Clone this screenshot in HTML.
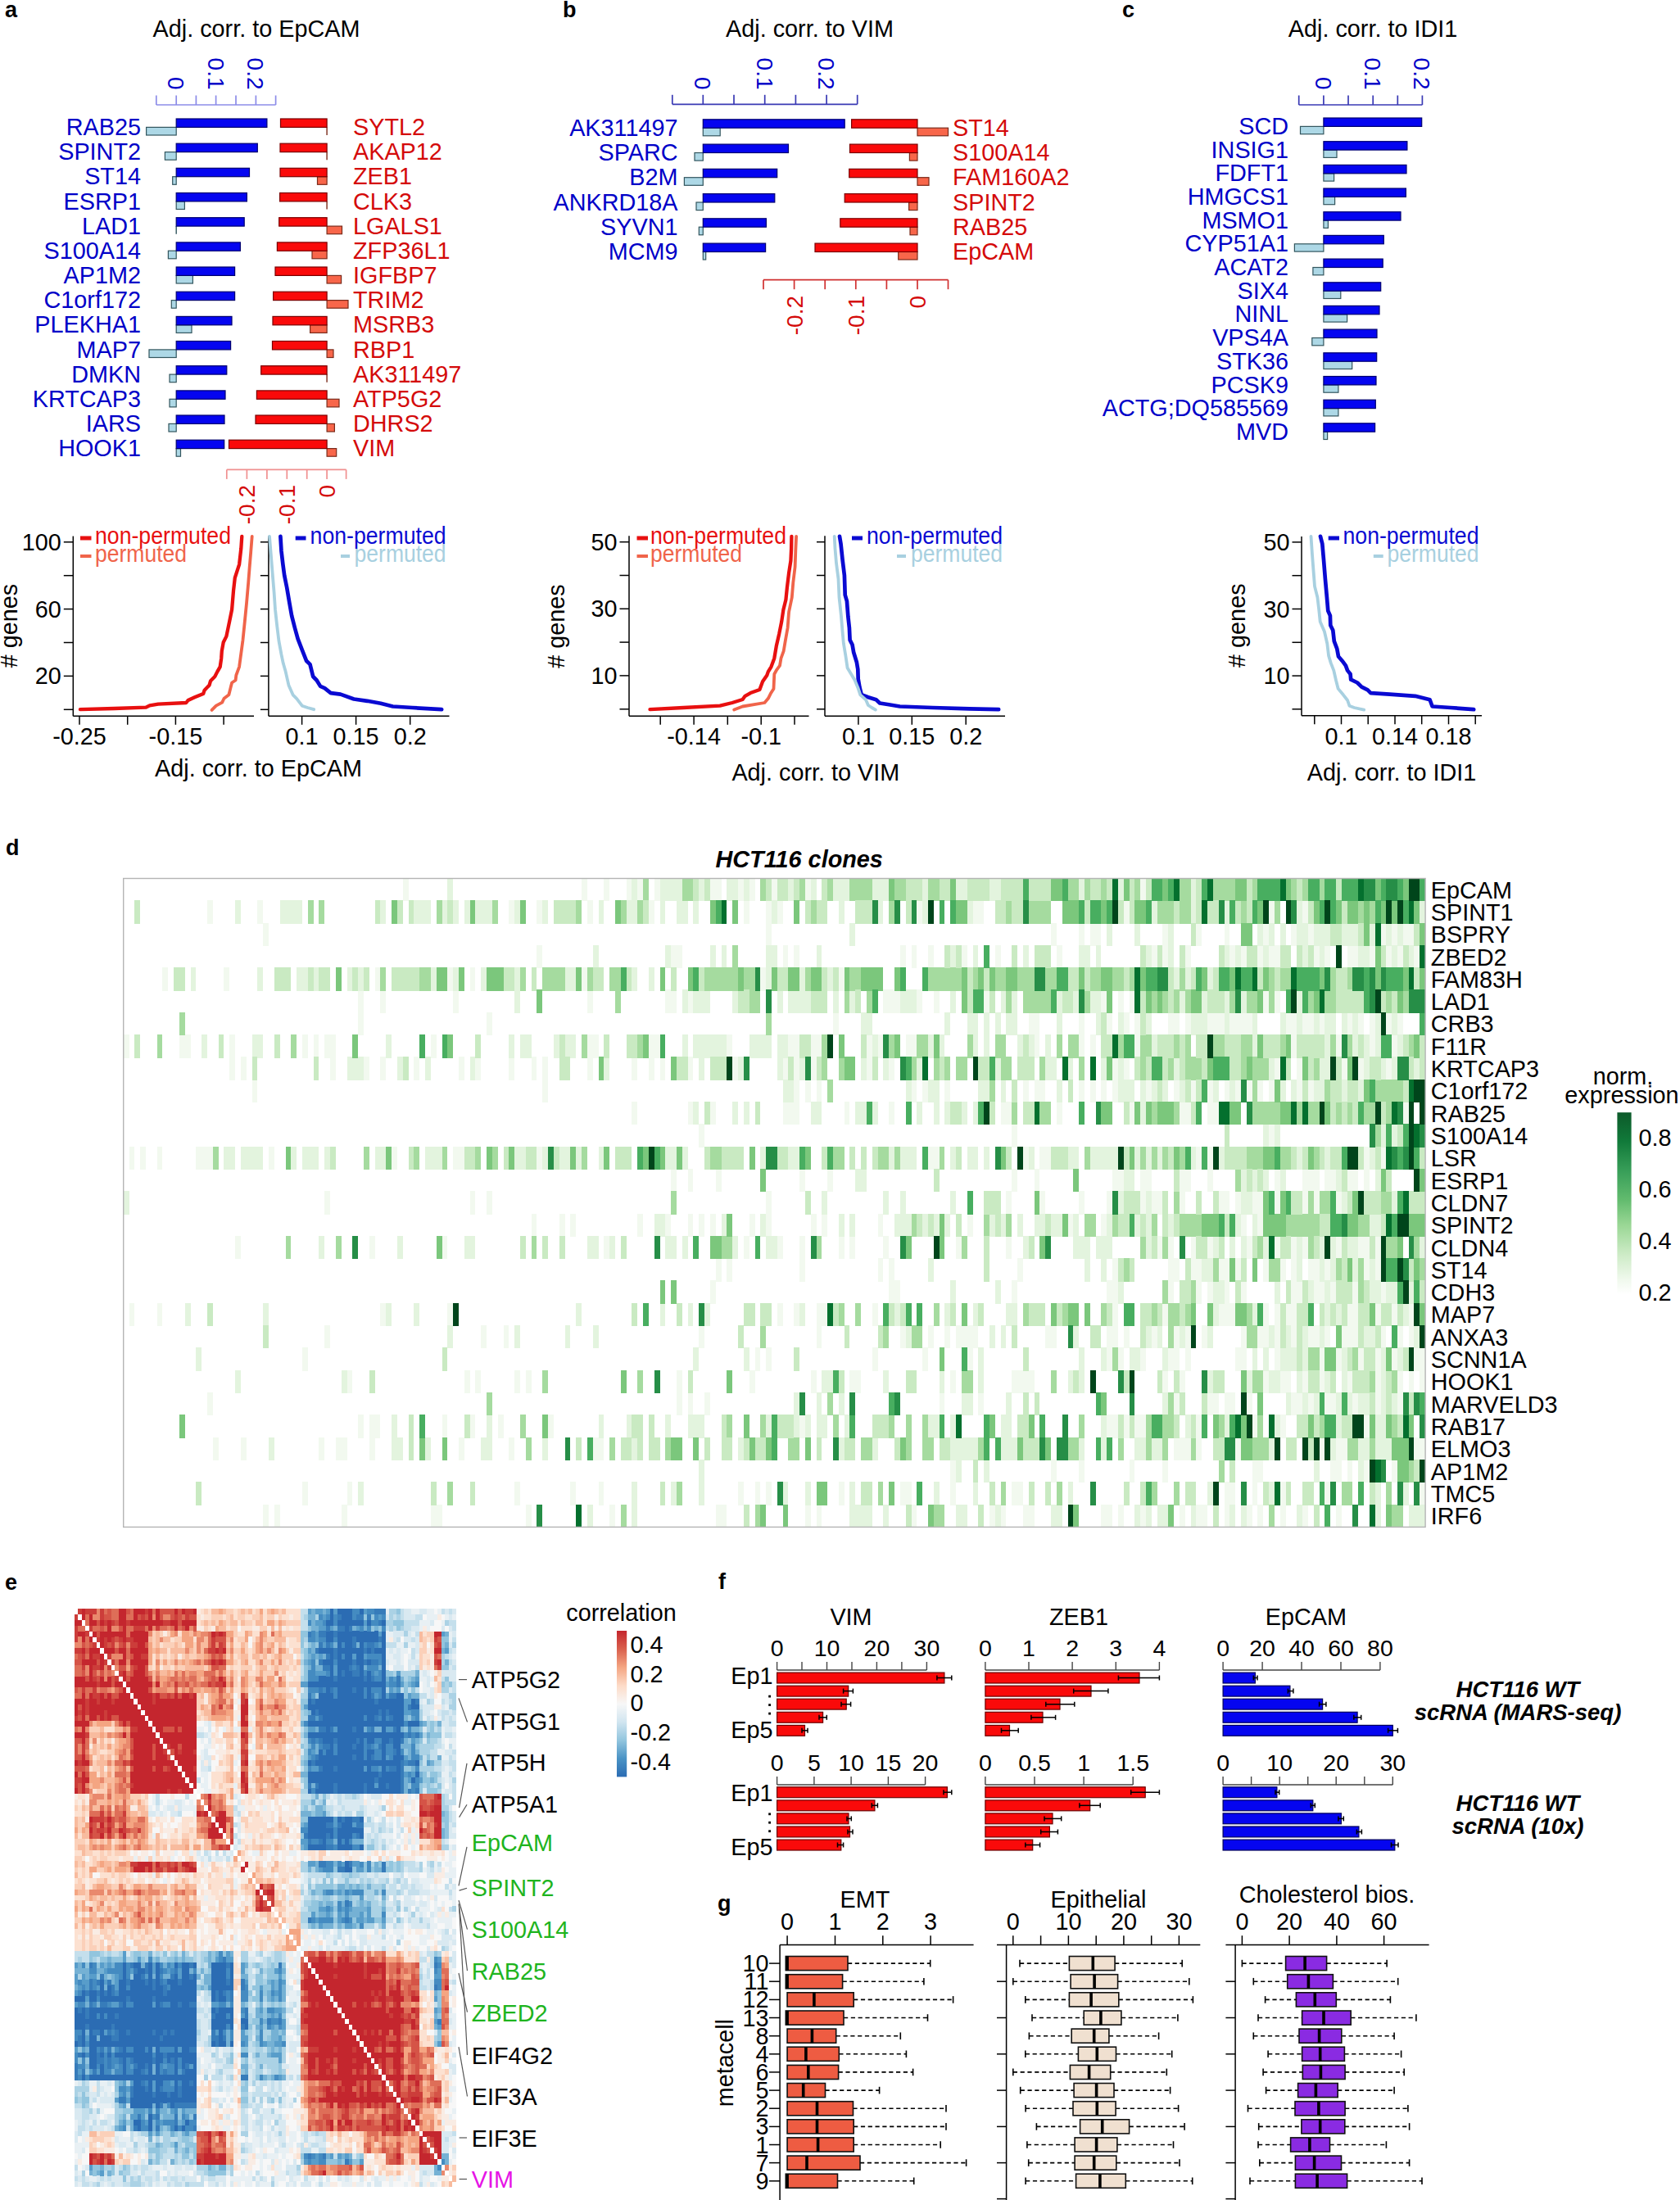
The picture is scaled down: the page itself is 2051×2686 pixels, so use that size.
<!DOCTYPE html>
<html><head><meta charset="utf-8"><title>Figure</title>
<style>html,body{margin:0;padding:0;background:#fff}svg{display:block}text{font-family:"Liberation Sans",Arial,sans-serif}</style>
</head><body>
<svg width="2051" height="2686" viewBox="0 0 2051 2686">
<rect width="2051" height="2686" fill="#fff"/>
<text x="6.0" y="21.0" font-size="27" font-weight="bold">a</text>
<text x="313.0" y="44.6" font-size="28.8" text-anchor="middle">Adj. corr. to EpCAM</text>
<line x1="190.8" y1="128.0" x2="336.6" y2="128.0" stroke="#8c8ce8" stroke-width="1.7"/>
<line x1="190.8" y1="128.0" x2="190.8" y2="116.5" stroke="#8c8ce8" stroke-width="1.7"/>
<line x1="215.2" y1="128.0" x2="215.2" y2="116.5" stroke="#8c8ce8" stroke-width="1.7"/>
<line x1="239.4" y1="128.0" x2="239.4" y2="116.5" stroke="#8c8ce8" stroke-width="1.7"/>
<line x1="263.6" y1="128.0" x2="263.6" y2="116.5" stroke="#8c8ce8" stroke-width="1.7"/>
<line x1="288.0" y1="128.0" x2="288.0" y2="116.5" stroke="#8c8ce8" stroke-width="1.7"/>
<line x1="312.4" y1="128.0" x2="312.4" y2="116.5" stroke="#8c8ce8" stroke-width="1.7"/>
<line x1="336.6" y1="128.0" x2="336.6" y2="116.5" stroke="#8c8ce8" stroke-width="1.7"/>
<text transform="translate(205.2,109.5) rotate(90)" font-size="28" text-anchor="end" fill="#0000c8">0</text>
<text transform="translate(253.6,109.5) rotate(90)" font-size="28" text-anchor="end" fill="#0000c8">0.1</text>
<text transform="translate(302.4,109.5) rotate(90)" font-size="28" text-anchor="end" fill="#0000c8">0.2</text>
<rect x="178.6" y="155.4" width="36.6" height="9.6" fill="#add8e6" stroke="#33565e" stroke-width="1.2"/>
<rect x="215.2" y="145.0" width="110.7" height="10.4" fill="#0505f0" stroke="#00006e" stroke-width="1.2"/>
<rect x="201.4" y="185.6" width="13.8" height="9.6" fill="#add8e6" stroke="#33565e" stroke-width="1.2"/>
<rect x="215.2" y="175.2" width="99.1" height="10.4" fill="#0505f0" stroke="#00006e" stroke-width="1.2"/>
<rect x="210.7" y="215.7" width="4.5" height="9.6" fill="#add8e6" stroke="#33565e" stroke-width="1.2"/>
<rect x="215.2" y="205.3" width="89.3" height="10.4" fill="#0505f0" stroke="#00006e" stroke-width="1.2"/>
<rect x="215.2" y="245.9" width="10.2" height="9.6" fill="#add8e6" stroke="#33565e" stroke-width="1.2"/>
<rect x="215.2" y="235.5" width="86.2" height="10.4" fill="#0505f0" stroke="#00006e" stroke-width="1.2"/>
<line x1="215.2" y1="276.1" x2="215.2" y2="285.7" stroke="#33565e" stroke-width="1.4"/>
<rect x="215.2" y="265.7" width="83.0" height="10.4" fill="#0505f0" stroke="#00006e" stroke-width="1.2"/>
<rect x="205.4" y="306.2" width="9.8" height="9.6" fill="#add8e6" stroke="#33565e" stroke-width="1.2"/>
<rect x="215.2" y="295.9" width="78.2" height="10.4" fill="#0505f0" stroke="#00006e" stroke-width="1.2"/>
<rect x="215.2" y="336.4" width="20.2" height="9.6" fill="#add8e6" stroke="#33565e" stroke-width="1.2"/>
<rect x="215.2" y="326.0" width="71.4" height="10.4" fill="#0505f0" stroke="#00006e" stroke-width="1.2"/>
<rect x="209.3" y="366.6" width="5.9" height="9.6" fill="#add8e6" stroke="#33565e" stroke-width="1.2"/>
<rect x="215.2" y="356.2" width="71.4" height="10.4" fill="#0505f0" stroke="#00006e" stroke-width="1.2"/>
<rect x="215.2" y="396.8" width="18.8" height="9.6" fill="#add8e6" stroke="#33565e" stroke-width="1.2"/>
<rect x="215.2" y="386.4" width="67.8" height="10.4" fill="#0505f0" stroke="#00006e" stroke-width="1.2"/>
<rect x="182.0" y="426.9" width="33.2" height="9.6" fill="#add8e6" stroke="#33565e" stroke-width="1.2"/>
<rect x="215.2" y="416.5" width="66.4" height="10.4" fill="#0505f0" stroke="#00006e" stroke-width="1.2"/>
<rect x="207.0" y="457.1" width="8.2" height="9.6" fill="#add8e6" stroke="#33565e" stroke-width="1.2"/>
<rect x="215.2" y="446.7" width="61.6" height="10.4" fill="#0505f0" stroke="#00006e" stroke-width="1.2"/>
<rect x="207.0" y="487.3" width="8.2" height="9.6" fill="#add8e6" stroke="#33565e" stroke-width="1.2"/>
<rect x="215.2" y="476.9" width="59.8" height="10.4" fill="#0505f0" stroke="#00006e" stroke-width="1.2"/>
<rect x="206.0" y="517.4" width="9.2" height="9.6" fill="#add8e6" stroke="#33565e" stroke-width="1.2"/>
<rect x="215.2" y="507.0" width="58.8" height="10.4" fill="#0505f0" stroke="#00006e" stroke-width="1.2"/>
<rect x="215.2" y="547.6" width="5.3" height="9.6" fill="#add8e6" stroke="#33565e" stroke-width="1.2"/>
<rect x="215.2" y="537.2" width="58.5" height="10.4" fill="#0505f0" stroke="#00006e" stroke-width="1.2"/>
<text x="172.0" y="165.0" font-size="28.8" text-anchor="end" fill="#0000c8">RAB25</text>
<text x="172.0" y="195.2" font-size="28.8" text-anchor="end" fill="#0000c8">SPINT2</text>
<text x="172.0" y="225.3" font-size="28.8" text-anchor="end" fill="#0000c8">ST14</text>
<text x="172.0" y="255.5" font-size="28.8" text-anchor="end" fill="#0000c8">ESRP1</text>
<text x="172.0" y="285.7" font-size="28.8" text-anchor="end" fill="#0000c8">LAD1</text>
<text x="172.0" y="315.9" font-size="28.8" text-anchor="end" fill="#0000c8">S100A14</text>
<text x="172.0" y="346.0" font-size="28.8" text-anchor="end" fill="#0000c8">AP1M2</text>
<text x="172.0" y="376.2" font-size="28.8" text-anchor="end" fill="#0000c8">C1orf172</text>
<text x="172.0" y="406.4" font-size="28.8" text-anchor="end" fill="#0000c8">PLEKHA1</text>
<text x="172.0" y="436.5" font-size="28.8" text-anchor="end" fill="#0000c8">MAP7</text>
<text x="172.0" y="466.7" font-size="28.8" text-anchor="end" fill="#0000c8">DMKN</text>
<text x="172.0" y="496.9" font-size="28.8" text-anchor="end" fill="#0000c8">KRTCAP3</text>
<text x="172.0" y="527.0" font-size="28.8" text-anchor="end" fill="#0000c8">IARS</text>
<text x="172.0" y="557.2" font-size="28.8" text-anchor="end" fill="#0000c8">HOOK1</text>
<line x1="399.1" y1="155.4" x2="399.1" y2="165.0" stroke="#7a2a1a" stroke-width="1.4"/>
<rect x="342.5" y="145.0" width="56.6" height="10.4" fill="#fa0a0a" stroke="#7a0000" stroke-width="1.2"/>
<line x1="399.1" y1="185.6" x2="399.1" y2="195.2" stroke="#7a2a1a" stroke-width="1.4"/>
<rect x="342.0" y="175.2" width="57.1" height="10.4" fill="#fa0a0a" stroke="#7a0000" stroke-width="1.2"/>
<rect x="387.5" y="215.7" width="11.6" height="9.6" fill="#f8664a" stroke="#7a2a1a" stroke-width="1.2"/>
<rect x="342.0" y="205.3" width="57.1" height="10.4" fill="#fa0a0a" stroke="#7a0000" stroke-width="1.2"/>
<line x1="399.1" y1="245.9" x2="399.1" y2="255.5" stroke="#7a2a1a" stroke-width="1.4"/>
<rect x="341.6" y="235.5" width="57.5" height="10.4" fill="#fa0a0a" stroke="#7a0000" stroke-width="1.2"/>
<rect x="399.1" y="276.1" width="18.4" height="9.6" fill="#f8664a" stroke="#7a2a1a" stroke-width="1.2"/>
<rect x="340.7" y="265.7" width="58.4" height="10.4" fill="#fa0a0a" stroke="#7a0000" stroke-width="1.2"/>
<rect x="381.0" y="306.2" width="18.1" height="9.6" fill="#f8664a" stroke="#7a2a1a" stroke-width="1.2"/>
<rect x="338.4" y="295.9" width="60.7" height="10.4" fill="#fa0a0a" stroke="#7a0000" stroke-width="1.2"/>
<rect x="399.1" y="336.4" width="17.5" height="9.6" fill="#f8664a" stroke="#7a2a1a" stroke-width="1.2"/>
<rect x="336.0" y="326.0" width="63.1" height="10.4" fill="#fa0a0a" stroke="#7a0000" stroke-width="1.2"/>
<rect x="399.1" y="366.6" width="25.9" height="9.6" fill="#f8664a" stroke="#7a2a1a" stroke-width="1.2"/>
<rect x="333.6" y="356.2" width="65.5" height="10.4" fill="#fa0a0a" stroke="#7a0000" stroke-width="1.2"/>
<rect x="378.6" y="396.8" width="20.5" height="9.6" fill="#f8664a" stroke="#7a2a1a" stroke-width="1.2"/>
<rect x="333.0" y="386.4" width="66.1" height="10.4" fill="#fa0a0a" stroke="#7a0000" stroke-width="1.2"/>
<rect x="399.1" y="426.9" width="7.9" height="9.6" fill="#f8664a" stroke="#7a2a1a" stroke-width="1.2"/>
<rect x="332.5" y="416.5" width="66.6" height="10.4" fill="#fa0a0a" stroke="#7a0000" stroke-width="1.2"/>
<line x1="399.1" y1="457.1" x2="399.1" y2="466.7" stroke="#7a2a1a" stroke-width="1.4"/>
<rect x="318.7" y="446.7" width="80.4" height="10.4" fill="#fa0a0a" stroke="#7a0000" stroke-width="1.2"/>
<rect x="399.1" y="487.3" width="14.9" height="9.6" fill="#f8664a" stroke="#7a2a1a" stroke-width="1.2"/>
<rect x="313.4" y="476.9" width="85.7" height="10.4" fill="#fa0a0a" stroke="#7a0000" stroke-width="1.2"/>
<rect x="399.1" y="517.4" width="9.3" height="9.6" fill="#f8664a" stroke="#7a2a1a" stroke-width="1.2"/>
<rect x="312.0" y="507.0" width="87.1" height="10.4" fill="#fa0a0a" stroke="#7a0000" stroke-width="1.2"/>
<rect x="399.1" y="547.6" width="11.6" height="9.6" fill="#f8664a" stroke="#7a2a1a" stroke-width="1.2"/>
<rect x="279.5" y="537.2" width="119.6" height="10.4" fill="#fa0a0a" stroke="#7a0000" stroke-width="1.2"/>
<text x="431.0" y="165.0" font-size="28.8" fill="#d40a0a">SYTL2</text>
<text x="431.0" y="195.2" font-size="28.8" fill="#d40a0a">AKAP12</text>
<text x="431.0" y="225.3" font-size="28.8" fill="#d40a0a">ZEB1</text>
<text x="431.0" y="255.5" font-size="28.8" fill="#d40a0a">CLK3</text>
<text x="431.0" y="285.7" font-size="28.8" fill="#d40a0a">LGALS1</text>
<text x="431.0" y="315.9" font-size="28.8" fill="#d40a0a">ZFP36L1</text>
<text x="431.0" y="346.0" font-size="28.8" fill="#d40a0a">IGFBP7</text>
<text x="431.0" y="376.2" font-size="28.8" fill="#d40a0a">TRIM2</text>
<text x="431.0" y="406.4" font-size="28.8" fill="#d40a0a">MSRB3</text>
<text x="431.0" y="436.5" font-size="28.8" fill="#d40a0a">RBP1</text>
<text x="431.0" y="466.7" font-size="28.8" fill="#d40a0a">AK311497</text>
<text x="431.0" y="496.9" font-size="28.8" fill="#d40a0a">ATP5G2</text>
<text x="431.0" y="527.0" font-size="28.8" fill="#d40a0a">DHRS2</text>
<text x="431.0" y="557.2" font-size="28.8" fill="#d40a0a">VIM</text>
<line x1="276.8" y1="573.4" x2="422.6" y2="573.4" stroke="#f09090" stroke-width="1.7"/>
<line x1="276.8" y1="573.4" x2="276.8" y2="584.9" stroke="#f09090" stroke-width="1.7"/>
<line x1="301.4" y1="573.4" x2="301.4" y2="584.9" stroke="#f09090" stroke-width="1.7"/>
<line x1="325.9" y1="573.4" x2="325.9" y2="584.9" stroke="#f09090" stroke-width="1.7"/>
<line x1="350.3" y1="573.4" x2="350.3" y2="584.9" stroke="#f09090" stroke-width="1.7"/>
<line x1="374.7" y1="573.4" x2="374.7" y2="584.9" stroke="#f09090" stroke-width="1.7"/>
<line x1="399.1" y1="573.4" x2="399.1" y2="584.9" stroke="#f09090" stroke-width="1.7"/>
<line x1="422.6" y1="573.4" x2="422.6" y2="584.9" stroke="#f09090" stroke-width="1.7"/>
<text transform="translate(311.4,592.0) rotate(-90)" font-size="28" text-anchor="end" fill="#d40a0a">-0.2</text>
<text transform="translate(360.3,592.0) rotate(-90)" font-size="28" text-anchor="end" fill="#d40a0a">-0.1</text>
<text transform="translate(409.1,592.0) rotate(-90)" font-size="28" text-anchor="end" fill="#d40a0a">0</text>
<text x="687.0" y="21.0" font-size="27" font-weight="bold">b</text>
<text x="988.5" y="44.6" font-size="28.8" text-anchor="middle">Adj. corr. to VIM</text>
<line x1="820.8" y1="127.3" x2="1046.7" y2="127.3" stroke="#3a3ab4" stroke-width="1.7"/>
<line x1="820.8" y1="127.3" x2="820.8" y2="115.8" stroke="#3a3ab4" stroke-width="1.7"/>
<line x1="858.3" y1="127.3" x2="858.3" y2="115.8" stroke="#3a3ab4" stroke-width="1.7"/>
<line x1="896.0" y1="127.3" x2="896.0" y2="115.8" stroke="#3a3ab4" stroke-width="1.7"/>
<line x1="933.7" y1="127.3" x2="933.7" y2="115.8" stroke="#3a3ab4" stroke-width="1.7"/>
<line x1="971.4" y1="127.3" x2="971.4" y2="115.8" stroke="#3a3ab4" stroke-width="1.7"/>
<line x1="1009.1" y1="127.3" x2="1009.1" y2="115.8" stroke="#3a3ab4" stroke-width="1.7"/>
<line x1="1046.7" y1="127.3" x2="1046.7" y2="115.8" stroke="#3a3ab4" stroke-width="1.7"/>
<text transform="translate(848.3,109.5) rotate(90)" font-size="28" text-anchor="end" fill="#0000c8">0</text>
<text transform="translate(923.7,109.5) rotate(90)" font-size="28" text-anchor="end" fill="#0000c8">0.1</text>
<text transform="translate(999.1,109.5) rotate(90)" font-size="28" text-anchor="end" fill="#0000c8">0.2</text>
<rect x="858.3" y="156.2" width="20.9" height="9.6" fill="#add8e6" stroke="#33565e" stroke-width="1.2"/>
<rect x="858.3" y="145.8" width="172.9" height="10.4" fill="#0505f0" stroke="#00006e" stroke-width="1.2"/>
<rect x="848.0" y="186.5" width="10.3" height="9.6" fill="#add8e6" stroke="#33565e" stroke-width="1.2"/>
<rect x="858.3" y="176.1" width="104.2" height="10.4" fill="#0505f0" stroke="#00006e" stroke-width="1.2"/>
<rect x="835.4" y="216.7" width="22.9" height="9.6" fill="#add8e6" stroke="#33565e" stroke-width="1.2"/>
<rect x="858.3" y="206.3" width="90.4" height="10.4" fill="#0505f0" stroke="#00006e" stroke-width="1.2"/>
<rect x="850.0" y="247.0" width="8.3" height="9.6" fill="#add8e6" stroke="#33565e" stroke-width="1.2"/>
<rect x="858.3" y="236.6" width="87.5" height="10.4" fill="#0505f0" stroke="#00006e" stroke-width="1.2"/>
<rect x="853.3" y="277.2" width="5.0" height="9.6" fill="#add8e6" stroke="#33565e" stroke-width="1.2"/>
<rect x="858.3" y="266.8" width="77.1" height="10.4" fill="#0505f0" stroke="#00006e" stroke-width="1.2"/>
<rect x="858.3" y="307.4" width="3.4" height="9.6" fill="#add8e6" stroke="#33565e" stroke-width="1.2"/>
<rect x="858.3" y="297.1" width="76.3" height="10.4" fill="#0505f0" stroke="#00006e" stroke-width="1.2"/>
<text x="827.5" y="165.8" font-size="28.8" text-anchor="end" fill="#0000c8">AK311497</text>
<text x="827.5" y="196.1" font-size="28.8" text-anchor="end" fill="#0000c8">SPARC</text>
<text x="827.5" y="226.3" font-size="28.8" text-anchor="end" fill="#0000c8">B2M</text>
<text x="827.5" y="256.6" font-size="28.8" text-anchor="end" fill="#0000c8">ANKRD18A</text>
<text x="827.5" y="286.8" font-size="28.8" text-anchor="end" fill="#0000c8">SYVN1</text>
<text x="827.5" y="317.1" font-size="28.8" text-anchor="end" fill="#0000c8">MCM9</text>
<rect x="1120.0" y="156.2" width="37.5" height="9.6" fill="#f8664a" stroke="#7a2a1a" stroke-width="1.2"/>
<rect x="1039.6" y="145.8" width="80.4" height="10.4" fill="#fa0a0a" stroke="#7a0000" stroke-width="1.2"/>
<rect x="1110.4" y="186.5" width="9.6" height="9.6" fill="#f8664a" stroke="#7a2a1a" stroke-width="1.2"/>
<rect x="1037.5" y="176.1" width="82.5" height="10.4" fill="#fa0a0a" stroke="#7a0000" stroke-width="1.2"/>
<rect x="1120.0" y="216.7" width="14.0" height="9.6" fill="#f8664a" stroke="#7a2a1a" stroke-width="1.2"/>
<rect x="1036.7" y="206.3" width="83.3" height="10.4" fill="#fa0a0a" stroke="#7a0000" stroke-width="1.2"/>
<rect x="1109.6" y="247.0" width="10.4" height="9.6" fill="#f8664a" stroke="#7a2a1a" stroke-width="1.2"/>
<rect x="1031.2" y="236.6" width="88.8" height="10.4" fill="#fa0a0a" stroke="#7a0000" stroke-width="1.2"/>
<rect x="1111.0" y="277.2" width="9.0" height="9.6" fill="#f8664a" stroke="#7a2a1a" stroke-width="1.2"/>
<rect x="1025.8" y="266.8" width="94.2" height="10.4" fill="#fa0a0a" stroke="#7a0000" stroke-width="1.2"/>
<rect x="1096.7" y="307.4" width="23.3" height="9.6" fill="#f8664a" stroke="#7a2a1a" stroke-width="1.2"/>
<rect x="995.0" y="297.1" width="125.0" height="10.4" fill="#fa0a0a" stroke="#7a0000" stroke-width="1.2"/>
<text x="1163.0" y="165.8" font-size="28.8" fill="#d40a0a">ST14</text>
<text x="1163.0" y="196.1" font-size="28.8" fill="#d40a0a">S100A14</text>
<text x="1163.0" y="226.3" font-size="28.8" fill="#d40a0a">FAM160A2</text>
<text x="1163.0" y="256.6" font-size="28.8" fill="#d40a0a">SPINT2</text>
<text x="1163.0" y="286.8" font-size="28.8" fill="#d40a0a">RAB25</text>
<text x="1163.0" y="317.1" font-size="28.8" fill="#d40a0a">EpCAM</text>
<line x1="932.0" y1="341.7" x2="1157.5" y2="341.7" stroke="#d03030" stroke-width="1.7"/>
<line x1="932.0" y1="341.7" x2="932.0" y2="353.2" stroke="#d03030" stroke-width="1.7"/>
<line x1="969.6" y1="341.7" x2="969.6" y2="353.2" stroke="#d03030" stroke-width="1.7"/>
<line x1="1007.2" y1="341.7" x2="1007.2" y2="353.2" stroke="#d03030" stroke-width="1.7"/>
<line x1="1044.8" y1="341.7" x2="1044.8" y2="353.2" stroke="#d03030" stroke-width="1.7"/>
<line x1="1082.4" y1="341.7" x2="1082.4" y2="353.2" stroke="#d03030" stroke-width="1.7"/>
<line x1="1120.0" y1="341.7" x2="1120.0" y2="353.2" stroke="#d03030" stroke-width="1.7"/>
<line x1="1157.5" y1="341.7" x2="1157.5" y2="353.2" stroke="#d03030" stroke-width="1.7"/>
<text transform="translate(979.6,361.0) rotate(-90)" font-size="28" text-anchor="end" fill="#d40a0a">-0.2</text>
<text transform="translate(1054.8,361.0) rotate(-90)" font-size="28" text-anchor="end" fill="#d40a0a">-0.1</text>
<text transform="translate(1130.0,361.0) rotate(-90)" font-size="28" text-anchor="end" fill="#d40a0a">0</text>
<text x="1370.0" y="21.0" font-size="27" font-weight="bold">c</text>
<text x="1676.0" y="44.6" font-size="28.8" text-anchor="middle">Adj. corr. to IDI1</text>
<line x1="1585.7" y1="128.0" x2="1736.4" y2="128.0" stroke="#3a3ab4" stroke-width="1.7"/>
<line x1="1585.7" y1="128.0" x2="1585.7" y2="116.5" stroke="#3a3ab4" stroke-width="1.7"/>
<line x1="1615.9" y1="128.0" x2="1615.9" y2="116.5" stroke="#3a3ab4" stroke-width="1.7"/>
<line x1="1646.0" y1="128.0" x2="1646.0" y2="116.5" stroke="#3a3ab4" stroke-width="1.7"/>
<line x1="1676.2" y1="128.0" x2="1676.2" y2="116.5" stroke="#3a3ab4" stroke-width="1.7"/>
<line x1="1706.3" y1="128.0" x2="1706.3" y2="116.5" stroke="#3a3ab4" stroke-width="1.7"/>
<line x1="1736.4" y1="128.0" x2="1736.4" y2="116.5" stroke="#3a3ab4" stroke-width="1.7"/>
<text transform="translate(1605.9,109.5) rotate(90)" font-size="28" text-anchor="end" fill="#0000c8">0</text>
<text transform="translate(1666.2,109.5) rotate(90)" font-size="28" text-anchor="end" fill="#0000c8">0.1</text>
<text transform="translate(1726.4,109.5) rotate(90)" font-size="28" text-anchor="end" fill="#0000c8">0.2</text>
<rect x="1587.5" y="154.4" width="28.4" height="9.3" fill="#add8e6" stroke="#33565e" stroke-width="1.2"/>
<rect x="1615.9" y="144.0" width="119.8" height="10.4" fill="#0505f0" stroke="#00006e" stroke-width="1.2"/>
<rect x="1615.9" y="183.1" width="16.1" height="9.3" fill="#add8e6" stroke="#33565e" stroke-width="1.2"/>
<rect x="1615.9" y="172.7" width="102.0" height="10.4" fill="#0505f0" stroke="#00006e" stroke-width="1.2"/>
<rect x="1615.9" y="211.8" width="12.7" height="9.3" fill="#add8e6" stroke="#33565e" stroke-width="1.2"/>
<rect x="1615.9" y="201.4" width="101.1" height="10.4" fill="#0505f0" stroke="#00006e" stroke-width="1.2"/>
<rect x="1615.9" y="240.4" width="13.7" height="9.3" fill="#add8e6" stroke="#33565e" stroke-width="1.2"/>
<rect x="1615.9" y="230.0" width="100.5" height="10.4" fill="#0505f0" stroke="#00006e" stroke-width="1.2"/>
<rect x="1615.9" y="269.1" width="5.5" height="9.3" fill="#add8e6" stroke="#33565e" stroke-width="1.2"/>
<rect x="1615.9" y="258.7" width="94.1" height="10.4" fill="#0505f0" stroke="#00006e" stroke-width="1.2"/>
<rect x="1580.4" y="297.8" width="35.5" height="9.3" fill="#add8e6" stroke="#33565e" stroke-width="1.2"/>
<rect x="1615.9" y="287.4" width="73.4" height="10.4" fill="#0505f0" stroke="#00006e" stroke-width="1.2"/>
<rect x="1602.9" y="326.5" width="13.0" height="9.3" fill="#add8e6" stroke="#33565e" stroke-width="1.2"/>
<rect x="1615.9" y="316.1" width="72.3" height="10.4" fill="#0505f0" stroke="#00006e" stroke-width="1.2"/>
<rect x="1615.9" y="355.2" width="20.9" height="9.3" fill="#add8e6" stroke="#33565e" stroke-width="1.2"/>
<rect x="1615.9" y="344.8" width="69.8" height="10.4" fill="#0505f0" stroke="#00006e" stroke-width="1.2"/>
<rect x="1615.9" y="383.8" width="28.7" height="9.3" fill="#add8e6" stroke="#33565e" stroke-width="1.2"/>
<rect x="1615.9" y="373.4" width="68.1" height="10.4" fill="#0505f0" stroke="#00006e" stroke-width="1.2"/>
<rect x="1601.8" y="412.5" width="14.1" height="9.3" fill="#add8e6" stroke="#33565e" stroke-width="1.2"/>
<rect x="1615.9" y="402.1" width="65.1" height="10.4" fill="#0505f0" stroke="#00006e" stroke-width="1.2"/>
<rect x="1615.9" y="441.2" width="34.8" height="9.3" fill="#add8e6" stroke="#33565e" stroke-width="1.2"/>
<rect x="1615.9" y="430.8" width="64.8" height="10.4" fill="#0505f0" stroke="#00006e" stroke-width="1.2"/>
<rect x="1615.9" y="469.9" width="18.0" height="9.3" fill="#add8e6" stroke="#33565e" stroke-width="1.2"/>
<rect x="1615.9" y="459.5" width="64.1" height="10.4" fill="#0505f0" stroke="#00006e" stroke-width="1.2"/>
<rect x="1615.9" y="498.6" width="18.0" height="9.3" fill="#add8e6" stroke="#33565e" stroke-width="1.2"/>
<rect x="1615.9" y="488.2" width="63.4" height="10.4" fill="#0505f0" stroke="#00006e" stroke-width="1.2"/>
<rect x="1615.9" y="527.2" width="4.7" height="9.3" fill="#add8e6" stroke="#33565e" stroke-width="1.2"/>
<rect x="1615.9" y="516.8" width="62.7" height="10.4" fill="#0505f0" stroke="#00006e" stroke-width="1.2"/>
<text x="1573.0" y="164.0" font-size="28.8" text-anchor="end" fill="#0000c8">SCD</text>
<text x="1573.0" y="192.7" font-size="28.8" text-anchor="end" fill="#0000c8">INSIG1</text>
<text x="1573.0" y="221.4" font-size="28.8" text-anchor="end" fill="#0000c8">FDFT1</text>
<text x="1573.0" y="250.0" font-size="28.8" text-anchor="end" fill="#0000c8">HMGCS1</text>
<text x="1573.0" y="278.7" font-size="28.8" text-anchor="end" fill="#0000c8">MSMO1</text>
<text x="1573.0" y="307.4" font-size="28.8" text-anchor="end" fill="#0000c8">CYP51A1</text>
<text x="1573.0" y="336.1" font-size="28.8" text-anchor="end" fill="#0000c8">ACAT2</text>
<text x="1573.0" y="364.8" font-size="28.8" text-anchor="end" fill="#0000c8">SIX4</text>
<text x="1573.0" y="393.4" font-size="28.8" text-anchor="end" fill="#0000c8">NINL</text>
<text x="1573.0" y="422.1" font-size="28.8" text-anchor="end" fill="#0000c8">VPS4A</text>
<text x="1573.0" y="450.8" font-size="28.8" text-anchor="end" fill="#0000c8">STK36</text>
<text x="1573.0" y="479.5" font-size="28.8" text-anchor="end" fill="#0000c8">PCSK9</text>
<text x="1573.0" y="508.2" font-size="28.8" text-anchor="end" fill="#0000c8">ACTG;DQ585569</text>
<text x="1573.0" y="536.8" font-size="28.8" text-anchor="end" fill="#0000c8">MVD</text>
<line x1="89.3" y1="654.6" x2="89.3" y2="874.3" stroke="#000" stroke-width="1.5"/>
<line x1="89.3" y1="874.3" x2="310.0" y2="874.3" stroke="#000" stroke-width="1.5"/>
<line x1="77.8" y1="661.8" x2="89.3" y2="661.8" stroke="#000" stroke-width="1.5"/>
<line x1="77.8" y1="702.7" x2="89.3" y2="702.7" stroke="#000" stroke-width="1.5"/>
<line x1="77.8" y1="743.6" x2="89.3" y2="743.6" stroke="#000" stroke-width="1.5"/>
<line x1="77.8" y1="784.5" x2="89.3" y2="784.5" stroke="#000" stroke-width="1.5"/>
<line x1="77.8" y1="825.4" x2="89.3" y2="825.4" stroke="#000" stroke-width="1.5"/>
<line x1="77.8" y1="866.3" x2="89.3" y2="866.3" stroke="#000" stroke-width="1.5"/>
<line x1="97.0" y1="874.3" x2="97.0" y2="884.8" stroke="#000" stroke-width="1.5"/>
<line x1="155.7" y1="874.3" x2="155.7" y2="884.8" stroke="#000" stroke-width="1.5"/>
<line x1="214.4" y1="874.3" x2="214.4" y2="884.8" stroke="#000" stroke-width="1.5"/>
<line x1="273.1" y1="874.3" x2="273.1" y2="884.8" stroke="#000" stroke-width="1.5"/>
<text x="97.0" y="908.5" font-size="28.8" text-anchor="middle">-0.25</text>
<text x="214.4" y="908.5" font-size="28.8" text-anchor="middle">-0.15</text>
<text x="74.8" y="671.8" font-size="28.8" text-anchor="end">100</text>
<text x="74.8" y="753.6" font-size="28.8" text-anchor="end">60</text>
<text x="74.8" y="835.4" font-size="28.8" text-anchor="end">20</text>
<line x1="327.9" y1="654.6" x2="327.9" y2="874.3" stroke="#000" stroke-width="1.5"/>
<line x1="327.9" y1="874.3" x2="548.5" y2="874.3" stroke="#000" stroke-width="1.5"/>
<line x1="317.9" y1="661.8" x2="327.9" y2="661.8" stroke="#000" stroke-width="1.5"/>
<line x1="317.9" y1="702.7" x2="327.9" y2="702.7" stroke="#000" stroke-width="1.5"/>
<line x1="317.9" y1="743.6" x2="327.9" y2="743.6" stroke="#000" stroke-width="1.5"/>
<line x1="317.9" y1="784.5" x2="327.9" y2="784.5" stroke="#000" stroke-width="1.5"/>
<line x1="317.9" y1="825.4" x2="327.9" y2="825.4" stroke="#000" stroke-width="1.5"/>
<line x1="317.9" y1="866.3" x2="327.9" y2="866.3" stroke="#000" stroke-width="1.5"/>
<line x1="368.6" y1="874.3" x2="368.6" y2="884.8" stroke="#000" stroke-width="1.5"/>
<line x1="434.6" y1="874.3" x2="434.6" y2="884.8" stroke="#000" stroke-width="1.5"/>
<line x1="500.7" y1="874.3" x2="500.7" y2="884.8" stroke="#000" stroke-width="1.5"/>
<text x="368.6" y="908.5" font-size="28.8" text-anchor="middle">0.1</text>
<text x="434.6" y="908.5" font-size="28.8" text-anchor="middle">0.15</text>
<text x="500.7" y="908.5" font-size="28.8" text-anchor="middle">0.2</text>
<text transform="translate(20.5,764.0) rotate(-90)" font-size="28.8" text-anchor="middle"># genes</text>
<text x="315.5" y="947.5" font-size="28.8" text-anchor="middle">Adj. corr. to EpCAM</text>
<polyline points="258.6,866.9 263.8,861.7 271.2,857.6 273.5,852.8 279.4,848.3 281.6,839.4 283.1,833.5 287.6,830.5 288.3,824.5 292.1,814.1 294.3,797.7 296.5,781.4 298.8,759.0 301.0,736.7 303.2,711.4 304.7,692.1 306.2,674.2 307.7,654.9" fill="none" stroke="#f0644a" stroke-width="3.8" stroke-linejoin="round" stroke-linecap="round"/>
<polyline points="97.9,866.2 139.5,865.0 178.2,863.7 182.7,861.4 193.1,859.6 227.3,858.0 229.6,855.0 237.7,851.3 248.2,847.1 249.6,842.7 255.6,836.4 257.1,831.2 262.3,826.0 265.3,820.1 268.7,814.1 270.2,803.7 270.8,794.8 272.7,784.3 276.4,776.9 280.1,759.0 283.1,744.2 285.1,720.4 286.8,705.5 292.1,689.1 294.3,669.8 295.3,654.9" fill="none" stroke="#e81010" stroke-width="4.3" stroke-linejoin="round" stroke-linecap="round"/>
<polyline points="329.0,654.9 330.8,677.2 332.6,699.5 334.6,723.3 336.0,744.2 338.3,765.0 340.5,782.9 343.5,799.2 345.7,809.6 348.7,820.1 352.4,836.4 357.6,848.3 362.1,852.8 368.8,861.7 375.5,864.0 383.2,866.2" fill="none" stroke="#a8d0e0" stroke-width="3.8" stroke-linejoin="round" stroke-linecap="round"/>
<polyline points="342.4,654.9 343.5,672.7 345.4,689.1 347.2,702.5 350.2,717.4 353.2,735.2 356.1,751.6 359.9,766.5 363.6,779.9 368.8,793.3 374.0,806.7 378.5,811.1 382.2,826.0 386.6,830.5 391.1,837.9 396.3,840.1 403.8,846.1 415.7,847.6 432.0,853.5 448.4,855.8 464.8,858.8 479.6,862.5 503.5,864.0 539.2,866.2" fill="none" stroke="#0a0ad2" stroke-width="4.7" stroke-linejoin="round" stroke-linecap="round"/>
<line x1="98.0" y1="657.0" x2="111.5" y2="657.0" stroke="#e81010" stroke-width="5"/>
<text x="116.0" y="663.6" font-size="28.8" fill="#e81010" textLength="166" lengthAdjust="spacingAndGlyphs">non-permuted</text>
<line x1="98.0" y1="679.0" x2="111.5" y2="679.0" stroke="#f0644a" stroke-width="4"/>
<text x="116.0" y="685.7" font-size="28.8" fill="#f0644a" textLength="112" lengthAdjust="spacingAndGlyphs">permuted</text>
<line x1="360.7" y1="657.0" x2="373.5" y2="657.0" stroke="#0a0ad2" stroke-width="5"/>
<text x="544.6" y="663.6" font-size="28.8" text-anchor="end" fill="#0a0ad2" textLength="166" lengthAdjust="spacingAndGlyphs">non-permuted</text>
<line x1="416.0" y1="679.0" x2="427.0" y2="679.0" stroke="#a8d0e0" stroke-width="4"/>
<text x="544.6" y="685.7" font-size="28.8" text-anchor="end" fill="#a8d0e0" textLength="112" lengthAdjust="spacingAndGlyphs">permuted</text>
<line x1="768.0" y1="654.2" x2="768.0" y2="874.3" stroke="#000" stroke-width="1.5"/>
<line x1="768.0" y1="874.3" x2="987.5" y2="874.3" stroke="#000" stroke-width="1.5"/>
<line x1="756.5" y1="661.7" x2="768.0" y2="661.7" stroke="#000" stroke-width="1.5"/>
<line x1="756.5" y1="702.5" x2="768.0" y2="702.5" stroke="#000" stroke-width="1.5"/>
<line x1="756.5" y1="743.3" x2="768.0" y2="743.3" stroke="#000" stroke-width="1.5"/>
<line x1="756.5" y1="784.1" x2="768.0" y2="784.1" stroke="#000" stroke-width="1.5"/>
<line x1="756.5" y1="824.9" x2="768.0" y2="824.9" stroke="#000" stroke-width="1.5"/>
<line x1="756.5" y1="865.8" x2="768.0" y2="865.8" stroke="#000" stroke-width="1.5"/>
<line x1="806.2" y1="874.3" x2="806.2" y2="884.8" stroke="#000" stroke-width="1.5"/>
<line x1="847.1" y1="874.3" x2="847.1" y2="884.8" stroke="#000" stroke-width="1.5"/>
<line x1="888.3" y1="874.3" x2="888.3" y2="884.8" stroke="#000" stroke-width="1.5"/>
<line x1="929.2" y1="874.3" x2="929.2" y2="884.8" stroke="#000" stroke-width="1.5"/>
<line x1="970.0" y1="874.3" x2="970.0" y2="884.8" stroke="#000" stroke-width="1.5"/>
<text x="847.1" y="908.5" font-size="28.8" text-anchor="middle">-0.14</text>
<text x="929.2" y="908.5" font-size="28.8" text-anchor="middle">-0.1</text>
<text x="753.5" y="671.7" font-size="28.8" text-anchor="end">50</text>
<text x="753.5" y="753.3" font-size="28.8" text-anchor="end">30</text>
<text x="753.5" y="834.9" font-size="28.8" text-anchor="end">10</text>
<line x1="1007.0" y1="654.2" x2="1007.0" y2="874.3" stroke="#000" stroke-width="1.5"/>
<line x1="1007.0" y1="874.3" x2="1227.0" y2="874.3" stroke="#000" stroke-width="1.5"/>
<line x1="997.0" y1="661.7" x2="1007.0" y2="661.7" stroke="#000" stroke-width="1.5"/>
<line x1="997.0" y1="702.5" x2="1007.0" y2="702.5" stroke="#000" stroke-width="1.5"/>
<line x1="997.0" y1="743.3" x2="1007.0" y2="743.3" stroke="#000" stroke-width="1.5"/>
<line x1="997.0" y1="784.1" x2="1007.0" y2="784.1" stroke="#000" stroke-width="1.5"/>
<line x1="997.0" y1="824.9" x2="1007.0" y2="824.9" stroke="#000" stroke-width="1.5"/>
<line x1="997.0" y1="865.8" x2="1007.0" y2="865.8" stroke="#000" stroke-width="1.5"/>
<line x1="1047.9" y1="874.3" x2="1047.9" y2="884.8" stroke="#000" stroke-width="1.5"/>
<line x1="1113.3" y1="874.3" x2="1113.3" y2="884.8" stroke="#000" stroke-width="1.5"/>
<line x1="1179.2" y1="874.3" x2="1179.2" y2="884.8" stroke="#000" stroke-width="1.5"/>
<text x="1047.9" y="908.5" font-size="28.8" text-anchor="middle">0.1</text>
<text x="1113.3" y="908.5" font-size="28.8" text-anchor="middle">0.15</text>
<text x="1179.2" y="908.5" font-size="28.8" text-anchor="middle">0.2</text>
<text transform="translate(688.5,764.6) rotate(-90)" font-size="28.8" text-anchor="middle"># genes</text>
<text x="995.8" y="953.2" font-size="28.8" text-anchor="middle">Adj. corr. to VIM</text>
<polyline points="896.2,866.5 906.6,862.5 920.7,860.2 933.4,858.0 937.8,852.8 940.8,846.8 944.5,840.9 945.3,823.0 948.2,817.8 952.0,812.6 953.5,803.7 956.7,794.8 958.7,782.9 961.6,766.5 963.1,747.1 966.8,729.3 968.3,711.4 970.6,692.1 971.3,672.7 972.1,654.9" fill="none" stroke="#f0644a" stroke-width="3.8" stroke-linejoin="round" stroke-linecap="round"/>
<polyline points="793.5,866.2 834.4,864.0 879.0,861.7 893.9,858.0 906.6,854.0 909.6,849.8 916.2,846.1 927.4,842.1 931.1,832.0 936.3,824.5 937.8,820.1 941.5,814.1 945.3,803.7 947.8,788.8 951.2,773.9 954.2,759.0 956.4,744.2 959.4,732.3 960.9,717.4 963.1,699.5 965.4,684.6 966.1,669.8 966.4,654.9" fill="none" stroke="#e81010" stroke-width="4.3" stroke-linejoin="round" stroke-linecap="round"/>
<polyline points="1025.0,654.9 1026.5,663.8 1028.7,684.6 1030.9,702.5 1031.7,726.3 1033.9,733.8 1035.4,753.1 1036.9,766.5 1037.6,781.4 1040.6,787.3 1042.1,796.2 1045.8,808.2 1047.3,817.1 1047.7,829.0 1049.5,839.4 1051.8,848.3 1059.9,851.3 1069.6,854.3 1074.1,858.5 1085.2,860.2 1098.6,862.5 1138.8,864.0 1183.5,865.4 1219.2,866.2" fill="none" stroke="#0a0ad2" stroke-width="4.7" stroke-linejoin="round" stroke-linecap="round"/>
<polyline points="1018.7,654.9 1019.5,669.8 1021.0,687.6 1023.5,707.0 1024.5,729.3 1026.9,751.6 1028.4,769.5 1029.9,785.8 1032.4,800.7 1034.6,815.6 1039.1,823.0 1043.6,830.5 1047.3,839.4 1050.3,848.3 1057.0,854.3 1059.9,861.0 1064.4,864.0 1068.9,866.6" fill="none" stroke="#a8d0e0" stroke-width="3.8" stroke-linejoin="round" stroke-linecap="round"/>
<line x1="777.5" y1="657.0" x2="791.0" y2="657.0" stroke="#e81010" stroke-width="5"/>
<text x="794.0" y="663.6" font-size="28.8" fill="#e81010" textLength="166" lengthAdjust="spacingAndGlyphs">non-permuted</text>
<line x1="777.5" y1="679.0" x2="791.0" y2="679.0" stroke="#f0644a" stroke-width="4"/>
<text x="794.0" y="685.7" font-size="28.8" fill="#f0644a" textLength="112" lengthAdjust="spacingAndGlyphs">permuted</text>
<line x1="1040.0" y1="657.0" x2="1053.0" y2="657.0" stroke="#0a0ad2" stroke-width="5"/>
<text x="1224.0" y="663.6" font-size="28.8" text-anchor="end" fill="#0a0ad2" textLength="166" lengthAdjust="spacingAndGlyphs">non-permuted</text>
<line x1="1095.0" y1="679.0" x2="1106.0" y2="679.0" stroke="#a8d0e0" stroke-width="4"/>
<text x="1224.0" y="685.7" font-size="28.8" text-anchor="end" fill="#a8d0e0" textLength="112" lengthAdjust="spacingAndGlyphs">permuted</text>
<line x1="1589.0" y1="655.0" x2="1589.0" y2="873.8" stroke="#000" stroke-width="1.5"/>
<line x1="1589.0" y1="873.8" x2="1809.0" y2="873.8" stroke="#000" stroke-width="1.5"/>
<line x1="1577.5" y1="661.9" x2="1589.0" y2="661.9" stroke="#000" stroke-width="1.5"/>
<line x1="1577.5" y1="702.7" x2="1589.0" y2="702.7" stroke="#000" stroke-width="1.5"/>
<line x1="1577.5" y1="743.5" x2="1589.0" y2="743.5" stroke="#000" stroke-width="1.5"/>
<line x1="1577.5" y1="784.3" x2="1589.0" y2="784.3" stroke="#000" stroke-width="1.5"/>
<line x1="1577.5" y1="825.1" x2="1589.0" y2="825.1" stroke="#000" stroke-width="1.5"/>
<line x1="1577.5" y1="865.8" x2="1589.0" y2="865.8" stroke="#000" stroke-width="1.5"/>
<line x1="1604.8" y1="873.8" x2="1604.8" y2="884.3" stroke="#000" stroke-width="1.5"/>
<line x1="1637.5" y1="873.8" x2="1637.5" y2="884.3" stroke="#000" stroke-width="1.5"/>
<line x1="1670.2" y1="873.8" x2="1670.2" y2="884.3" stroke="#000" stroke-width="1.5"/>
<line x1="1703.0" y1="873.8" x2="1703.0" y2="884.3" stroke="#000" stroke-width="1.5"/>
<line x1="1735.7" y1="873.8" x2="1735.7" y2="884.3" stroke="#000" stroke-width="1.5"/>
<line x1="1768.5" y1="873.8" x2="1768.5" y2="884.3" stroke="#000" stroke-width="1.5"/>
<line x1="1801.2" y1="873.8" x2="1801.2" y2="884.3" stroke="#000" stroke-width="1.5"/>
<text x="1637.5" y="908.5" font-size="28.8" text-anchor="middle">0.1</text>
<text x="1703.0" y="908.5" font-size="28.8" text-anchor="middle">0.14</text>
<text x="1768.5" y="908.5" font-size="28.8" text-anchor="middle">0.18</text>
<text x="1574.5" y="671.9" font-size="28.8" text-anchor="end">50</text>
<text x="1574.5" y="753.5" font-size="28.8" text-anchor="end">30</text>
<text x="1574.5" y="835.1" font-size="28.8" text-anchor="end">10</text>
<text transform="translate(1520.0,763.7) rotate(-90)" font-size="28.8" text-anchor="middle"># genes</text>
<text x="1699.0" y="952.7" font-size="28.8" text-anchor="middle">Adj. corr. to IDI1</text>
<polyline points="1600.5,654.9 1602.0,677.2 1603.5,696.5 1605.0,715.9 1608.4,729.3 1610.2,744.2 1611.7,759.0 1616.9,771.0 1620.3,785.8 1622.1,800.7 1624.8,809.6 1628.3,818.6 1631.0,830.5 1633.7,840.9 1639.9,848.3 1645.1,855.0 1647.4,861.7 1653.3,864.0 1665.2,866.6" fill="none" stroke="#a8d0e0" stroke-width="3.8" stroke-linejoin="round" stroke-linecap="round"/>
<polyline points="1612.0,654.9 1614.3,663.8 1616.1,684.6 1617.9,707.0 1619.9,729.3 1621.3,745.7 1623.9,751.6 1624.3,763.5 1627.3,769.5 1628.8,782.9 1632.2,791.8 1634.0,801.5 1638.5,806.7 1642.9,812.6 1645.1,818.6 1648.6,823.0 1649.2,829.7 1657.1,833.5 1662.3,838.7 1669.7,842.4 1673.4,846.1 1696.5,847.6 1727.7,849.8 1745.6,854.3 1748.6,862.5 1770.9,864.0 1799.2,866.2" fill="none" stroke="#0a0ad2" stroke-width="4.7" stroke-linejoin="round" stroke-linecap="round"/>
<line x1="1621.7" y1="657.0" x2="1635.0" y2="657.0" stroke="#0a0ad2" stroke-width="5"/>
<text x="1805.5" y="664.0" font-size="28.8" text-anchor="end" fill="#0a0ad2" textLength="166" lengthAdjust="spacingAndGlyphs">non-permuted</text>
<line x1="1676.8" y1="679.0" x2="1688.7" y2="679.0" stroke="#a8d0e0" stroke-width="4"/>
<text x="1805.5" y="686.0" font-size="28.8" text-anchor="end" fill="#a8d0e0" textLength="112" lengthAdjust="spacingAndGlyphs">permuted</text>
<text x="7.0" y="1043.6" font-size="27" font-weight="bold">d</text>
<text x="975.7" y="1059.0" font-size="28.8" text-anchor="middle" font-weight="bold" font-style="italic">HCT116 clones</text>
<g transform="translate(150.70,1072.50) scale(6.8215,27.3069)" fill="none" stroke-width="1.04" shape-rendering="crispEdges">
<path stroke="#f2f9ef" d="M50 0.5h1M82 0.5h1M86 0.5h1M90 0.5h1M92 0.5h1M95 0.5h1M105 0.5h2M110 0.5h1M112 0.5h1M116 0.5h1M122 0.5h1M182 0.5h1M15 1.5h1M24 1.5h1M69 1.5h1M74 1.5h1M83 1.5h1M94 1.5h1M111 1.5h1M115 1.5h1M117 1.5h1M142 1.5h1M152 1.5h2M179 1.5h1M205 1.5h1M211 1.5h1M25 2.5h1M115 2.5h1M166 2.5h1M171 2.5h1M173 2.5h2M186 2.5h1M192 2.5h1M197 2.5h1M204 2.5h1M209 2.5h1M212 2.5h1M225 2.5h1M227 2.5h1M229 2.5h2M74 3.5h1M98 3.5h2M118 3.5h1M120 3.5h1M139 3.5h1M141 3.5h1M144 3.5h1M150 3.5h1M156 3.5h1M167 3.5h1M184 3.5h1M186 3.5h1M190 3.5h1M198 3.5h1M200 3.5h1M203 3.5h1M205 3.5h2M213 3.5h1M215 3.5h1M219 3.5h2M223 3.5h1M226 3.5h1M228 3.5h1M231 3.5h1M7 4.5h1M18 4.5h1M45 4.5h1M58 4.5h1M62 4.5h1M82 4.5h1M114 4.5h1M128 4.5h1M42 5.5h1M46 5.5h1M59 5.5h1M83 5.5h1M97 5.5h2M101 5.5h1M136 5.5h3M142 5.5h1M145 5.5h1M154 5.5h1M175 5.5h1M178 5.5h1M180 5.5h1M204 5.5h1M206 5.5h1M42 6.5h1M65 6.5h1M127 6.5h1M162 6.5h2M171 6.5h1M176 6.5h1M179 6.5h1M181 6.5h1M187 6.5h2M190 6.5h1M194 6.5h3M198 6.5h4M208 6.5h2M211 6.5h2M214 6.5h1M219 6.5h1M221 6.5h1M223 6.5h1M226 6.5h1M228 6.5h1M0 7.5h1M10 7.5h2M19 7.5h1M32 7.5h1M34 7.5h1M36 7.5h2M55 7.5h1M83 7.5h2M94 7.5h2M108 7.5h1M119 7.5h2M123 7.5h2M133 7.5h1M135 7.5h1M140 7.5h2M163 7.5h1M171 7.5h1M173 7.5h1M181 7.5h1M209 7.5h1M217 7.5h1M223 7.5h1M227 7.5h1M19 8.5h1M21 8.5h1M37 8.5h1M43 8.5h1M46 8.5h1M52 8.5h1M60 8.5h1M63 8.5h1M69 8.5h1M73 8.5h1M75 8.5h1M83 8.5h1M91 8.5h1M94 8.5h1M96 8.5h1M101 8.5h1M109 8.5h1M118 8.5h1M120 8.5h1M123 8.5h1M133 8.5h1M137 8.5h1M177 8.5h1M179 8.5h1M206 8.5h1M210 8.5h1M218 8.5h1M221 8.5h1M226 8.5h1M23 9.5h1M75 9.5h1M120 9.5h1M122 9.5h1M124 9.5h1M141 9.5h1M143 9.5h1M147 9.5h1M161 9.5h1M163 9.5h2M171 9.5h1M173 9.5h1M175 9.5h1M177 9.5h1M183 9.5h1M188 9.5h1M191 9.5h1M194 9.5h1M197 9.5h1M199 9.5h1M201 9.5h1M203 9.5h1M205 9.5h1M210 9.5h1M212 9.5h1M91 10.5h1M101 10.5h1M105 10.5h1M118 10.5h3M129 10.5h1M137 10.5h1M157 10.5h2M167 10.5h1M180 10.5h1M189 10.5h2M194 10.5h2M229 10.5h1M103 11.5h1M159 11.5h1M205 11.5h1M1 12.5h1M3 12.5h1M6 12.5h1M13 12.5h3M26 12.5h1M48 12.5h1M59 12.5h2M74 12.5h1M144 12.5h2M161 12.5h1M164 12.5h2M192 12.5h1M194 12.5h1M222 12.5h1M225 12.5h1M98 13.5h1M101 13.5h1M106 13.5h1M121 13.5h1M126 13.5h1M159 13.5h1M163 13.5h1M177 13.5h2M182 13.5h2M189 13.5h2M194 13.5h1M206 13.5h1M211 13.5h3M215 13.5h2M219 13.5h2M222 13.5h1M36 14.5h1M62 14.5h1M65 14.5h1M115 14.5h1M158 14.5h1M164 14.5h1M171 14.5h1M176 14.5h1M182 14.5h1M184 14.5h2M189 14.5h1M196 14.5h2M199 14.5h1M202 14.5h2M206 14.5h1M211 14.5h1M213 14.5h1M217 14.5h1M73 15.5h1M78 15.5h1M80 15.5h1M92 15.5h1M97 15.5h1M101 15.5h1M103 15.5h1M105 15.5h1M112 15.5h1M115 15.5h1M123 15.5h1M125 15.5h1M135 15.5h1M151 15.5h1M169 15.5h1M175 15.5h1M200 15.5h1M203 15.5h1M20 16.5h1M44 16.5h1M57 16.5h1M86 16.5h1M111 16.5h1M117 16.5h1M121 16.5h1M128 16.5h1M130 16.5h1M136 16.5h1M149 16.5h1M158 16.5h1M185 16.5h1M187 16.5h1M191 16.5h1M194 16.5h1M201 16.5h1M206 16.5h1M209 16.5h1M211 16.5h1M217 16.5h1M221 16.5h2M224 16.5h1M106 17.5h1M108 17.5h1M121 17.5h1M135 17.5h1M137 17.5h1M160 17.5h1M177 17.5h1M187 17.5h2M191 17.5h2M196 17.5h2M199 17.5h1M204 17.5h1M207 17.5h1M209 17.5h1M212 17.5h2M215 17.5h1M222 17.5h1M224 17.5h1M105 18.5h1M137 18.5h2M159 18.5h1M176 18.5h2M187 18.5h1M192 18.5h1M194 18.5h1M197 18.5h1M200 18.5h1M209 18.5h2M213 18.5h2M216 18.5h1M220 18.5h1M225 18.5h1M1 19.5h1M6 19.5h1M46 19.5h1M58 19.5h1M117 19.5h1M120 19.5h1M124 19.5h2M134 19.5h1M177 19.5h1M186 19.5h1M196 19.5h3M204 19.5h1M206 19.5h1M208 19.5h2M219 19.5h2M224 19.5h1M227 19.5h1M230 19.5h1M36 20.5h1M64 20.5h1M68 20.5h1M103 20.5h1M124 20.5h1M139 20.5h1M144 20.5h1M147 20.5h1M149 20.5h4M165 20.5h2M176 20.5h2M179 20.5h1M184 20.5h1M188 20.5h1M190 20.5h1M193 20.5h1M200 20.5h1M203 20.5h2M206 20.5h1M209 20.5h1M212 20.5h2M215 20.5h1M218 20.5h3M225 20.5h1M228 20.5h1M230 20.5h1M32 21.5h1M113 21.5h1M115 21.5h1M134 21.5h1M143 21.5h1M151 21.5h1M176 21.5h1M178 21.5h1M182 21.5h1M187 21.5h2M190 21.5h1M199 21.5h2M206 21.5h1M214 21.5h1M217 21.5h1M221 21.5h1M224 21.5h1M227 21.5h1M231 21.5h2M40 22.5h1M61 22.5h1M63 22.5h1M70 22.5h1M72 22.5h1M99 22.5h1M112 22.5h1M123 22.5h1M130 22.5h2M148 22.5h1M159 22.5h4M186 22.5h1M189 22.5h1M204 22.5h1M207 22.5h2M211 22.5h1M214 22.5h1M219 22.5h1M224 22.5h1M228 22.5h1M230 22.5h1M232 22.5h1M15 23.5h1M99 23.5h1M101 23.5h1M104 23.5h1M146 23.5h1M153 23.5h1M188 23.5h1M194 23.5h2M197 23.5h2M201 23.5h1M209 23.5h2M212 23.5h1M215 23.5h2M220 23.5h1M224 23.5h1M228 23.5h1M42 24.5h1M44 24.5h2M57 24.5h1M62 24.5h1M67 24.5h1M76 24.5h1M121 24.5h1M176 24.5h2M179 24.5h1M181 24.5h2M192 24.5h1M202 24.5h1M207 24.5h1M222 24.5h1M16 25.5h1M21 25.5h1M35 25.5h1M38 25.5h2M44 25.5h1M60 25.5h1M69 25.5h1M84 25.5h2M188 25.5h3M192 25.5h1M199 25.5h1M214 25.5h1M217 25.5h2M231 25.5h2M148 26.5h1M166 26.5h1M171 26.5h1M180 26.5h1M186 26.5h1M202 26.5h2M216 26.5h2M219 26.5h1M222 26.5h1M227 26.5h1M32 27.5h1M40 27.5h1M70 27.5h1M80 27.5h1M85 27.5h1M110 27.5h1M113 27.5h1M115 27.5h1M128 27.5h1M139 27.5h2M148 27.5h1M159 27.5h2M197 27.5h2M202 27.5h1M207 27.5h1M215 27.5h1M232 27.5h1M25 28.5h1M27 28.5h1M39 28.5h1M55 28.5h2M72 28.5h1M87 28.5h1M106 28.5h2M122 28.5h1M124 28.5h1M141 28.5h1M155 28.5h1M157 28.5h1M161 28.5h2M175 28.5h2M178 28.5h1M182 28.5h1M189 28.5h1M192 28.5h2M197 28.5h1M201 28.5h1M203 28.5h1M207 28.5h1M211 28.5h1M217 28.5h1"/>
<path stroke="#e3f4de" d="M58 0.5h1M91 0.5h1M96 0.5h4M103 0.5h1M108 0.5h2M111 0.5h1M119 0.5h1M123 0.5h1M127 0.5h3M134 0.5h3M143 0.5h1M149 0.5h2M155 0.5h2M171 0.5h1M178 0.5h1M191 0.5h1M20 1.5h1M28 1.5h4M46 1.5h1M52 1.5h3M57 1.5h1M59 1.5h1M61 1.5h1M63 1.5h3M70 1.5h1M75 1.5h1M85 1.5h1M90 1.5h2M96 1.5h1M99 1.5h2M102 1.5h1M116 1.5h1M128 1.5h1M135 1.5h1M143 1.5h1M151 1.5h1M184 1.5h1M191 1.5h1M197 1.5h1M210 1.5h1M232 1.5h1M130 2.5h1M176 2.5h1M181 2.5h1M187 2.5h1M203 2.5h1M205 2.5h1M207 2.5h1M210 2.5h2M213 2.5h3M218 2.5h3M223 2.5h1M226 2.5h1M228 2.5h1M84 3.5h1M97 3.5h1M105 3.5h1M107 3.5h1M115 3.5h2M124 3.5h1M148 3.5h1M152 3.5h1M161 3.5h1M171 3.5h2M174 3.5h1M183 3.5h1M187 3.5h1M197 3.5h1M199 3.5h1M204 3.5h1M211 3.5h1M214 3.5h1M221 3.5h2M227 3.5h1M230 3.5h1M12 4.5h1M24 4.5h1M31 4.5h2M34 4.5h1M40 4.5h1M42 4.5h1M55 4.5h1M59 4.5h1M64 4.5h1M70 4.5h1M79 4.5h2M91 4.5h1M94 4.5h1M115 4.5h1M121 4.5h1M126 4.5h1M188 4.5h1M190 4.5h1M194 4.5h1M70 5.5h1M100 5.5h1M102 5.5h3M109 5.5h1M117 5.5h1M119 5.5h4M127 5.5h1M130 5.5h1M139 5.5h3M148 5.5h1M157 5.5h1M159 5.5h1M167 5.5h1M170 5.5h1M173 5.5h2M189 5.5h1M193 5.5h1M197 5.5h1M200 5.5h1M210 5.5h1M132 6.5h2M147 6.5h1M151 6.5h2M154 6.5h1M156 6.5h1M158 6.5h2M167 6.5h1M174 6.5h1M178 6.5h1M183 6.5h1M191 6.5h3M197 6.5h1M202 6.5h1M207 6.5h1M210 6.5h1M213 6.5h1M215 6.5h2M218 6.5h1M220 6.5h1M224 6.5h1M227 6.5h1M14 7.5h1M23 7.5h2M47 7.5h1M69 7.5h1M71 7.5h2M77 7.5h1M79 7.5h2M100 7.5h1M102 7.5h6M112 7.5h4M117 7.5h2M134 7.5h1M144 7.5h1M146 7.5h1M152 7.5h1M154 7.5h1M160 7.5h1M162 7.5h1M165 7.5h1M184 7.5h1M202 7.5h1M215 7.5h1M220 7.5h1M222 7.5h1M224 7.5h1M228 7.5h1M40 8.5h3M49 8.5h1M54 8.5h1M62 8.5h1M86 8.5h1M103 8.5h1M110 8.5h1M117 8.5h1M121 8.5h1M132 8.5h1M136 8.5h1M142 8.5h1M156 8.5h1M165 8.5h2M169 8.5h1M175 8.5h1M178 8.5h1M188 8.5h1M205 8.5h1M214 8.5h2M222 8.5h1M225 8.5h1M227 8.5h1M231 8.5h1M118 9.5h2M140 9.5h1M144 9.5h2M153 9.5h2M157 9.5h1M167 9.5h1M178 9.5h3M182 9.5h1M184 9.5h1M186 9.5h1M189 9.5h1M195 9.5h1M198 9.5h1M207 9.5h1M209 9.5h1M213 9.5h2M218 9.5h1M221 9.5h1M102 10.5h1M109 10.5h1M111 10.5h1M123 10.5h2M131 10.5h2M134 10.5h1M142 10.5h1M145 10.5h1M147 10.5h1M150 10.5h1M152 10.5h1M182 10.5h1M204 11.5h1M206 11.5h1M225 11.5h1M227 11.5h1M18 12.5h2M21 12.5h4M30 12.5h1M32 12.5h3M36 12.5h1M45 12.5h2M54 12.5h3M70 12.5h2M75 12.5h1M78 12.5h2M81 12.5h1M85 12.5h1M97 12.5h2M100 12.5h1M114 12.5h1M119 12.5h2M137 12.5h1M139 12.5h3M148 12.5h1M151 12.5h2M154 12.5h1M162 12.5h1M169 12.5h2M173 12.5h5M181 12.5h1M183 12.5h1M185 12.5h1M191 12.5h1M196 12.5h1M210 12.5h1M215 12.5h1M223 12.5h1M131 13.5h2M179 13.5h2M200 13.5h1M202 13.5h1M204 13.5h1M207 13.5h1M217 13.5h1M224 13.5h1M0 14.5h1M125 14.5h1M136 14.5h1M139 14.5h1M148 14.5h1M178 14.5h1M183 14.5h1M200 14.5h2M218 14.5h1M227 14.5h1M95 15.5h2M107 15.5h1M114 15.5h1M128 15.5h1M130 15.5h1M138 15.5h3M143 15.5h1M145 15.5h1M147 15.5h1M155 15.5h1M157 15.5h1M160 15.5h1M163 15.5h2M166 15.5h2M170 15.5h1M176 15.5h1M181 15.5h1M183 15.5h1M187 15.5h1M199 15.5h1M202 15.5h1M223 15.5h2M35 16.5h1M49 16.5h1M61 16.5h2M83 16.5h2M87 16.5h1M97 16.5h2M100 16.5h1M109 16.5h1M115 16.5h2M161 16.5h1M170 16.5h3M174 16.5h3M183 16.5h1M195 16.5h1M198 16.5h1M200 16.5h1M204 16.5h1M210 16.5h1M214 16.5h1M216 16.5h1M219 16.5h2M232 16.5h1M144 17.5h1M172 17.5h1M175 17.5h1M193 17.5h2M210 17.5h1M214 17.5h1M216 17.5h1M220 17.5h1M223 17.5h1M148 18.5h1M156 18.5h1M178 18.5h1M195 18.5h2M206 18.5h1M212 18.5h1M215 18.5h1M223 18.5h2M226 18.5h2M230 18.5h1M11 19.5h1M25 19.5h1M47 19.5h1M52 19.5h1M81 19.5h1M96 19.5h1M101 19.5h1M104 19.5h1M121 19.5h1M138 19.5h1M147 19.5h1M152 19.5h1M158 19.5h2M195 19.5h1M202 19.5h1M215 19.5h1M217 19.5h1M229 19.5h1M58 20.5h1M70 20.5h1M79 20.5h1M84 20.5h1M140 20.5h1M155 20.5h1M157 20.5h1M170 20.5h1M183 20.5h1M185 20.5h1M189 20.5h1M194 20.5h1M205 20.5h1M208 20.5h1M211 20.5h1M214 20.5h1M222 20.5h2M231 20.5h1M13 21.5h1M102 21.5h1M111 21.5h1M153 21.5h1M171 21.5h1M175 21.5h1M180 21.5h2M186 21.5h1M202 21.5h1M204 21.5h1M207 21.5h3M211 21.5h1M218 21.5h1M225 21.5h1M228 21.5h1M20 22.5h1M39 22.5h1M125 22.5h2M136 22.5h1M146 22.5h1M153 22.5h1M169 22.5h1M171 22.5h1M194 22.5h1M201 22.5h1M205 22.5h2M210 22.5h1M215 22.5h1M218 22.5h1M225 22.5h1M120 23.5h1M124 23.5h1M128 23.5h1M150 23.5h2M158 23.5h1M186 23.5h1M208 23.5h1M211 23.5h1M213 23.5h1M217 23.5h1M219 23.5h1M221 23.5h2M225 23.5h1M227 23.5h1M48 24.5h1M65 24.5h1M85 24.5h1M90 24.5h1M97 24.5h1M101 24.5h3M115 24.5h1M120 24.5h1M122 24.5h1M124 24.5h2M129 24.5h1M144 24.5h2M148 24.5h1M157 24.5h2M175 24.5h1M190 24.5h1M197 24.5h1M206 24.5h1M217 24.5h1M224 24.5h2M26 25.5h1M48 25.5h2M54 25.5h1M64 25.5h2M75 25.5h1M91 25.5h1M110 25.5h1M128 25.5h1M134 25.5h1M148 25.5h5M157 25.5h3M171 25.5h1M175 25.5h1M181 25.5h2M184 25.5h2M205 25.5h1M216 25.5h1M221 25.5h2M224 25.5h3M103 26.5h1M149 26.5h1M154 26.5h1M213 26.5h1M221 26.5h1M42 27.5h1M91 27.5h1M98 27.5h1M103 27.5h1M118 27.5h1M122 27.5h1M130 27.5h1M145 27.5h1M152 27.5h1M169 27.5h1M194 27.5h1M205 27.5h1M224 27.5h1M229 27.5h1M83 28.5h1M91 28.5h1M130 28.5h4M136 28.5h1M149 28.5h2M156 28.5h1M166 28.5h2M181 28.5h1M183 28.5h1M185 28.5h2M191 28.5h1M198 28.5h1M200 28.5h1M210 28.5h1M224 28.5h1M230 28.5h3"/>
<path stroke="#a5db9f" d="M93 0.5h1M100 0.5h2M114 0.5h1M121 0.5h1M126 0.5h1M130 0.5h4M138 0.5h2M144 0.5h2M169 0.5h2M172 0.5h1M175 0.5h1M181 0.5h1M189 0.5h2M195 0.5h4M202 0.5h1M209 0.5h1M211 0.5h1M214 0.5h1M33 1.5h1M35 1.5h1M56 1.5h1M66 1.5h1M81 1.5h1M89 1.5h1M92 1.5h1M123 1.5h1M137 1.5h1M158 1.5h1M162 1.5h4M185 1.5h3M189 1.5h2M200 1.5h1M206 1.5h1M221 1.5h1M223 1.5h1M109 3.5h1M46 4.5h1M53 4.5h2M71 4.5h1M75 4.5h4M83 4.5h1M87 4.5h2M104 4.5h6M111 4.5h2M122 4.5h1M130 4.5h2M144 4.5h6M152 4.5h1M156 4.5h2M160 4.5h3M165 4.5h2M173 4.5h2M177 4.5h2M180 4.5h1M189 4.5h1M205 4.5h1M207 4.5h2M216 4.5h1M219 4.5h1M88 5.5h1M112 5.5h2M129 5.5h1M133 5.5h1M158 5.5h1M161 5.5h5M172 5.5h1M184 5.5h1M186 5.5h1M188 5.5h1M190 5.5h1M198 5.5h1M201 5.5h2M205 5.5h1M212 5.5h1M215 5.5h2M226 5.5h1M229 5.5h1M10 6.5h1M115 6.5h1M6 7.5h1M30 7.5h1M82 7.5h1M92 7.5h1M125 7.5h1M137 7.5h1M142 7.5h2M151 7.5h1M156 7.5h2M167 7.5h1M169 7.5h2M178 7.5h1M182 7.5h2M188 7.5h1M190 7.5h1M195 7.5h2M200 7.5h2M207 7.5h1M216 7.5h1M219 7.5h1M230 7.5h1M125 8.5h1M128 8.5h1M141 8.5h1M145 8.5h1M147 8.5h1M149 8.5h2M157 8.5h2M164 8.5h1M171 8.5h1M182 8.5h1M187 8.5h1M190 8.5h3M200 8.5h1M202 8.5h3M213 8.5h1M126 9.5h1M155 9.5h1M202 9.5h1M215 9.5h1M224 9.5h5M159 10.5h1M164 10.5h2M184 10.5h1M188 10.5h1M202 10.5h5M210 10.5h1M212 10.5h2M217 10.5h1M219 10.5h1M222 10.5h2M226 10.5h1M224 11.5h1M16 12.5h1M43 12.5h1M52 12.5h1M57 12.5h1M63 12.5h1M66 12.5h1M82 12.5h1M105 12.5h2M127 12.5h2M135 12.5h2M138 12.5h1M146 12.5h1M172 12.5h1M182 12.5h1M184 12.5h1M186 12.5h1M189 12.5h1M201 12.5h3M207 12.5h2M213 12.5h1M199 13.5h1M98 14.5h1M188 14.5h1M212 14.5h1M214 14.5h2M225 14.5h2M141 15.5h1M154 15.5h1M158 15.5h1M172 15.5h2M177 15.5h1M184 15.5h1M189 15.5h4M208 15.5h6M221 15.5h2M29 16.5h1M38 16.5h1M73 16.5h1M107 16.5h2M124 16.5h1M150 16.5h1M182 16.5h1M186 16.5h1M203 16.5h1M212 16.5h1M226 16.5h2M231 16.5h1M179 17.5h1M195 17.5h1M205 17.5h2M217 17.5h1M221 17.5h1M232 17.5h1M186 18.5h1M191 18.5h1M221 18.5h1M128 19.5h1M131 19.5h1M145 19.5h1M161 19.5h1M168 19.5h1M175 19.5h1M184 19.5h1M187 19.5h2M190 19.5h1M201 19.5h1M114 20.5h1M136 20.5h1M141 20.5h2M187 20.5h1M201 20.5h2M177 21.5h1M212 21.5h2M220 21.5h1M75 22.5h1M92 22.5h1M150 22.5h2M166 22.5h1M202 22.5h2M223 22.5h1M227 22.5h1M65 23.5h1M126 23.5h1M187 23.5h1M71 24.5h1M108 24.5h1M114 24.5h1M127 24.5h1M137 24.5h1M140 24.5h1M143 24.5h1M171 24.5h1M183 24.5h1M186 24.5h2M196 24.5h1M203 24.5h1M214 24.5h1M227 24.5h1M72 25.5h1M87 25.5h1M97 25.5h1M119 25.5h2M132 25.5h2M140 25.5h1M143 25.5h2M153 25.5h1M169 25.5h2M178 25.5h1M183 25.5h1M186 25.5h1M191 25.5h1M202 25.5h3M219 25.5h2M223 25.5h1M196 26.5h1M230 26.5h1M58 27.5h1M99 27.5h1M135 27.5h1M157 27.5h1M167 27.5h1M184 27.5h1M188 27.5h1M218 27.5h2M226 27.5h1M89 28.5h1M113 28.5h1M145 28.5h2M205 28.5h1M227 28.5h2"/>
<path stroke="#c9eac2" d="M102 0.5h1M104 0.5h1M115 0.5h1M117 0.5h2M120 0.5h1M125 0.5h1M140 0.5h3M146 0.5h2M151 0.5h4M157 0.5h4M162 0.5h4M173 0.5h2M176 0.5h1M180 0.5h1M183 0.5h1M192 0.5h1M201 0.5h1M210 0.5h1M217 0.5h1M2 1.5h1M45 1.5h1M49 1.5h1M51 1.5h1M58 1.5h1M77 1.5h4M93 1.5h1M122 1.5h1M124 1.5h2M131 1.5h3M140 1.5h1M156 1.5h2M159 1.5h2M172 1.5h1M178 1.5h1M180 1.5h1M188 1.5h1M192 1.5h1M194 1.5h2M199 1.5h1M201 1.5h1M212 1.5h1M218 1.5h1M191 2.5h1M216 2.5h2M221 2.5h1M231 2.5h1M147 3.5h1M149 3.5h1M159 3.5h1M163 3.5h3M182 3.5h1M185 3.5h1M189 3.5h1M196 3.5h1M201 3.5h2M207 3.5h2M210 3.5h1M212 3.5h1M225 3.5h1M229 3.5h1M9 4.5h2M27 4.5h3M33 4.5h1M35 4.5h2M41 4.5h1M43 4.5h1M48 4.5h5M68 4.5h2M73 4.5h1M84 4.5h2M90 4.5h1M98 4.5h1M103 4.5h1M117 4.5h2M125 4.5h1M127 4.5h1M151 4.5h1M154 4.5h1M169 4.5h2M172 4.5h1M179 4.5h1M187 4.5h1M191 4.5h1M195 4.5h1M203 4.5h1M206 4.5h1M217 4.5h2M231 4.5h1M110 5.5h2M123 5.5h3M131 5.5h1M151 5.5h1M155 5.5h1M168 5.5h2M182 5.5h1M187 5.5h1M194 5.5h3M217 5.5h5M225 5.5h1M227 5.5h1M175 6.5h1M182 6.5h1M2 7.5h1M17 7.5h1M27 7.5h1M63 7.5h1M78 7.5h1M86 7.5h1M90 7.5h2M121 7.5h2M132 7.5h1M161 7.5h1M175 7.5h2M185 7.5h3M189 7.5h1M192 7.5h2M197 7.5h3M204 7.5h3M210 7.5h5M221 7.5h1M229 7.5h1M232 7.5h1M23 8.5h1M34 8.5h1M50 8.5h1M78 8.5h2M99 8.5h2M105 8.5h3M119 8.5h1M124 8.5h1M134 8.5h1M146 8.5h1M153 8.5h2M160 8.5h3M181 8.5h1M183 8.5h1M186 8.5h1M189 8.5h1M193 8.5h1M198 8.5h2M208 8.5h1M212 8.5h1M217 8.5h1M223 8.5h2M230 8.5h1M232 8.5h1M159 9.5h1M169 9.5h1M185 9.5h1M190 9.5h1M192 9.5h1M211 9.5h1M216 9.5h2M219 9.5h2M229 9.5h1M104 10.5h1M113 10.5h1M148 10.5h2M155 10.5h1M161 10.5h2M179 10.5h1M191 10.5h1M216 10.5h1M218 10.5h1M220 10.5h1M225 10.5h1M197 11.5h1M228 11.5h1M37 12.5h1M51 12.5h1M61 12.5h2M68 12.5h1M72 12.5h2M77 12.5h1M88 12.5h3M104 12.5h1M107 12.5h4M117 12.5h2M125 12.5h1M130 12.5h1M132 12.5h1M134 12.5h1M149 12.5h1M158 12.5h1M166 12.5h3M179 12.5h1M187 12.5h1M197 12.5h4M209 12.5h1M211 12.5h1M214 12.5h1M216 12.5h2M221 12.5h1M224 12.5h1M232 12.5h1M145 13.5h1M188 13.5h1M201 13.5h1M203 13.5h1M218 13.5h1M226 13.5h1M122 14.5h1M154 14.5h3M179 14.5h3M186 14.5h1M192 14.5h1M195 14.5h1M209 14.5h2M219 14.5h1M222 14.5h3M230 14.5h3M142 15.5h1M144 15.5h1M149 15.5h1M156 15.5h1M165 15.5h1M178 15.5h2M182 15.5h1M186 15.5h1M188 15.5h1M197 15.5h1M214 15.5h2M225 15.5h1M71 16.5h1M75 16.5h1M78 16.5h1M89 16.5h1M154 16.5h1M162 16.5h1M184 16.5h1M192 16.5h2M196 16.5h1M202 16.5h1M207 16.5h2M213 16.5h1M218 16.5h1M223 16.5h1M154 17.5h1M178 17.5h1M180 17.5h1M190 17.5h1M200 17.5h1M218 17.5h1M230 17.5h1M189 18.5h2M199 18.5h1M208 18.5h1M211 18.5h1M217 18.5h3M222 18.5h1M232 18.5h1M15 19.5h1M91 19.5h1M99 19.5h1M111 19.5h2M114 19.5h2M127 19.5h1M137 19.5h1M139 19.5h1M148 19.5h1M153 19.5h1M162 19.5h3M167 19.5h1M176 19.5h1M182 19.5h2M185 19.5h1M189 19.5h1M207 19.5h1M210 19.5h2M214 19.5h1M216 19.5h1M218 19.5h1M221 19.5h2M225 19.5h2M228 19.5h1M25 20.5h1M110 20.5h1M129 20.5h1M135 20.5h1M159 20.5h1M173 20.5h2M182 20.5h1M207 20.5h1M210 20.5h1M221 20.5h1M224 20.5h1M57 21.5h1M120 21.5h1M161 21.5h1M210 21.5h1M219 21.5h1M222 21.5h2M229 21.5h1M44 22.5h1M101 22.5h1M128 22.5h1M140 22.5h2M170 22.5h1M179 22.5h1M185 22.5h1M188 22.5h1M195 22.5h2M212 22.5h2M216 22.5h1M220 22.5h3M226 22.5h1M161 23.5h1M163 23.5h1M189 23.5h1M193 23.5h1M223 23.5h1M226 23.5h1M230 23.5h1M51 24.5h1M61 24.5h1M91 24.5h2M94 24.5h1M107 24.5h1M117 24.5h3M134 24.5h3M160 24.5h2M178 24.5h1M180 24.5h1M188 24.5h1M191 24.5h1M210 24.5h2M213 24.5h1M218 24.5h2M228 24.5h1M51 25.5h1M81 25.5h1M89 25.5h2M92 25.5h1M94 25.5h2M104 25.5h1M107 25.5h2M111 25.5h1M113 25.5h2M124 25.5h1M129 25.5h2M138 25.5h1M146 25.5h2M161 25.5h3M195 25.5h2M208 25.5h2M212 25.5h1M152 26.5h1M198 26.5h1M231 26.5h1M13 27.5h1M55 27.5h1M62 27.5h1M96 27.5h1M132 27.5h2M155 27.5h1M162 27.5h1M165 27.5h1M179 27.5h1M182 27.5h1M190 27.5h2M204 27.5h1M208 27.5h1M211 27.5h2M223 27.5h1M111 28.5h1M140 28.5h1M153 28.5h1M195 28.5h1M213 28.5h1"/>
<path stroke="#7bc77c" d="M137 0.5h1M148 0.5h1M166 0.5h2M179 0.5h1M186 0.5h1M199 0.5h2M208 0.5h1M224 0.5h1M229 0.5h1M48 1.5h1M62 1.5h1M71 1.5h1M88 1.5h1M105 1.5h1M109 1.5h1M120 1.5h1M149 1.5h2M168 1.5h3M175 1.5h1M181 1.5h2M203 1.5h1M213 1.5h1M217 1.5h1M219 1.5h2M222 1.5h1M225 1.5h1M227 1.5h1M231 1.5h1M200 2.5h2M222 2.5h1M232 2.5h1M224 3.5h1M38 4.5h1M56 4.5h2M60 4.5h1M65 4.5h3M81 4.5h1M96 4.5h1M101 4.5h1M110 4.5h1M116 4.5h1M119 4.5h2M123 4.5h2M129 4.5h1M132 4.5h4M138 4.5h1M150 4.5h1M153 4.5h1M155 4.5h1M158 4.5h2M171 4.5h1M175 4.5h2M182 4.5h1M193 4.5h1M198 4.5h1M204 4.5h1M214 4.5h1M224 4.5h1M229 4.5h1M232 4.5h1M74 5.5h1M150 5.5h1M176 5.5h1M183 5.5h1M185 5.5h1M191 5.5h2M203 5.5h1M213 5.5h1M228 5.5h1M41 7.5h1M58 7.5h1M93 7.5h1M128 7.5h1M138 7.5h1M145 7.5h1M203 7.5h1M208 7.5h1M231 7.5h1M85 8.5h1M98 8.5h1M129 8.5h2M176 8.5h1M194 8.5h1M201 8.5h1M211 8.5h1M219 8.5h1M206 9.5h1M222 9.5h1M175 10.5h2M181 10.5h1M183 10.5h1M185 10.5h3M198 10.5h2M207 10.5h2M215 10.5h1M29 12.5h1M47 12.5h1M65 12.5h1M69 12.5h1M80 12.5h1M86 12.5h1M93 12.5h1M96 12.5h1M99 12.5h1M112 12.5h1M122 12.5h1M157 12.5h1M180 12.5h1M188 12.5h1M204 12.5h2M212 12.5h1M114 13.5h1M170 13.5h1M225 13.5h1M232 13.5h1M163 14.5h1M204 14.5h1M207 14.5h1M220 14.5h1M108 15.5h1M146 15.5h1M168 15.5h1M193 15.5h3M204 15.5h4M219 15.5h2M230 15.5h3M56 16.5h1M105 16.5h2M140 16.5h1M146 16.5h1M164 16.5h1M228 16.5h1M198 17.5h1M202 17.5h1M219 17.5h1M231 17.5h1M96 18.5h1M98 18.5h1M150 19.5h1M166 19.5h1M169 19.5h2M172 19.5h1M191 19.5h1M194 19.5h1M199 19.5h2M223 19.5h1M232 19.5h1M217 20.5h1M146 21.5h1M215 21.5h2M226 21.5h1M89 22.5h1M108 22.5h1M200 22.5h1M175 23.5h1M203 23.5h1M10 24.5h1M75 24.5h1M111 24.5h1M155 24.5h1M162 24.5h1M195 24.5h1M200 24.5h1M212 24.5h1M223 24.5h1M226 24.5h1M230 24.5h1M53 25.5h1M57 25.5h1M98 25.5h2M102 25.5h1M112 25.5h1M115 25.5h1M122 25.5h1M139 25.5h1M160 25.5h1M165 25.5h1M200 25.5h2M227 25.5h3M228 26.5h2M124 27.5h2M137 27.5h1M114 28.5h1M118 28.5h1M144 28.5h1M170 28.5h1M187 28.5h1M226 28.5h1"/>
<path stroke="#48ae60" d="M161 0.5h1M168 0.5h1M184 0.5h2M187 0.5h1M193 0.5h1M203 0.5h4M212 0.5h2M215 0.5h2M218 0.5h3M225 0.5h1M228 0.5h1M232 0.5h1M106 1.5h1M146 1.5h1M148 1.5h1M171 1.5h1M173 1.5h2M176 1.5h1M183 1.5h1M198 1.5h1M202 1.5h1M214 1.5h1M216 1.5h1M224 1.5h1M229 1.5h1M154 3.5h1M89 4.5h1M102 4.5h1M139 4.5h1M143 4.5h1M167 4.5h2M183 4.5h2M192 4.5h1M196 4.5h2M200 4.5h2M210 4.5h4M222 4.5h1M226 4.5h3M134 5.5h1M152 5.5h2M166 5.5h1M208 5.5h1M211 5.5h1M222 5.5h1M232 6.5h1M53 7.5h1M57 7.5h1M96 7.5h1M179 7.5h2M225 7.5h2M140 8.5h1M155 8.5h1M184 8.5h2M195 8.5h3M193 9.5h1M223 9.5h1M133 10.5h1M140 10.5h1M153 10.5h1M171 10.5h1M192 10.5h1M221 10.5h1M226 11.5h1M229 11.5h1M92 12.5h1M95 12.5h1M121 12.5h1M126 12.5h1M143 12.5h1M190 12.5h1M193 12.5h1M206 12.5h1M218 12.5h1M228 12.5h1M231 12.5h1M151 14.5h1M205 14.5h1M208 14.5h1M216 14.5h1M228 14.5h1M180 15.5h1M196 15.5h1M198 15.5h1M216 15.5h2M227 15.5h1M102 16.5h1M113 16.5h1M226 17.5h2M228 18.5h1M231 18.5h1M93 19.5h1M136 19.5h1M140 19.5h1M142 19.5h1M179 19.5h2M203 19.5h1M212 19.5h1M227 20.5h1M150 21.5h1M127 22.5h1M137 23.5h1M174 23.5h1M214 23.5h1M218 23.5h1M232 23.5h1M53 24.5h1M116 24.5h1M130 24.5h1M146 24.5h1M154 24.5h1M164 24.5h1M184 24.5h2M193 24.5h1M198 24.5h1M215 24.5h2M83 25.5h1M116 25.5h1M154 25.5h1M156 25.5h1M174 25.5h1M176 25.5h1M142 27.5h1M183 27.5h1M214 27.5h1M221 27.5h1M215 28.5h1"/>
<path stroke="#04702e" d="M177 0.5h1M188 0.5h1M194 0.5h1M207 0.5h1M221 0.5h1M107 1.5h1M193 1.5h1M230 1.5h1M224 2.5h1M232 3.5h1M181 4.5h1M199 4.5h1M202 4.5h1M209 4.5h1M230 4.5h1M181 5.5h1M214 5.5h1M177 7.5h1M143 8.5h1M168 8.5h1M173 8.5h1M207 8.5h1M230 9.5h1M163 10.5h1M196 10.5h2M209 10.5h1M211 10.5h1M227 10.5h1M231 11.5h1M226 12.5h1M229 14.5h1M226 15.5h1M205 16.5h1M126 19.5h1M149 24.5h1M199 24.5h1M205 24.5h1M229 24.5h1M224 26.5h1M206 27.5h1M81 28.5h1M223 28.5h1"/>
<path stroke="#268e47" d="M222 0.5h2M226 0.5h2M134 1.5h1M138 1.5h1M141 1.5h1M161 1.5h1M196 1.5h1M209 1.5h1M113 4.5h1M163 4.5h2M185 4.5h2M215 4.5h1M220 4.5h2M223 4.5h1M225 4.5h1M115 5.5h1M171 5.5h1M199 5.5h1M223 5.5h1M230 5.5h3M136 7.5h1M218 7.5h1M111 8.5h1M122 8.5h1M139 8.5h1M228 8.5h2M200 9.5h1M174 10.5h1M201 10.5h1M228 10.5h1M223 11.5h1M232 11.5h1M76 12.5h1M115 12.5h2M156 12.5h1M227 12.5h1M229 12.5h1M177 14.5h1M218 15.5h1M41 16.5h1M95 16.5h1M123 16.5h1M139 16.5h1M165 16.5h1M189 16.5h1M230 16.5h1M229 17.5h1M103 19.5h1M169 20.5h1M95 22.5h1M178 22.5h1M193 22.5h1M121 23.5h1M130 23.5h1M138 23.5h1M180 23.5h1M229 23.5h1M231 23.5h1M168 24.5h1M232 24.5h1M79 25.5h1M127 25.5h1M164 25.5h1M167 25.5h2M197 25.5h2M225 26.5h1M117 27.5h1M173 27.5h1M200 27.5h1M216 27.5h1M228 27.5h1M231 27.5h1M74 28.5h1M220 28.5h1"/>
<path stroke="#00451b" d="M230 0.5h2M144 1.5h1M177 1.5h1M204 1.5h1M208 1.5h1M215 1.5h1M226 1.5h1M228 1.5h1M217 3.5h1M209 5.5h1M224 5.5h1M225 6.5h1M126 7.5h1M194 7.5h1M108 8.5h1M152 8.5h1M216 8.5h1M220 8.5h1M231 9.5h2M154 10.5h1M214 10.5h1M224 10.5h1M230 10.5h1M232 10.5h1M230 11.5h1M94 12.5h1M160 12.5h1M178 12.5h1M195 12.5h1M219 12.5h2M230 12.5h1M231 13.5h1M221 14.5h1M228 15.5h2M145 16.5h1M215 16.5h1M225 16.5h1M225 17.5h1M228 17.5h1M229 18.5h1M59 19.5h1M231 19.5h1M191 20.5h1M232 20.5h1M230 21.5h1M173 22.5h1M180 22.5h1M200 23.5h1M201 24.5h1M220 24.5h2M206 25.5h1M211 25.5h1M213 25.5h1M215 25.5h1M230 25.5h1M223 26.5h1M232 26.5h1M195 27.5h1M169 28.5h1"/>
</g>
<rect x="150.7" y="1072.5" width="1589.4" height="791.9" fill="none" stroke="#b4b4b4" stroke-width="1.4"/>
<text x="1746.8" y="1096.6" font-size="28.8">EpCAM</text>
<text x="1746.8" y="1123.9" font-size="28.8">SPINT1</text>
<text x="1746.8" y="1151.2" font-size="28.8">BSPRY</text>
<text x="1746.8" y="1178.5" font-size="28.8">ZBED2</text>
<text x="1746.8" y="1205.8" font-size="28.8">FAM83H</text>
<text x="1746.8" y="1233.1" font-size="28.8">LAD1</text>
<text x="1746.8" y="1260.4" font-size="28.8">CRB3</text>
<text x="1746.8" y="1287.7" font-size="28.8">F11R</text>
<text x="1746.8" y="1315.0" font-size="28.8">KRTCAP3</text>
<text x="1746.8" y="1342.3" font-size="28.8">C1orf172</text>
<text x="1746.8" y="1369.6" font-size="28.8">RAB25</text>
<text x="1746.8" y="1396.9" font-size="28.8">S100A14</text>
<text x="1746.8" y="1424.2" font-size="28.8">LSR</text>
<text x="1746.8" y="1451.5" font-size="28.8">ESRP1</text>
<text x="1746.8" y="1478.9" font-size="28.8">CLDN7</text>
<text x="1746.8" y="1506.2" font-size="28.8">SPINT2</text>
<text x="1746.8" y="1533.5" font-size="28.8">CLDN4</text>
<text x="1746.8" y="1560.8" font-size="28.8">ST14</text>
<text x="1746.8" y="1588.1" font-size="28.8">CDH3</text>
<text x="1746.8" y="1615.4" font-size="28.8">MAP7</text>
<text x="1746.8" y="1642.7" font-size="28.8">ANXA3</text>
<text x="1746.8" y="1670.0" font-size="28.8">SCNN1A</text>
<text x="1746.8" y="1697.3" font-size="28.8">HOOK1</text>
<text x="1746.8" y="1724.6" font-size="28.8">MARVELD3</text>
<text x="1746.8" y="1751.9" font-size="28.8">RAB17</text>
<text x="1746.8" y="1779.2" font-size="28.8">ELMO3</text>
<text x="1746.8" y="1806.5" font-size="28.8">AP1M2</text>
<text x="1746.8" y="1833.8" font-size="28.8">TMC5</text>
<text x="1746.8" y="1861.1" font-size="28.8">IRF6</text>
<text x="1981.5" y="1324.2" font-size="28.8" text-anchor="middle">norm.</text>
<text x="1980.0" y="1347.0" font-size="28.8" text-anchor="middle">expression</text>
<defs><linearGradient id="gg" x1="0" y1="0" x2="0" y2="1"><stop offset="0" stop-color="#0c5a2a"/><stop offset="0.16" stop-color="#117a3a"/><stop offset="0.33" stop-color="#3aa05a"/><stop offset="0.48" stop-color="#62bb6e"/><stop offset="0.62" stop-color="#9ad795"/><stop offset="0.78" stop-color="#cdebc6"/><stop offset="0.92" stop-color="#f0f9ed"/><stop offset="1" stop-color="#ffffff"/></linearGradient></defs>
<rect x="1974.4" y="1358.2" width="17.2" height="222.0" fill="url(#gg)"/>
<text x="2000.6" y="1398.7" font-size="28.8">0.8</text>
<text x="2000.6" y="1461.7" font-size="28.8">0.6</text>
<text x="2000.6" y="1525.0" font-size="28.8">0.4</text>
<text x="2000.6" y="1587.7" font-size="28.8">0.2</text>
<text x="6.0" y="1941.0" font-size="27" font-weight="bold">e</text>
<g transform="translate(90.70,1964.10) scale(4.5252,6.8563)" fill="none" stroke-width="1.04" shape-rendering="crispEdges">
<path stroke="#ffffff" d="M0 0.5h1M1 1.5h1M2 2.5h1M3 3.5h1M4 4.5h1M5 5.5h1M6 6.5h1M7 7.5h1M8 8.5h1M9 9.5h1M10 10.5h1M11 11.5h1M12 12.5h1M13 13.5h1M14 14.5h1M15 15.5h1M16 16.5h1M17 17.5h1M18 18.5h1M19 19.5h1M20 20.5h1M21 21.5h1M22 22.5h1M23 23.5h1M24 24.5h1M25 25.5h1M26 26.5h1M27 27.5h1M28 28.5h1M29 29.5h1M30 30.5h1M31 31.5h1M32 32.5h1M33 33.5h1M34 34.5h1M35 35.5h1M36 36.5h1M37 37.5h1M38 38.5h1M39 39.5h1M40 40.5h1M41 41.5h1M42 42.5h1M43 43.5h1M44 44.5h1M45 45.5h1M46 46.5h1M47 47.5h1M48 48.5h1M49 49.5h1M50 50.5h1M51 51.5h1M52 52.5h1M53 53.5h1M54 54.5h1M55 55.5h1M56 56.5h1M57 57.5h1M58 58.5h1M59 59.5h1M60 60.5h1M61 61.5h1M62 62.5h1M63 63.5h1M64 64.5h1M65 65.5h1M66 66.5h1M67 67.5h1M68 68.5h1M69 69.5h1M70 70.5h1M71 71.5h1M72 72.5h1M73 73.5h1M74 74.5h1M75 75.5h1M76 76.5h1M77 77.5h1M78 78.5h1M79 79.5h1M80 80.5h1M81 81.5h1M82 82.5h1M83 83.5h1M84 84.5h1M85 85.5h1M86 86.5h1M87 87.5h1M88 88.5h1M89 89.5h1M90 90.5h1M91 91.5h1M92 92.5h1M93 93.5h1M94 94.5h1M95 95.5h1M96 96.5h1M97 97.5h1M98 98.5h1M99 99.5h1M100 100.5h1M101 101.5h1M102 102.5h1"/>
<path stroke="#cc3d3a" d="M1 0.5h1M3 0.5h3M7 0.5h1M19 0.5h1M30 0.5h2M0 1.5h1M7 1.5h1M18 1.5h1M27 1.5h1M30 1.5h1M8 2.5h1M10 2.5h1M14 2.5h1M24 2.5h2M0 3.5h1M4 3.5h1M16 3.5h3M22 3.5h1M0 4.5h1M3 4.5h1M38 4.5h1M40 4.5h1M0 5.5h1M6 5.5h1M8 5.5h1M10 5.5h1M12 5.5h1M14 5.5h2M37 5.5h1M97 5.5h1M5 6.5h1M8 6.5h1M10 6.5h1M13 6.5h1M15 6.5h2M37 6.5h1M39 6.5h1M98 6.5h1M0 7.5h2M36 7.5h2M39 7.5h1M2 8.5h1M5 8.5h2M9 8.5h1M18 8.5h2M8 9.5h1M10 9.5h1M38 9.5h1M40 9.5h1M97 9.5h1M2 10.5h1M5 10.5h2M9 10.5h1M16 10.5h1M98 10.5h1M12 11.5h1M5 12.5h1M11 12.5h1M6 13.5h1M27 13.5h1M36 13.5h1M38 13.5h2M2 14.5h1M5 14.5h1M5 15.5h2M21 15.5h1M25 15.5h1M31 15.5h1M45 15.5h1M3 16.5h1M6 16.5h1M10 16.5h1M21 16.5h1M45 16.5h1M3 17.5h1M39 17.5h1M1 18.5h1M3 18.5h1M8 18.5h1M0 19.5h1M8 19.5h1M15 21.5h2M3 22.5h1M46 22.5h1M46 23.5h1M2 24.5h1M25 24.5h1M2 25.5h1M15 25.5h1M24 25.5h1M28 25.5h1M32 25.5h1M45 25.5h2M46 26.5h1M1 27.5h1M13 27.5h1M45 27.5h1M25 28.5h1M32 28.5h1M0 30.5h2M46 30.5h1M0 31.5h1M15 31.5h1M45 31.5h1M25 32.5h1M28 32.5h1M97 33.5h1M36 34.5h1M97 34.5h2M93 35.5h1M96 35.5h1M7 36.5h1M13 36.5h1M34 36.5h1M95 36.5h1M5 37.5h3M4 38.5h1M9 38.5h1M13 38.5h1M97 38.5h1M6 39.5h2M13 39.5h1M17 39.5h1M42 39.5h1M4 40.5h1M9 40.5h1M42 41.5h1M39 42.5h1M41 42.5h1M15 45.5h2M25 45.5h1M27 45.5h1M31 45.5h1M22 46.5h2M25 46.5h2M30 46.5h1M53 49.5h1M51 50.5h1M50 51.5h1M53 51.5h1M53 52.5h1M49 53.5h1M51 53.5h2M66 61.5h2M72 61.5h2M63 62.5h3M69 62.5h1M72 62.5h1M77 62.5h1M62 63.5h1M70 63.5h1M78 63.5h1M62 64.5h1M78 64.5h1M82 64.5h1M87 64.5h1M62 65.5h1M70 65.5h1M78 65.5h1M61 66.5h1M61 67.5h1M85 67.5h1M80 68.5h1M82 68.5h1M91 68.5h1M62 69.5h1M81 69.5h1M84 69.5h2M63 70.5h1M65 70.5h1M78 70.5h1M86 70.5h1M92 71.5h1M61 72.5h2M85 72.5h1M88 72.5h1M90 72.5h1M92 72.5h1M61 73.5h1M89 73.5h2M92 74.5h1M78 75.5h1M80 75.5h1M92 76.5h1M62 77.5h1M82 77.5h1M84 77.5h1M88 77.5h1M63 78.5h3M70 78.5h1M75 78.5h1M86 78.5h1M91 79.5h1M68 80.5h1M75 80.5h1M82 80.5h1M69 81.5h1M88 81.5h1M64 82.5h1M68 82.5h1M77 82.5h1M80 82.5h1M86 82.5h1M92 83.5h2M69 84.5h1M77 84.5h1M86 84.5h1M67 85.5h1M69 85.5h1M72 85.5h1M86 85.5h1M90 85.5h1M92 85.5h1M70 86.5h1M78 86.5h1M82 86.5h1M84 86.5h2M90 86.5h4M64 87.5h1M89 87.5h2M93 87.5h1M98 87.5h1M72 88.5h1M77 88.5h1M81 88.5h1M73 89.5h1M87 89.5h1M91 89.5h1M72 90.5h2M85 90.5h3M92 90.5h1M68 91.5h1M79 91.5h1M86 91.5h1M89 91.5h1M71 92.5h2M74 92.5h1M76 92.5h1M83 92.5h1M85 92.5h2M90 92.5h1M35 93.5h1M83 93.5h1M86 93.5h2M96 94.5h1M36 95.5h1M35 96.5h1M94 96.5h1M97 96.5h1M5 97.5h1M9 97.5h1M33 97.5h2M38 97.5h1M96 97.5h1M6 98.5h1M10 98.5h1M34 98.5h1M87 98.5h1"/>
<path stroke="#c4262e" d="M2 0.5h1M12 0.5h2M16 0.5h3M20 0.5h1M22 0.5h1M27 0.5h1M29 0.5h1M32 0.5h1M2 1.5h1M4 1.5h1M12 1.5h2M16 1.5h1M20 1.5h1M22 1.5h1M0 2.5h2M4 2.5h2M7 2.5h1M9 2.5h1M12 2.5h2M15 2.5h9M26 2.5h2M29 2.5h4M9 3.5h1M13 3.5h1M20 3.5h1M27 3.5h1M30 3.5h1M1 4.5h2M5 4.5h1M7 4.5h7M15 4.5h5M37 4.5h1M39 4.5h1M97 4.5h2M2 5.5h1M4 5.5h1M7 5.5h1M9 5.5h1M13 5.5h1M16 5.5h4M7 6.5h1M17 6.5h2M2 7.5h1M4 7.5h3M8 7.5h3M12 7.5h2M15 7.5h5M38 7.5h1M40 7.5h1M97 7.5h2M4 8.5h1M7 8.5h1M13 8.5h1M16 8.5h2M2 9.5h4M7 9.5h1M12 9.5h2M15 9.5h5M37 9.5h1M39 9.5h1M98 9.5h1M4 10.5h1M7 10.5h1M17 10.5h2M4 11.5h1M13 11.5h1M16 11.5h3M0 12.5h3M4 12.5h1M7 12.5h1M9 12.5h1M13 12.5h1M15 12.5h5M39 12.5h1M0 13.5h6M7 13.5h3M11 13.5h2M14 13.5h7M22 13.5h1M40 13.5h1M13 14.5h1M15 14.5h5M2 15.5h1M4 15.5h1M7 15.5h1M9 15.5h1M12 15.5h3M16 15.5h5M22 15.5h1M27 15.5h1M29 15.5h2M32 15.5h1M0 16.5h3M4 16.5h2M7 16.5h3M11 16.5h5M17 16.5h4M22 16.5h11M46 16.5h1M0 17.5h1M2 17.5h1M4 17.5h13M18 17.5h15M45 17.5h2M0 18.5h1M2 18.5h1M4 18.5h4M9 18.5h9M19 18.5h14M45 18.5h2M2 19.5h1M4 19.5h2M7 19.5h1M9 19.5h1M12 19.5h7M20 19.5h13M45 19.5h1M0 20.5h4M13 20.5h1M15 20.5h5M21 20.5h12M45 20.5h2M2 21.5h1M17 21.5h4M22 21.5h2M27 21.5h1M29 21.5h4M0 22.5h3M13 22.5h1M15 22.5h7M23 22.5h10M45 22.5h1M2 23.5h1M16 23.5h7M24 23.5h9M16 24.5h5M22 24.5h2M26 24.5h2M29 24.5h4M16 25.5h5M22 25.5h2M27 25.5h1M29 25.5h3M2 26.5h1M16 26.5h5M22 26.5h3M27 26.5h6M0 27.5h1M2 27.5h2M15 27.5h12M28 27.5h5M46 27.5h1M16 28.5h5M22 28.5h2M26 28.5h2M29 28.5h3M0 29.5h1M2 29.5h1M15 29.5h14M30 29.5h3M45 29.5h1M2 30.5h2M15 30.5h15M31 30.5h2M45 30.5h1M2 31.5h1M16 31.5h15M32 31.5h1M46 31.5h1M0 32.5h1M2 32.5h1M15 32.5h10M26 32.5h2M29 32.5h3M46 32.5h1M36 33.5h1M98 33.5h1M36 35.5h1M97 35.5h2M33 36.5h1M35 36.5h1M39 36.5h2M93 36.5h2M96 36.5h3M4 37.5h1M9 37.5h1M38 37.5h3M97 37.5h2M7 38.5h1M37 38.5h1M39 38.5h2M98 38.5h1M4 39.5h1M9 39.5h1M12 39.5h1M36 39.5h3M40 39.5h1M93 39.5h1M97 39.5h2M7 40.5h1M13 40.5h1M36 40.5h4M97 40.5h2M17 45.5h4M22 45.5h1M29 45.5h2M46 45.5h1M16 46.5h3M20 46.5h1M27 46.5h1M31 46.5h2M45 46.5h1M50 49.5h1M49 50.5h1M52 50.5h2M50 52.5h1M50 53.5h1M66 62.5h2M71 62.5h1M73 62.5h1M64 63.5h6M71 63.5h7M79 63.5h5M63 64.5h1M65 64.5h13M79 64.5h3M83 64.5h1M63 65.5h2M66 65.5h4M71 65.5h7M79 65.5h1M83 65.5h1M62 66.5h4M67 66.5h17M87 66.5h1M62 67.5h5M68 67.5h16M87 67.5h1M100 67.5h1M63 68.5h5M69 68.5h11M81 68.5h1M83 68.5h1M85 68.5h3M63 69.5h6M70 69.5h11M82 69.5h2M86 69.5h3M91 69.5h2M64 70.5h1M66 70.5h4M71 70.5h4M76 70.5h2M79 70.5h1M83 70.5h1M87 70.5h1M62 71.5h9M72 71.5h12M85 71.5h4M91 71.5h1M63 72.5h9M73 72.5h12M86 72.5h2M62 73.5h11M74 73.5h15M91 73.5h1M63 74.5h11M75 74.5h13M91 74.5h1M63 75.5h7M71 75.5h4M76 75.5h2M79 75.5h1M81 75.5h1M83 75.5h2M86 75.5h2M63 76.5h13M77 76.5h7M87 76.5h1M63 77.5h14M78 77.5h4M83 77.5h1M85 77.5h3M66 78.5h4M71 78.5h4M76 78.5h2M79 78.5h2M83 78.5h1M87 78.5h1M63 79.5h16M80 79.5h9M63 80.5h2M66 80.5h2M69 80.5h1M71 80.5h4M76 80.5h4M81 80.5h1M83 80.5h1M86 80.5h2M63 81.5h2M66 81.5h3M71 81.5h7M79 81.5h2M83 81.5h1M86 81.5h2M63 82.5h1M66 82.5h2M69 82.5h1M71 82.5h4M76 82.5h1M79 82.5h1M83 82.5h1M87 82.5h1M63 83.5h20M84 83.5h5M90 83.5h2M72 84.5h4M79 84.5h1M83 84.5h1M87 84.5h1M92 84.5h1M68 85.5h1M71 85.5h1M73 85.5h2M77 85.5h1M79 85.5h1M83 85.5h1M87 85.5h1M68 86.5h2M71 86.5h5M77 86.5h1M79 86.5h3M83 86.5h1M87 86.5h1M66 87.5h21M88 87.5h1M91 87.5h2M97 87.5h1M69 88.5h1M71 88.5h1M73 88.5h1M79 88.5h1M83 88.5h1M87 88.5h1M92 89.5h1M83 90.5h1M91 90.5h1M69 91.5h1M71 91.5h1M73 91.5h2M83 91.5h1M87 91.5h1M90 91.5h1M92 91.5h1M69 92.5h1M84 92.5h1M87 92.5h1M89 92.5h1M91 92.5h1M36 93.5h1M39 93.5h1M94 93.5h5M36 94.5h1M93 94.5h1M97 94.5h2M93 95.5h1M97 95.5h2M36 96.5h1M93 96.5h1M98 96.5h1M4 97.5h1M7 97.5h1M35 97.5h3M39 97.5h2M87 97.5h1M93 97.5h3M98 97.5h1M4 98.5h1M7 98.5h1M9 98.5h1M33 98.5h1M35 98.5h6M93 98.5h5M67 100.5h1"/>
<path stroke="#e9896d" d="M6 0.5h1M5 1.5h2M21 1.5h1M24 1.5h2M10 3.5h2M21 3.5h1M25 3.5h1M31 3.5h1M20 4.5h1M27 4.5h1M32 4.5h1M34 4.5h2M50 4.5h1M1 5.5h1M23 5.5h1M33 5.5h2M42 5.5h1M50 5.5h1M0 6.5h2M11 6.5h1M14 6.5h1M33 6.5h1M38 6.5h1M50 6.5h1M30 7.5h1M33 7.5h1M42 7.5h1M50 7.5h1M52 7.5h1M55 7.5h1M10 8.5h3M36 8.5h1M40 8.5h1M14 9.5h1M22 9.5h1M27 9.5h1M32 9.5h1M50 9.5h1M55 9.5h1M3 10.5h1M8 10.5h1M11 10.5h1M3 11.5h1M6 11.5h1M8 11.5h1M10 11.5h1M20 11.5h1M22 11.5h1M31 11.5h2M54 11.5h1M8 12.5h1M25 12.5h1M28 12.5h1M30 12.5h1M35 12.5h1M42 12.5h1M45 12.5h1M49 12.5h2M21 13.5h1M24 13.5h1M26 13.5h1M31 13.5h1M33 13.5h1M45 13.5h1M55 13.5h1M6 14.5h1M9 14.5h1M22 14.5h3M29 14.5h1M37 14.5h1M40 14.5h1M38 16.5h1M42 16.5h1M54 16.5h1M38 17.5h1M41 17.5h1M52 17.5h2M55 17.5h2M38 18.5h3M50 18.5h1M53 18.5h1M4 20.5h1M11 20.5h1M49 20.5h2M52 20.5h1M1 21.5h1M3 21.5h1M13 21.5h1M50 21.5h1M9 22.5h1M11 22.5h1M14 22.5h1M50 22.5h1M52 22.5h1M56 22.5h1M5 23.5h1M14 23.5h1M54 23.5h1M1 24.5h1M13 24.5h2M1 25.5h1M3 25.5h1M12 25.5h1M13 26.5h1M4 27.5h1M9 27.5h1M50 27.5h1M52 27.5h1M12 28.5h1M50 28.5h1M14 29.5h1M7 30.5h1M12 30.5h1M53 30.5h1M55 30.5h1M3 31.5h1M11 31.5h1M13 31.5h1M54 31.5h1M4 32.5h1M9 32.5h1M11 32.5h1M50 32.5h1M5 33.5h3M13 33.5h1M34 33.5h1M37 33.5h1M39 33.5h1M4 34.5h2M33 34.5h1M35 34.5h1M37 34.5h2M4 35.5h1M12 35.5h1M34 35.5h1M38 35.5h1M40 35.5h1M8 36.5h1M14 37.5h1M33 37.5h2M94 37.5h2M6 38.5h1M16 38.5h3M34 38.5h2M96 38.5h1M18 39.5h1M33 39.5h1M96 39.5h1M8 40.5h1M14 40.5h1M18 40.5h1M35 40.5h1M17 41.5h1M5 42.5h1M7 42.5h1M12 42.5h1M16 42.5h1M98 42.5h1M12 45.5h2M12 49.5h1M20 49.5h1M4 50.5h4M9 50.5h1M12 50.5h1M18 50.5h1M20 50.5h3M27 50.5h2M32 50.5h1M7 52.5h1M17 52.5h1M20 52.5h1M22 52.5h1M27 52.5h1M17 53.5h2M30 53.5h1M11 54.5h1M16 54.5h1M23 54.5h1M31 54.5h1M7 55.5h1M9 55.5h1M13 55.5h1M17 55.5h1M30 55.5h1M17 56.5h1M22 56.5h1M65 61.5h1M68 61.5h1M70 61.5h1M75 61.5h1M81 61.5h2M70 62.5h1M82 62.5h1M87 62.5h1M84 63.5h1M89 63.5h2M99 63.5h1M84 64.5h1M88 64.5h1M90 64.5h1M92 64.5h1M61 65.5h1M86 65.5h1M88 65.5h1M99 65.5h1M88 67.5h1M61 68.5h1M99 69.5h1M61 70.5h2M88 70.5h3M92 70.5h1M99 70.5h2M100 72.5h1M100 74.5h1M61 75.5h1M90 75.5h1M89 76.5h1M99 76.5h1M100 77.5h1M96 78.5h1M94 79.5h1M61 81.5h1M90 81.5h1M61 82.5h2M90 82.5h1M96 82.5h1M94 83.5h1M63 84.5h2M89 84.5h1M95 85.5h2M65 86.5h1M62 87.5h1M94 87.5h1M64 88.5h2M67 88.5h1M70 88.5h1M90 88.5h1M95 88.5h1M63 89.5h1M70 89.5h1M76 89.5h1M84 89.5h1M93 89.5h1M63 90.5h2M70 90.5h1M75 90.5h1M81 90.5h2M88 90.5h1M96 91.5h1M64 92.5h1M70 92.5h1M93 92.5h1M96 92.5h1M89 93.5h1M92 93.5h1M37 94.5h1M79 94.5h1M83 94.5h1M87 94.5h1M37 95.5h1M85 95.5h1M88 95.5h1M38 96.5h2M78 96.5h1M82 96.5h1M85 96.5h1M91 96.5h2M42 98.5h1M63 99.5h1M65 99.5h1M69 99.5h2M76 99.5h1M100 99.5h1M70 100.5h1M72 100.5h1M74 100.5h1M77 100.5h1M99 100.5h1"/>
<path stroke="#de6e58" d="M8 0.5h1M10 0.5h2M15 0.5h1M21 0.5h1M3 1.5h1M10 1.5h2M14 1.5h2M29 1.5h1M3 2.5h1M1 3.5h2M5 3.5h2M8 3.5h1M14 3.5h2M19 3.5h1M23 3.5h2M26 3.5h1M28 3.5h1M14 4.5h1M36 4.5h1M53 4.5h1M3 5.5h1M36 5.5h1M3 6.5h1M36 6.5h1M14 7.5h1M35 7.5h1M0 8.5h1M3 8.5h1M14 8.5h1M38 8.5h1M98 8.5h1M11 9.5h1M33 9.5h1M35 9.5h1M0 10.5h2M39 10.5h2M97 10.5h1M0 11.5h2M9 11.5h1M14 11.5h1M27 11.5h1M29 11.5h1M35 11.5h3M39 11.5h1M22 12.5h1M26 12.5h2M29 12.5h1M31 12.5h2M36 12.5h1M38 12.5h1M55 12.5h1M25 13.5h1M28 13.5h2M32 13.5h1M34 13.5h2M42 13.5h1M50 13.5h1M1 14.5h1M3 14.5h2M7 14.5h2M11 14.5h1M31 14.5h1M0 15.5h2M3 15.5h1M39 15.5h1M46 15.5h1M39 16.5h2M50 16.5h1M37 17.5h1M42 17.5h1M37 18.5h1M55 18.5h1M3 19.5h1M55 20.5h1M0 21.5h1M45 21.5h2M12 22.5h1M55 22.5h1M3 23.5h1M3 24.5h1M46 24.5h1M13 25.5h1M3 26.5h1M12 26.5h1M11 27.5h2M3 28.5h1M13 28.5h1M45 28.5h2M1 29.5h1M11 29.5h3M50 29.5h1M12 31.5h1M14 31.5h1M12 32.5h2M9 33.5h1M35 33.5h1M94 33.5h3M13 34.5h1M39 34.5h1M95 34.5h1M7 35.5h1M9 35.5h1M11 35.5h1M13 35.5h1M33 35.5h1M37 35.5h1M39 35.5h1M4 36.5h3M11 36.5h2M37 36.5h1M11 37.5h1M17 37.5h2M35 37.5h2M42 37.5h1M93 37.5h1M96 37.5h1M8 38.5h1M12 38.5h1M42 38.5h1M95 38.5h1M10 39.5h2M15 39.5h2M34 39.5h2M95 39.5h1M10 40.5h1M16 40.5h1M94 40.5h1M96 40.5h1M13 42.5h1M17 42.5h1M37 42.5h2M21 45.5h1M28 45.5h1M15 46.5h1M21 46.5h1M24 46.5h1M28 46.5h1M51 49.5h1M13 50.5h1M16 50.5h1M29 50.5h1M49 51.5h1M4 53.5h1M12 55.5h1M18 55.5h1M20 55.5h1M22 55.5h1M62 61.5h1M79 61.5h1M83 61.5h1M61 62.5h1M75 62.5h1M81 62.5h1M85 63.5h2M88 63.5h1M91 63.5h1M85 64.5h2M89 64.5h1M91 64.5h1M99 64.5h2M85 65.5h1M87 65.5h1M92 65.5h1M100 65.5h1M84 66.5h1M86 66.5h1M88 66.5h3M99 66.5h1M84 67.5h1M89 67.5h1M91 67.5h2M99 67.5h1M84 68.5h1M89 68.5h1M89 69.5h2M81 70.5h1M85 70.5h1M89 71.5h2M99 71.5h1M91 72.5h1M99 72.5h1M99 73.5h2M89 74.5h2M62 75.5h1M85 75.5h1M89 75.5h1M91 75.5h2M88 76.5h1M90 76.5h1M90 77.5h1M82 78.5h1M84 78.5h2M95 78.5h1M61 79.5h1M90 79.5h1M93 79.5h1M95 79.5h1M90 80.5h1M93 80.5h1M62 81.5h1M70 81.5h1M89 81.5h1M91 81.5h1M93 81.5h2M78 82.5h1M85 82.5h1M91 82.5h1M61 83.5h1M89 83.5h1M95 83.5h1M66 84.5h3M78 84.5h1M85 84.5h1M88 84.5h1M93 84.5h1M96 84.5h3M63 85.5h3M70 85.5h1M75 85.5h1M78 85.5h1M82 85.5h1M84 85.5h1M88 85.5h2M91 85.5h1M93 85.5h1M97 85.5h1M63 86.5h2M66 86.5h1M96 86.5h1M65 87.5h1M63 88.5h1M66 88.5h1M76 88.5h1M84 88.5h2M89 88.5h1M91 88.5h3M97 88.5h2M64 89.5h1M66 89.5h4M71 89.5h1M74 89.5h2M81 89.5h1M83 89.5h1M85 89.5h1M88 89.5h1M90 89.5h1M66 90.5h1M69 90.5h1M71 90.5h1M74 90.5h1M76 90.5h2M79 90.5h2M89 90.5h1M63 91.5h2M67 91.5h1M72 91.5h1M75 91.5h1M81 91.5h2M85 91.5h1M88 91.5h1M93 91.5h1M65 92.5h1M67 92.5h1M75 92.5h1M88 92.5h1M37 93.5h1M79 93.5h3M84 93.5h2M88 93.5h1M91 93.5h1M33 94.5h1M40 94.5h1M81 94.5h1M33 95.5h2M38 95.5h2M78 95.5h2M83 95.5h1M33 96.5h1M37 96.5h1M40 96.5h1M84 96.5h1M86 96.5h1M10 97.5h1M84 97.5h2M88 97.5h1M8 98.5h1M84 98.5h1M88 98.5h1M64 99.5h1M66 99.5h2M71 99.5h3M64 100.5h2M73 100.5h1"/>
<path stroke="#d55447" d="M9 0.5h1M14 0.5h1M23 0.5h4M28 0.5h1M8 1.5h2M17 1.5h1M19 1.5h1M23 1.5h1M26 1.5h1M28 1.5h1M31 1.5h2M6 2.5h1M11 2.5h1M28 2.5h1M7 3.5h1M12 3.5h1M29 3.5h1M32 3.5h1M6 4.5h1M11 5.5h1M38 5.5h3M98 5.5h1M2 6.5h1M4 6.5h1M9 6.5h1M12 6.5h1M19 6.5h1M40 6.5h1M97 6.5h1M3 7.5h1M11 7.5h1M1 8.5h1M15 8.5h1M37 8.5h1M39 8.5h1M97 8.5h1M0 9.5h2M6 9.5h1M36 9.5h1M12 10.5h2M15 10.5h1M19 10.5h1M37 10.5h2M2 11.5h1M5 11.5h1M7 11.5h1M15 11.5h1M19 11.5h1M3 12.5h1M6 12.5h1M10 12.5h1M14 12.5h1M20 12.5h1M37 12.5h1M40 12.5h1M10 13.5h1M30 13.5h1M37 13.5h1M0 14.5h1M12 14.5h1M20 14.5h1M27 14.5h1M39 14.5h1M8 15.5h1M10 15.5h2M23 15.5h2M26 15.5h1M28 15.5h1M1 17.5h1M50 17.5h1M54 17.5h1M1 19.5h1M6 19.5h1M10 19.5h2M46 19.5h1M12 20.5h1M14 20.5h1M24 21.5h3M28 21.5h1M0 23.5h2M15 23.5h1M45 23.5h1M0 24.5h1M15 24.5h1M21 24.5h1M28 24.5h1M45 24.5h1M0 25.5h1M21 25.5h1M26 25.5h1M0 26.5h2M15 26.5h1M21 26.5h1M25 26.5h1M45 26.5h1M14 27.5h1M0 28.5h3M15 28.5h1M21 28.5h1M24 28.5h1M3 29.5h1M46 29.5h1M13 30.5h1M1 31.5h1M1 32.5h1M3 32.5h1M45 32.5h1M93 33.5h1M93 34.5h2M96 34.5h1M94 35.5h2M9 36.5h1M38 36.5h1M8 37.5h1M10 37.5h1M12 37.5h2M41 37.5h1M5 38.5h1M10 38.5h1M36 38.5h1M93 38.5h1M5 39.5h1M8 39.5h1M14 39.5h1M94 39.5h1M5 40.5h2M12 40.5h1M42 40.5h1M93 40.5h1M95 40.5h1M37 41.5h1M40 42.5h1M23 45.5h2M26 45.5h1M32 45.5h1M19 46.5h1M29 46.5h1M52 49.5h1M17 50.5h1M52 51.5h1M49 52.5h1M51 52.5h1M17 54.5h1M63 61.5h2M69 61.5h1M71 61.5h1M74 61.5h1M76 61.5h2M68 62.5h1M74 62.5h1M76 62.5h1M79 62.5h2M83 62.5h1M61 63.5h1M87 63.5h1M92 63.5h1M61 64.5h1M80 65.5h3M91 65.5h1M85 66.5h1M91 66.5h2M100 66.5h1M86 67.5h1M90 67.5h1M62 68.5h1M88 68.5h1M90 68.5h1M92 68.5h1M61 69.5h1M75 70.5h1M80 70.5h1M82 70.5h1M84 70.5h1M61 71.5h1M84 71.5h1M100 71.5h1M89 72.5h1M92 73.5h1M61 74.5h2M88 74.5h1M99 74.5h1M70 75.5h1M82 75.5h1M88 75.5h1M61 76.5h2M84 76.5h3M91 76.5h1M61 77.5h1M89 77.5h1M91 77.5h2M99 77.5h1M81 78.5h1M88 78.5h1M91 78.5h2M62 79.5h1M92 79.5h1M96 79.5h1M62 80.5h1M65 80.5h1M70 80.5h1M84 80.5h2M88 80.5h1M91 80.5h2M65 81.5h1M78 81.5h1M82 81.5h1M84 81.5h2M92 81.5h1M65 82.5h1M70 82.5h1M75 82.5h1M81 82.5h1M84 82.5h1M88 82.5h1M92 82.5h1M62 83.5h1M96 83.5h1M70 84.5h2M76 84.5h1M80 84.5h3M90 84.5h2M66 85.5h1M76 85.5h1M80 85.5h2M98 85.5h1M67 86.5h1M76 86.5h1M88 86.5h2M97 86.5h2M63 87.5h1M95 87.5h2M68 88.5h1M74 88.5h2M78 88.5h1M80 88.5h1M82 88.5h1M86 88.5h1M72 89.5h1M77 89.5h1M86 89.5h1M67 90.5h2M84 90.5h1M65 91.5h2M76 91.5h3M80 91.5h1M84 91.5h1M63 92.5h1M66 92.5h1M68 92.5h1M73 92.5h1M77 92.5h6M33 93.5h2M38 93.5h1M40 93.5h1M34 94.5h2M39 94.5h1M95 94.5h1M35 95.5h1M40 95.5h1M87 95.5h1M94 95.5h1M96 95.5h1M34 96.5h1M79 96.5h1M83 96.5h1M87 96.5h1M95 96.5h1M6 97.5h1M8 97.5h1M86 97.5h1M5 98.5h1M85 98.5h2M74 99.5h1M77 99.5h1M66 100.5h1M71 100.5h1"/>
<path stroke="#f9ece4" d="M33 0.5h1M34 1.5h1M54 1.5h1M58 1.5h1M98 1.5h1M33 3.5h2M37 3.5h1M48 3.5h2M52 3.5h1M54 3.5h1M56 3.5h1M58 3.5h1M94 3.5h1M24 4.5h1M57 5.5h1M85 5.5h1M57 6.5h1M58 7.5h1M95 7.5h1M28 8.5h1M96 8.5h1M96 9.5h1M23 10.5h1M48 10.5h1M94 10.5h1M96 10.5h1M57 11.5h1M59 11.5h1M97 11.5h1M44 12.5h1M57 12.5h2M97 13.5h1M58 14.5h1M35 15.5h1M47 15.5h1M60 15.5h1M97 15.5h1M35 16.5h1M43 16.5h1M48 16.5h1M60 16.5h1M97 17.5h2M43 18.5h2M47 18.5h1M43 19.5h1M47 19.5h1M97 19.5h1M37 20.5h1M48 20.5h1M59 21.5h2M38 22.5h1M48 22.5h1M10 23.5h1M37 23.5h1M40 23.5h1M59 23.5h1M4 24.5h1M37 24.5h1M39 24.5h1M43 24.5h2M51 24.5h1M58 24.5h1M60 24.5h1M38 25.5h3M42 25.5h2M48 25.5h1M33 26.5h1M39 26.5h1M43 26.5h1M57 26.5h1M59 26.5h1M35 27.5h1M47 27.5h1M59 27.5h1M8 28.5h1M38 28.5h3M44 28.5h1M57 28.5h1M47 29.5h1M57 29.5h1M59 30.5h2M38 31.5h1M47 31.5h2M37 32.5h2M43 32.5h2M0 33.5h1M3 33.5h1M26 33.5h1M46 33.5h1M49 33.5h1M51 33.5h1M55 33.5h2M60 33.5h1M87 33.5h3M1 34.5h1M3 34.5h1M41 34.5h1M46 34.5h1M49 34.5h1M51 34.5h2M56 34.5h3M60 34.5h1M78 34.5h1M82 34.5h1M86 34.5h1M91 34.5h1M15 35.5h2M27 35.5h1M46 35.5h3M50 35.5h1M52 35.5h1M54 35.5h1M58 35.5h2M91 35.5h1M45 36.5h1M50 36.5h3M56 36.5h3M60 36.5h1M89 36.5h2M3 37.5h1M20 37.5h1M23 37.5h2M32 37.5h1M47 37.5h1M51 37.5h2M56 37.5h2M89 37.5h2M92 37.5h1M22 38.5h1M25 38.5h1M28 38.5h1M31 38.5h2M45 38.5h1M53 38.5h1M57 38.5h2M60 38.5h1M88 38.5h1M91 38.5h1M24 39.5h3M28 39.5h1M45 39.5h1M50 39.5h1M59 39.5h1M92 39.5h1M23 40.5h1M25 40.5h1M28 40.5h1M46 40.5h1M49 40.5h1M53 40.5h1M55 40.5h1M57 40.5h3M89 40.5h1M91 40.5h1M34 41.5h1M46 41.5h2M49 41.5h1M51 41.5h2M56 41.5h1M59 41.5h1M89 41.5h1M91 41.5h1M25 42.5h1M45 42.5h1M53 42.5h1M59 42.5h1M16 43.5h1M18 43.5h2M24 43.5h3M32 43.5h1M46 43.5h1M51 43.5h1M56 43.5h2M61 43.5h2M65 43.5h1M69 43.5h4M75 43.5h3M80 43.5h1M85 43.5h3M92 43.5h1M94 43.5h2M97 43.5h2M102 43.5h1M12 44.5h1M18 44.5h1M24 44.5h1M28 44.5h1M32 44.5h1M46 44.5h2M49 44.5h3M54 44.5h1M56 44.5h1M59 44.5h1M61 44.5h1M63 44.5h1M65 44.5h1M67 44.5h5M73 44.5h1M75 44.5h2M89 44.5h3M95 44.5h3M99 44.5h1M36 45.5h1M38 45.5h2M42 45.5h1M47 45.5h2M53 45.5h1M57 45.5h3M33 46.5h3M40 46.5h2M43 46.5h2M47 46.5h2M52 46.5h1M57 46.5h1M60 46.5h1M99 46.5h1M15 47.5h1M18 47.5h2M27 47.5h1M29 47.5h1M31 47.5h1M35 47.5h1M37 47.5h1M41 47.5h1M44 47.5h3M51 47.5h2M58 47.5h1M97 47.5h3M3 48.5h1M10 48.5h1M16 48.5h1M20 48.5h1M22 48.5h1M25 48.5h1M31 48.5h1M35 48.5h1M45 48.5h2M98 48.5h1M3 49.5h1M33 49.5h2M40 49.5h2M44 49.5h1M54 49.5h1M57 49.5h1M60 49.5h1M35 50.5h2M39 50.5h1M44 50.5h1M24 51.5h1M33 51.5h2M36 51.5h2M41 51.5h1M43 51.5h2M47 51.5h1M55 51.5h1M58 51.5h1M96 51.5h1M3 52.5h1M34 52.5h4M41 52.5h1M46 52.5h2M57 52.5h1M59 52.5h2M38 53.5h1M40 53.5h1M42 53.5h1M45 53.5h1M57 53.5h2M60 53.5h1M1 54.5h1M3 54.5h1M35 54.5h1M44 54.5h1M49 54.5h1M57 54.5h1M98 54.5h1M100 54.5h1M33 55.5h1M40 55.5h1M51 55.5h1M3 56.5h1M33 56.5h2M36 56.5h2M41 56.5h1M43 56.5h2M5 57.5h2M11 57.5h2M26 57.5h1M28 57.5h2M34 57.5h1M36 57.5h3M40 57.5h1M43 57.5h1M45 57.5h2M49 57.5h1M52 57.5h3M61 57.5h1M82 57.5h1M90 57.5h1M92 57.5h2M1 58.5h1M3 58.5h1M7 58.5h1M12 58.5h1M14 58.5h1M24 58.5h1M34 58.5h3M38 58.5h1M40 58.5h1M45 58.5h1M47 58.5h1M51 58.5h1M53 58.5h1M62 58.5h1M64 58.5h1M79 58.5h1M96 58.5h1M11 59.5h1M21 59.5h1M23 59.5h1M26 59.5h2M30 59.5h1M35 59.5h1M39 59.5h4M44 59.5h2M52 59.5h1M89 59.5h2M97 59.5h1M15 60.5h2M21 60.5h1M24 60.5h1M30 60.5h1M33 60.5h2M36 60.5h1M38 60.5h1M46 60.5h1M49 60.5h1M52 60.5h2M63 60.5h1M85 60.5h1M89 60.5h1M91 60.5h1M96 60.5h1M43 61.5h2M57 61.5h1M89 61.5h1M99 61.5h1M43 62.5h1M58 62.5h1M95 62.5h1M44 63.5h1M60 63.5h1M58 64.5h1M43 65.5h2M44 67.5h1M44 68.5h1M43 69.5h2M95 69.5h1M102 69.5h1M43 70.5h2M96 70.5h1M102 70.5h1M43 71.5h2M43 72.5h1M94 72.5h3M44 73.5h1M95 73.5h1M43 75.5h2M102 75.5h1M43 76.5h2M43 77.5h1M34 78.5h1M98 78.5h2M101 78.5h1M58 79.5h1M98 79.5h1M43 80.5h1M98 80.5h2M34 82.5h1M57 82.5h1M97 83.5h1M100 83.5h1M101 84.5h1M5 85.5h1M43 85.5h1M60 85.5h1M34 86.5h1M43 86.5h1M99 86.5h1M101 86.5h1M33 87.5h1M43 87.5h1M33 88.5h1M38 88.5h1M99 88.5h1M33 89.5h1M36 89.5h2M40 89.5h2M44 89.5h1M59 89.5h3M99 89.5h1M36 90.5h2M44 90.5h1M57 90.5h1M59 90.5h1M99 90.5h2M34 91.5h2M38 91.5h1M40 91.5h2M44 91.5h1M60 91.5h1M100 91.5h3M37 92.5h1M39 92.5h1M43 92.5h1M57 92.5h1M57 93.5h1M3 94.5h1M10 94.5h1M43 94.5h1M72 94.5h1M7 95.5h1M43 95.5h2M62 95.5h1M69 95.5h1M72 95.5h2M102 95.5h1M8 96.5h3M44 96.5h1M51 96.5h1M58 96.5h1M60 96.5h1M70 96.5h1M72 96.5h1M11 97.5h1M13 97.5h1M15 97.5h1M17 97.5h1M19 97.5h1M43 97.5h2M47 97.5h1M59 97.5h1M83 97.5h1M1 98.5h1M17 98.5h1M43 98.5h1M47 98.5h2M54 98.5h1M78 98.5h3M44 99.5h1M46 99.5h2M61 99.5h1M78 99.5h1M80 99.5h1M86 99.5h1M88 99.5h3M101 99.5h1M54 100.5h1M83 100.5h1M90 100.5h2M101 100.5h1M78 101.5h1M84 101.5h1M86 101.5h1M91 101.5h1M99 101.5h2M43 102.5h1M69 102.5h2M75 102.5h1M91 102.5h1M95 102.5h1"/>
<path stroke="#fce1d1" d="M34 0.5h1M36 0.5h1M43 0.5h1M48 0.5h1M51 0.5h1M57 0.5h4M33 1.5h1M35 1.5h2M40 1.5h1M43 1.5h1M46 1.5h2M51 1.5h1M56 1.5h2M59 1.5h2M33 2.5h1M44 2.5h1M48 2.5h1M51 2.5h1M36 3.5h1M41 3.5h1M45 3.5h3M57 3.5h1M59 3.5h2M28 4.5h1M44 4.5h2M48 4.5h2M52 4.5h1M94 4.5h1M26 5.5h1M32 5.5h1M43 5.5h1M48 5.5h1M58 5.5h2M95 5.5h1M23 6.5h1M29 6.5h1M43 6.5h2M54 6.5h1M58 6.5h3M93 6.5h1M96 6.5h1M25 7.5h1M47 7.5h1M54 7.5h1M96 7.5h1M21 8.5h1M23 8.5h1M25 8.5h1M43 8.5h1M47 8.5h1M52 8.5h1M60 8.5h1M94 8.5h2M21 9.5h1M44 9.5h1M47 9.5h2M57 9.5h1M59 9.5h1M94 9.5h1M21 10.5h1M26 10.5h1M41 10.5h1M43 10.5h2M52 10.5h1M58 10.5h1M60 10.5h1M95 10.5h1M44 11.5h1M47 11.5h2M55 11.5h1M58 11.5h1M60 11.5h1M54 12.5h1M59 12.5h2M98 12.5h1M44 13.5h1M48 13.5h1M57 13.5h1M43 14.5h2M47 14.5h1M49 14.5h1M57 14.5h1M97 14.5h1M44 15.5h1M48 15.5h1M51 15.5h1M57 16.5h2M44 17.5h1M47 17.5h2M58 17.5h1M33 18.5h1M48 18.5h1M57 18.5h1M59 18.5h1M34 19.5h1M58 19.5h2M40 20.5h2M47 20.5h1M58 20.5h1M60 20.5h1M8 21.5h3M38 21.5h1M41 21.5h1M48 21.5h1M52 21.5h1M56 21.5h2M37 22.5h1M44 22.5h1M57 22.5h2M6 23.5h1M8 23.5h1M38 23.5h2M44 23.5h1M47 23.5h1M59 24.5h1M7 25.5h2M41 25.5h1M44 25.5h1M47 25.5h1M49 25.5h3M57 25.5h3M5 26.5h1M10 26.5h1M37 26.5h1M40 26.5h1M52 26.5h1M60 26.5h1M40 27.5h1M48 27.5h1M57 27.5h2M60 27.5h1M4 28.5h1M41 28.5h1M47 28.5h2M58 28.5h2M6 29.5h1M37 29.5h3M43 29.5h1M58 29.5h1M37 30.5h3M43 30.5h2M47 30.5h1M58 30.5h1M37 31.5h1M40 31.5h3M51 31.5h1M59 31.5h2M5 32.5h1M39 32.5h2M48 32.5h1M57 32.5h1M1 33.5h2M18 33.5h1M41 33.5h1M47 33.5h2M54 33.5h1M85 33.5h1M0 34.5h1M19 34.5h1M42 34.5h1M45 34.5h1M47 34.5h1M50 34.5h1M54 34.5h1M59 34.5h1M84 34.5h2M88 34.5h1M1 35.5h1M55 35.5h1M85 35.5h1M87 35.5h2M0 36.5h2M3 36.5h1M48 36.5h1M53 36.5h1M55 36.5h1M86 36.5h1M22 37.5h1M26 37.5h1M29 37.5h3M48 37.5h3M53 37.5h1M58 37.5h3M91 37.5h1M21 38.5h1M23 38.5h1M29 38.5h2M47 38.5h5M54 38.5h1M89 38.5h2M92 38.5h1M23 39.5h1M29 39.5h2M32 39.5h1M46 39.5h4M51 39.5h1M54 39.5h1M1 40.5h1M20 40.5h1M26 40.5h2M31 40.5h2M48 40.5h1M51 40.5h2M56 40.5h1M60 40.5h1M3 41.5h1M10 41.5h1M20 41.5h2M25 41.5h1M28 41.5h1M31 41.5h1M33 41.5h1M45 41.5h1M50 41.5h1M53 41.5h1M55 41.5h1M93 41.5h3M31 42.5h1M34 42.5h1M47 42.5h1M56 42.5h1M60 42.5h1M89 42.5h1M0 43.5h2M5 43.5h2M8 43.5h1M10 43.5h1M14 43.5h1M29 43.5h2M54 43.5h1M63 43.5h2M73 43.5h1M81 43.5h1M83 43.5h1M91 43.5h1M93 43.5h1M96 43.5h1M99 43.5h1M2 44.5h1M4 44.5h1M6 44.5h1M9 44.5h3M13 44.5h3M17 44.5h1M22 44.5h2M25 44.5h1M30 44.5h1M45 44.5h1M53 44.5h1M64 44.5h1M74 44.5h1M79 44.5h1M84 44.5h1M88 44.5h1M3 45.5h2M34 45.5h1M41 45.5h1M44 45.5h1M50 45.5h1M52 45.5h1M55 45.5h2M60 45.5h1M1 46.5h1M3 46.5h1M39 46.5h1M51 46.5h1M55 46.5h2M58 46.5h2M1 47.5h1M3 47.5h1M7 47.5h3M11 47.5h1M14 47.5h1M17 47.5h1M20 47.5h1M23 47.5h1M25 47.5h1M28 47.5h1M30 47.5h1M33 47.5h2M38 47.5h2M42 47.5h1M53 47.5h1M55 47.5h3M60 47.5h1M0 48.5h1M2 48.5h1M4 48.5h2M9 48.5h1M11 48.5h1M13 48.5h1M15 48.5h1M17 48.5h2M21 48.5h1M27 48.5h2M32 48.5h2M36 48.5h5M54 48.5h2M57 48.5h1M97 48.5h1M4 49.5h1M14 49.5h1M25 49.5h1M37 49.5h3M55 49.5h1M58 49.5h2M25 50.5h1M34 50.5h1M37 50.5h2M41 50.5h1M45 50.5h1M55 50.5h1M58 50.5h1M0 51.5h3M15 51.5h1M25 51.5h1M31 51.5h1M38 51.5h3M46 51.5h1M59 51.5h2M4 52.5h1M8 52.5h1M10 52.5h1M21 52.5h1M26 52.5h1M40 52.5h1M45 52.5h1M56 52.5h1M36 53.5h2M41 53.5h1M44 53.5h1M47 53.5h1M54 53.5h1M59 53.5h1M99 53.5h1M6 54.5h2M12 54.5h1M33 54.5h2M38 54.5h2M43 54.5h1M48 54.5h1M53 54.5h1M56 54.5h1M58 54.5h2M11 55.5h1M35 55.5h2M41 55.5h1M45 55.5h6M57 55.5h2M1 56.5h1M21 56.5h1M40 56.5h1M42 56.5h1M45 56.5h3M52 56.5h1M54 56.5h1M58 56.5h2M0 57.5h2M3 57.5h1M9 57.5h1M13 57.5h2M16 57.5h1M18 57.5h1M21 57.5h2M25 57.5h1M27 57.5h1M32 57.5h1M47 57.5h2M55 57.5h1M0 58.5h1M5 58.5h2M10 58.5h2M16 58.5h2M19 58.5h2M22 58.5h1M25 58.5h1M27 58.5h4M37 58.5h1M46 58.5h1M49 58.5h2M54 58.5h3M0 59.5h2M3 59.5h1M5 59.5h2M9 59.5h1M12 59.5h1M18 59.5h2M24 59.5h2M28 59.5h1M31 59.5h1M34 59.5h1M37 59.5h1M46 59.5h1M49 59.5h1M51 59.5h1M53 59.5h2M56 59.5h1M66 59.5h1M0 60.5h2M3 60.5h1M6 60.5h1M8 60.5h1M10 60.5h3M20 60.5h1M26 60.5h2M31 60.5h1M37 60.5h1M40 60.5h1M42 60.5h1M45 60.5h1M47 60.5h1M51 60.5h1M97 60.5h1M84 61.5h3M91 61.5h1M100 61.5h1M89 62.5h3M43 63.5h1M43 64.5h2M59 66.5h1M93 68.5h2M96 68.5h1M94 69.5h1M96 69.5h1M93 70.5h1M95 70.5h1M95 71.5h2M93 72.5h1M43 73.5h1M93 73.5h2M44 74.5h1M95 74.5h1M93 75.5h2M93 76.5h2M96 76.5h1M94 77.5h3M97 78.5h1M100 78.5h1M44 79.5h1M99 79.5h1M43 81.5h1M98 81.5h1M97 82.5h3M43 83.5h1M98 83.5h1M34 84.5h1M44 84.5h1M61 84.5h1M99 84.5h1M33 85.5h3M61 85.5h1M99 85.5h1M36 86.5h1M61 86.5h1M100 86.5h1M35 87.5h1M99 87.5h1M34 88.5h2M44 88.5h1M100 88.5h1M38 89.5h1M42 89.5h1M62 89.5h1M97 89.5h1M38 90.5h1M62 90.5h1M98 90.5h1M37 91.5h1M43 91.5h1M61 91.5h2M38 92.5h1M99 92.5h1M102 92.5h1M6 93.5h1M41 93.5h1M43 93.5h1M68 93.5h1M70 93.5h1M72 93.5h2M75 93.5h2M4 94.5h1M8 94.5h2M41 94.5h1M68 94.5h2M73 94.5h1M75 94.5h3M5 95.5h1M8 95.5h1M10 95.5h1M41 95.5h1M70 95.5h2M74 95.5h1M77 95.5h1M6 96.5h2M43 96.5h1M68 96.5h2M71 96.5h1M76 96.5h2M14 97.5h1M48 97.5h1M60 97.5h1M78 97.5h1M82 97.5h1M89 97.5h1M12 98.5h1M81 98.5h3M90 98.5h1M43 99.5h1M53 99.5h1M79 99.5h1M82 99.5h1M84 99.5h2M87 99.5h1M92 99.5h1M61 100.5h1M78 100.5h1M86 100.5h1M88 100.5h1M102 100.5h1M92 102.5h1M100 102.5h1"/>
<path stroke="#fbd0b9" d="M35 0.5h1M41 0.5h2M44 0.5h1M46 0.5h1M49 0.5h1M55 0.5h1M37 1.5h3M41 1.5h1M44 1.5h2M48 1.5h2M52 1.5h2M55 1.5h1M34 2.5h1M36 2.5h1M38 2.5h1M41 2.5h1M46 2.5h2M54 2.5h1M57 2.5h4M35 3.5h1M42 3.5h2M50 3.5h2M21 4.5h1M23 4.5h1M25 4.5h1M43 4.5h1M56 4.5h5M95 4.5h2M21 5.5h1M27 5.5h2M44 5.5h2M52 5.5h2M60 5.5h1M94 5.5h1M96 5.5h1M21 6.5h1M24 6.5h3M28 6.5h1M32 6.5h1M41 6.5h1M46 6.5h1M48 6.5h1M51 6.5h1M56 6.5h1M94 6.5h1M32 7.5h1M43 7.5h2M46 7.5h1M48 7.5h1M57 7.5h1M59 7.5h2M93 7.5h2M24 8.5h1M26 8.5h1M29 8.5h1M31 8.5h2M41 8.5h1M44 8.5h1M50 8.5h1M53 8.5h1M56 8.5h3M93 8.5h1M23 9.5h1M25 9.5h1M43 9.5h1M51 9.5h2M54 9.5h1M56 9.5h1M58 9.5h1M93 9.5h1M95 9.5h1M20 10.5h1M24 10.5h2M28 10.5h2M35 10.5h1M42 10.5h1M45 10.5h3M49 10.5h1M53 10.5h1M55 10.5h3M59 10.5h1M93 10.5h1M41 11.5h1M43 11.5h1M49 11.5h1M51 11.5h3M56 11.5h1M98 11.5h1M43 12.5h1M47 12.5h2M51 12.5h1M43 13.5h1M47 13.5h1M58 13.5h3M98 13.5h1M41 14.5h1M48 14.5h1M51 14.5h1M54 14.5h3M60 14.5h1M98 14.5h1M33 15.5h1M49 15.5h1M57 15.5h2M33 16.5h2M51 16.5h1M59 16.5h1M33 17.5h1M36 17.5h1M57 17.5h1M59 17.5h2M34 18.5h1M58 18.5h1M60 18.5h1M33 19.5h1M35 19.5h1M52 19.5h1M60 19.5h1M10 20.5h1M38 20.5h2M44 20.5h1M56 20.5h2M59 20.5h1M4 21.5h3M42 21.5h1M51 21.5h1M53 21.5h1M58 21.5h1M43 22.5h1M60 22.5h1M4 23.5h1M9 23.5h1M41 23.5h2M51 23.5h1M57 23.5h2M60 23.5h1M6 24.5h1M8 24.5h1M10 24.5h1M41 24.5h1M56 24.5h1M4 25.5h1M6 25.5h1M9 25.5h2M52 25.5h3M56 25.5h1M60 25.5h1M6 26.5h1M8 26.5h1M41 26.5h1M51 26.5h1M54 26.5h1M58 26.5h1M5 27.5h1M39 27.5h1M41 27.5h1M5 28.5h2M10 28.5h1M49 28.5h1M51 28.5h1M8 29.5h1M10 29.5h1M40 29.5h1M49 29.5h1M53 29.5h1M40 30.5h1M48 30.5h1M8 31.5h1M39 31.5h1M44 31.5h1M57 31.5h2M6 32.5h3M41 32.5h1M47 32.5h1M58 32.5h3M15 33.5h3M19 33.5h1M52 33.5h1M2 34.5h1M16 34.5h1M18 34.5h1M0 35.5h1M3 35.5h1M10 35.5h1M19 35.5h1M2 36.5h1M17 36.5h1M47 36.5h1M49 36.5h1M84 36.5h2M87 36.5h2M1 37.5h1M45 37.5h2M55 37.5h1M1 38.5h2M20 38.5h1M46 38.5h1M56 38.5h1M1 39.5h1M20 39.5h1M27 39.5h1M31 39.5h1M52 39.5h2M55 39.5h2M90 39.5h1M29 40.5h2M50 40.5h1M0 41.5h3M6 41.5h1M8 41.5h1M11 41.5h1M14 41.5h1M23 41.5h2M26 41.5h2M32 41.5h1M48 41.5h1M54 41.5h1M0 42.5h1M3 42.5h1M10 42.5h1M21 42.5h1M23 42.5h1M46 42.5h1M48 42.5h2M51 42.5h2M55 42.5h1M58 42.5h1M94 42.5h1M3 43.5h2M7 43.5h1M9 43.5h1M11 43.5h3M22 43.5h1M45 43.5h1M50 43.5h1M66 43.5h2M0 44.5h2M5 44.5h1M7 44.5h2M20 44.5h1M31 44.5h1M66 44.5h1M82 44.5h1M1 45.5h1M5 45.5h1M10 45.5h1M37 45.5h1M43 45.5h1M49 45.5h1M0 46.5h1M2 46.5h1M6 46.5h2M10 46.5h1M37 46.5h2M42 46.5h1M50 46.5h1M54 46.5h1M2 47.5h1M10 47.5h1M12 47.5h2M32 47.5h1M36 47.5h1M49 47.5h2M59 47.5h1M1 48.5h1M6 48.5h2M12 48.5h1M14 48.5h1M30 48.5h1M41 48.5h2M51 48.5h1M53 48.5h1M56 48.5h1M0 49.5h2M10 49.5h2M15 49.5h1M28 49.5h2M36 49.5h1M42 49.5h1M45 49.5h1M47 49.5h1M3 50.5h1M8 50.5h1M40 50.5h1M43 50.5h1M46 50.5h2M54 50.5h1M56 50.5h1M59 50.5h2M3 51.5h1M6 51.5h1M9 51.5h1M11 51.5h2M14 51.5h1M16 51.5h1M21 51.5h1M23 51.5h1M26 51.5h1M28 51.5h1M42 51.5h1M48 51.5h1M54 51.5h1M56 51.5h1M1 52.5h1M5 52.5h1M9 52.5h1M11 52.5h1M19 52.5h1M25 52.5h1M33 52.5h1M39 52.5h1M42 52.5h1M58 52.5h1M1 53.5h1M5 53.5h1M8 53.5h1M10 53.5h2M21 53.5h1M25 53.5h1M29 53.5h1M39 53.5h1M48 53.5h1M55 53.5h2M2 54.5h1M9 54.5h1M14 54.5h1M25 54.5h2M41 54.5h1M46 54.5h1M50 54.5h2M60 54.5h1M0 55.5h2M10 55.5h1M14 55.5h1M37 55.5h1M39 55.5h1M42 55.5h1M53 55.5h1M59 55.5h2M4 56.5h1M6 56.5h1M8 56.5h4M14 56.5h1M20 56.5h1M24 56.5h2M38 56.5h2M48 56.5h1M50 56.5h2M53 56.5h1M2 57.5h1M4 57.5h1M7 57.5h2M10 57.5h1M15 57.5h1M17 57.5h1M20 57.5h1M23 57.5h1M31 57.5h1M2 58.5h1M4 58.5h1M8 58.5h2M13 58.5h1M15 58.5h1M18 58.5h1M21 58.5h1M23 58.5h1M26 58.5h1M31 58.5h2M42 58.5h1M52 58.5h1M2 59.5h1M4 59.5h1M7 59.5h1M10 59.5h1M13 59.5h1M16 59.5h2M20 59.5h1M32 59.5h1M47 59.5h1M50 59.5h1M55 59.5h1M2 60.5h1M4 60.5h2M7 60.5h1M13 60.5h2M17 60.5h3M22 60.5h2M25 60.5h1M32 60.5h1M50 60.5h1M54 60.5h2M88 61.5h1M90 61.5h1M92 61.5h1M92 62.5h1M99 62.5h1M43 66.5h2M43 67.5h1M93 69.5h1M94 71.5h1M96 73.5h1M94 74.5h1M96 74.5h1M95 76.5h1M93 77.5h1M100 80.5h1M95 81.5h1M97 81.5h1M44 82.5h1M100 82.5h1M99 83.5h1M36 84.5h1M100 84.5h1M36 85.5h1M100 85.5h1M36 87.5h1M36 88.5h1M61 88.5h1M98 89.5h1M39 90.5h1M61 90.5h1M97 90.5h1M97 91.5h1M61 92.5h2M97 92.5h2M7 93.5h4M69 93.5h1M77 93.5h1M5 94.5h3M42 94.5h1M71 94.5h1M74 94.5h1M4 95.5h1M9 95.5h1M76 95.5h1M81 95.5h1M4 96.5h2M73 96.5h2M81 97.5h1M90 97.5h3M11 98.5h1M13 98.5h2M89 98.5h1M92 98.5h1M62 99.5h1M83 99.5h1M102 99.5h1M80 100.5h1M82 100.5h1M84 100.5h2M99 102.5h1"/>
<path stroke="#f8bb9e" d="M37 0.5h2M40 0.5h1M45 0.5h1M47 0.5h1M52 0.5h1M54 0.5h1M56 0.5h1M42 1.5h1M50 1.5h1M35 2.5h1M37 2.5h1M40 2.5h1M42 2.5h2M45 2.5h1M49 2.5h2M56 2.5h1M39 3.5h2M53 3.5h1M55 3.5h1M22 4.5h1M31 4.5h1M47 4.5h1M54 4.5h1M93 4.5h1M20 5.5h1M22 5.5h1M24 5.5h2M35 5.5h1M41 5.5h1M49 5.5h1M51 5.5h1M54 5.5h3M93 5.5h1M22 6.5h1M27 6.5h1M34 6.5h2M45 6.5h1M52 6.5h1M55 6.5h1M21 7.5h1M23 7.5h2M26 7.5h4M31 7.5h1M34 7.5h1M41 7.5h1M51 7.5h1M53 7.5h1M22 8.5h1M27 8.5h1M30 8.5h1M33 8.5h2M45 8.5h2M48 8.5h2M51 8.5h1M54 8.5h1M26 9.5h1M28 9.5h1M30 9.5h1M45 9.5h1M49 9.5h1M60 9.5h1M27 10.5h1M30 10.5h5M50 10.5h2M54 10.5h1M21 11.5h1M23 11.5h2M26 11.5h1M45 11.5h1M21 12.5h1M34 12.5h1M41 12.5h1M56 12.5h1M97 12.5h1M49 13.5h1M53 13.5h2M28 14.5h1M34 14.5h1M46 14.5h1M52 14.5h1M34 15.5h1M36 15.5h1M42 15.5h1M52 15.5h1M54 15.5h1M56 15.5h1M36 16.5h1M41 16.5h1M52 16.5h2M35 17.5h1M35 18.5h2M49 18.5h1M51 18.5h2M56 18.5h1M36 19.5h1M41 19.5h1M49 19.5h1M53 19.5h5M5 20.5h1M42 20.5h1M7 21.5h1M11 21.5h2M49 21.5h1M54 21.5h2M4 22.5h3M8 22.5h1M40 22.5h3M47 22.5h1M49 22.5h1M51 22.5h1M59 22.5h1M7 23.5h1M11 23.5h1M49 23.5h2M52 23.5h1M55 23.5h1M5 24.5h1M7 24.5h1M11 24.5h1M42 24.5h1M49 24.5h1M52 24.5h4M5 25.5h1M55 25.5h1M7 26.5h1M9 26.5h1M11 26.5h1M42 26.5h1M49 26.5h2M53 26.5h1M6 27.5h3M10 27.5h1M42 27.5h1M51 27.5h1M56 27.5h1M7 28.5h1M9 28.5h1M14 28.5h1M42 28.5h1M52 28.5h1M54 28.5h2M7 29.5h1M41 29.5h2M48 29.5h1M51 29.5h2M55 29.5h2M59 29.5h2M8 30.5h3M41 30.5h1M54 30.5h1M4 31.5h1M7 31.5h1M10 31.5h1M49 31.5h1M52 31.5h1M55 31.5h2M10 32.5h1M49 32.5h1M51 32.5h2M56 32.5h1M8 33.5h1M10 33.5h1M53 33.5h1M6 34.5h3M10 34.5h1M12 34.5h1M14 34.5h2M2 35.5h1M5 35.5h2M17 35.5h2M41 35.5h2M15 36.5h2M18 36.5h2M41 36.5h2M0 37.5h1M2 37.5h1M0 38.5h1M55 38.5h1M94 38.5h1M3 39.5h1M57 39.5h1M0 40.5h1M2 40.5h2M22 40.5h1M5 41.5h1M7 41.5h1M12 41.5h1M16 41.5h1M19 41.5h1M22 41.5h1M29 41.5h2M35 41.5h2M96 41.5h1M1 42.5h2M15 42.5h1M20 42.5h1M22 42.5h1M24 42.5h1M26 42.5h4M35 42.5h2M50 42.5h1M54 42.5h1M95 42.5h2M2 43.5h1M87 44.5h1M0 45.5h1M2 45.5h1M6 45.5h1M8 45.5h2M11 45.5h1M54 45.5h1M8 46.5h1M14 46.5h1M49 46.5h1M53 46.5h1M0 47.5h1M4 47.5h1M22 47.5h1M8 48.5h1M29 48.5h1M49 48.5h2M52 48.5h1M2 49.5h1M5 49.5h1M8 49.5h2M13 49.5h1M18 49.5h2M21 49.5h4M26 49.5h1M31 49.5h2M46 49.5h1M48 49.5h1M1 50.5h2M10 50.5h1M23 50.5h1M26 50.5h1M42 50.5h1M48 50.5h1M5 51.5h1M7 51.5h2M10 51.5h1M18 51.5h1M22 51.5h1M27 51.5h1M29 51.5h1M32 51.5h1M0 52.5h1M6 52.5h1M14 52.5h3M18 52.5h1M23 52.5h2M28 52.5h2M31 52.5h2M48 52.5h1M54 52.5h2M3 53.5h1M7 53.5h1M13 53.5h1M16 53.5h1M19 53.5h1M24 53.5h1M26 53.5h1M33 53.5h1M46 53.5h1M0 54.5h1M4 54.5h2M8 54.5h1M10 54.5h1M13 54.5h1M15 54.5h1M19 54.5h1M21 54.5h1M24 54.5h1M28 54.5h1M30 54.5h1M42 54.5h1M45 54.5h1M52 54.5h1M55 54.5h1M3 55.5h1M5 55.5h2M19 55.5h1M21 55.5h1M23 55.5h3M28 55.5h2M31 55.5h1M38 55.5h1M52 55.5h1M54 55.5h1M56 55.5h1M0 56.5h1M2 56.5h1M5 56.5h1M12 56.5h1M15 56.5h1M18 56.5h2M27 56.5h1M29 56.5h1M31 56.5h2M55 56.5h1M60 56.5h1M19 57.5h1M39 57.5h1M59 58.5h1M22 59.5h1M29 59.5h1M58 59.5h1M9 60.5h1M29 60.5h1M56 60.5h1M80 61.5h1M78 62.5h1M100 62.5h1M93 71.5h1M99 75.5h2M62 78.5h1M100 79.5h1M61 80.5h1M95 82.5h1M94 84.5h1M44 87.5h1M100 87.5h1M96 88.5h1M94 89.5h3M93 90.5h1M95 91.5h1M4 93.5h2M71 93.5h1M90 93.5h1M38 94.5h1M84 94.5h1M89 94.5h1M42 95.5h1M82 95.5h1M89 95.5h1M91 95.5h1M41 96.5h2M88 96.5h2M12 97.5h1M75 99.5h1M62 100.5h1M75 100.5h1M79 100.5h1M87 100.5h1M102 101.5h1M101 102.5h1"/>
<path stroke="#f4a582" d="M39 0.5h1M50 0.5h1M53 0.5h1M39 2.5h1M52 2.5h2M55 2.5h1M38 3.5h1M26 4.5h1M29 4.5h2M33 4.5h1M41 4.5h2M46 4.5h1M51 4.5h1M55 4.5h1M29 5.5h3M46 5.5h1M20 6.5h1M30 6.5h2M42 6.5h1M49 6.5h1M53 6.5h1M20 7.5h1M22 7.5h1M45 7.5h1M49 7.5h1M56 7.5h1M20 8.5h1M35 8.5h1M42 8.5h1M55 8.5h1M20 9.5h1M24 9.5h1M29 9.5h1M31 9.5h1M34 9.5h1M41 9.5h2M46 9.5h1M53 9.5h1M14 10.5h1M22 10.5h1M36 10.5h1M25 11.5h1M28 11.5h1M30 11.5h1M33 11.5h2M38 11.5h1M40 11.5h1M42 11.5h1M46 11.5h1M50 11.5h1M23 12.5h2M33 12.5h1M46 12.5h1M52 12.5h2M23 13.5h1M41 13.5h1M46 13.5h1M51 13.5h2M56 13.5h1M10 14.5h1M21 14.5h1M25 14.5h2M30 14.5h1M32 14.5h2M35 14.5h2M38 14.5h1M42 14.5h1M45 14.5h1M50 14.5h1M53 14.5h1M37 15.5h2M40 15.5h2M50 15.5h1M53 15.5h1M55 15.5h1M37 16.5h1M49 16.5h1M55 16.5h2M34 17.5h1M40 17.5h1M49 17.5h1M51 17.5h1M41 18.5h2M54 18.5h1M37 19.5h4M42 19.5h1M50 19.5h2M6 20.5h4M51 20.5h1M53 20.5h2M14 21.5h1M7 22.5h1M10 22.5h1M53 22.5h2M12 23.5h2M53 23.5h1M56 23.5h1M9 24.5h1M12 24.5h1M50 24.5h1M11 25.5h1M14 25.5h1M4 26.5h1M14 26.5h1M55 26.5h2M49 27.5h1M53 27.5h3M11 28.5h1M53 28.5h1M56 28.5h1M4 29.5h2M9 29.5h1M54 29.5h1M4 30.5h3M11 30.5h1M14 30.5h1M42 30.5h1M49 30.5h4M56 30.5h1M5 31.5h2M9 31.5h1M50 31.5h1M53 31.5h1M14 32.5h1M42 32.5h1M53 32.5h3M4 33.5h1M11 33.5h2M14 33.5h1M38 33.5h1M40 33.5h1M42 33.5h1M9 34.5h1M11 34.5h1M17 34.5h1M40 34.5h1M8 35.5h1M14 35.5h1M10 36.5h1M14 36.5h1M15 37.5h2M19 37.5h1M3 38.5h1M11 38.5h1M14 38.5h2M19 38.5h1M33 38.5h1M41 38.5h1M0 39.5h1M2 39.5h1M19 39.5h1M41 39.5h1M11 40.5h1M15 40.5h1M17 40.5h1M19 40.5h1M33 40.5h2M41 40.5h1M4 41.5h1M9 41.5h1M13 41.5h1M15 41.5h1M18 41.5h1M38 41.5h3M97 41.5h2M4 42.5h1M6 42.5h1M8 42.5h2M11 42.5h1M14 42.5h1M18 42.5h2M30 42.5h1M32 42.5h2M93 42.5h1M97 42.5h1M44 43.5h1M43 44.5h1M7 45.5h1M14 45.5h1M4 46.5h2M9 46.5h1M11 46.5h3M48 47.5h1M47 48.5h1M6 49.5h2M16 49.5h2M27 49.5h1M30 49.5h1M0 50.5h1M11 50.5h1M14 50.5h2M19 50.5h1M24 50.5h1M30 50.5h2M4 51.5h1M13 51.5h1M17 51.5h1M19 51.5h2M30 51.5h1M2 52.5h1M12 52.5h2M30 52.5h1M0 53.5h1M2 53.5h1M6 53.5h1M9 53.5h1M12 53.5h1M14 53.5h2M20 53.5h1M22 53.5h2M27 53.5h2M31 53.5h2M18 54.5h1M20 54.5h1M22 54.5h1M27 54.5h1M29 54.5h1M32 54.5h1M2 55.5h1M4 55.5h1M8 55.5h1M15 55.5h2M26 55.5h2M32 55.5h1M7 56.5h1M13 56.5h1M16 56.5h1M23 56.5h1M26 56.5h1M28 56.5h1M30 56.5h1M58 57.5h3M57 58.5h1M60 58.5h1M57 59.5h1M60 59.5h1M57 60.5h3M78 61.5h1M87 61.5h1M84 62.5h3M88 62.5h1M100 63.5h1M84 65.5h1M89 65.5h2M99 68.5h2M100 69.5h1M91 70.5h1M100 76.5h1M61 78.5h1M89 78.5h2M93 78.5h2M89 79.5h1M89 80.5h1M94 80.5h3M96 81.5h1M89 82.5h1M93 82.5h2M62 84.5h1M65 84.5h1M95 84.5h1M62 85.5h1M94 85.5h1M62 86.5h1M94 86.5h2M61 87.5h1M62 88.5h1M94 88.5h1M65 89.5h1M78 89.5h3M82 89.5h1M65 90.5h1M78 90.5h1M94 90.5h3M70 91.5h1M94 91.5h1M98 91.5h1M94 92.5h2M42 93.5h1M78 93.5h1M82 93.5h1M78 94.5h1M80 94.5h1M82 94.5h1M85 94.5h2M88 94.5h1M90 94.5h3M80 95.5h1M84 95.5h1M86 95.5h1M90 95.5h1M92 95.5h1M80 96.5h2M90 96.5h1M41 97.5h2M41 98.5h1M91 98.5h1M68 99.5h1M63 100.5h1M68 100.5h2M76 100.5h1"/>
<path stroke="#c4dfec" d="M61 0.5h2M88 0.5h1M99 0.5h1M101 0.5h1M61 1.5h1M86 1.5h1M88 1.5h1M92 1.5h2M61 2.5h2M89 2.5h4M101 2.5h2M61 3.5h2M84 3.5h1M86 3.5h1M89 3.5h2M102 3.5h1M92 4.5h1M87 5.5h1M91 5.5h1M102 5.5h1M62 6.5h1M84 6.5h3M91 7.5h1M101 7.5h1M61 8.5h1M91 8.5h1M100 8.5h1M101 9.5h1M61 10.5h1M92 10.5h1M102 10.5h1M61 11.5h1M99 12.5h1M102 13.5h1M88 14.5h1M90 14.5h1M92 14.5h1M102 14.5h1M93 15.5h2M96 16.5h1M99 16.5h1M101 16.5h1M93 17.5h1M99 18.5h2M102 18.5h1M95 19.5h1M99 19.5h1M101 19.5h1M101 20.5h2M61 21.5h1M97 21.5h1M33 22.5h2M100 22.5h2M61 23.5h1M98 23.5h1M97 24.5h2M101 24.5h1M96 25.5h2M102 25.5h1M94 26.5h1M96 26.5h2M101 26.5h1M94 27.5h1M101 27.5h2M36 28.5h1M61 28.5h1M97 28.5h2M102 28.5h1M95 29.5h1M101 29.5h1M33 30.5h1M98 30.5h1M97 31.5h1M102 31.5h1M102 32.5h1M22 33.5h1M30 33.5h1M61 33.5h3M66 33.5h1M68 33.5h1M71 33.5h1M73 33.5h2M76 33.5h1M100 33.5h1M102 33.5h1M22 34.5h1M65 34.5h1M71 34.5h1M100 34.5h3M43 35.5h1M63 35.5h1M68 35.5h2M72 35.5h1M77 35.5h1M28 36.5h1M44 36.5h1M69 36.5h1M71 36.5h1M73 36.5h2M101 36.5h1M83 37.5h1M101 37.5h1M43 38.5h1M78 38.5h3M82 38.5h2M102 38.5h1M80 39.5h1M83 39.5h1M85 39.5h1M88 39.5h1M43 40.5h1M79 40.5h1M81 40.5h1M44 41.5h1M79 41.5h1M81 41.5h1M83 41.5h1M99 41.5h1M78 42.5h1M81 42.5h1M35 43.5h1M38 43.5h1M40 43.5h1M36 44.5h1M41 44.5h1M89 45.5h3M95 45.5h1M98 45.5h1M90 46.5h3M96 46.5h1M63 47.5h5M70 47.5h2M77 47.5h2M81 47.5h1M88 47.5h1M65 48.5h1M71 48.5h2M74 48.5h2M78 48.5h1M80 48.5h1M82 48.5h2M86 48.5h1M89 48.5h1M101 48.5h1M61 49.5h1M64 49.5h1M85 49.5h2M88 49.5h2M91 49.5h1M100 49.5h1M84 50.5h3M88 50.5h1M90 50.5h3M101 50.5h1M62 51.5h2M65 51.5h1M70 51.5h1M78 51.5h1M81 51.5h1M84 51.5h1M86 51.5h1M82 52.5h1M86 52.5h1M61 53.5h2M84 53.5h2M92 53.5h1M101 53.5h1M86 54.5h1M84 55.5h2M88 55.5h1M90 55.5h1M61 56.5h2M86 56.5h1M95 56.5h1M71 57.5h1M100 57.5h1M71 58.5h1M83 58.5h1M70 59.5h1M74 60.5h2M83 60.5h1M100 60.5h1M0 61.5h4M8 61.5h1M10 61.5h2M21 61.5h1M23 61.5h1M28 61.5h1M33 61.5h1M49 61.5h1M53 61.5h1M56 61.5h1M95 61.5h2M0 62.5h1M2 62.5h2M6 62.5h1M33 62.5h1M51 62.5h1M53 62.5h1M56 62.5h1M93 62.5h2M96 62.5h1M101 62.5h1M33 63.5h1M35 63.5h1M47 63.5h1M51 63.5h1M96 63.5h1M47 64.5h1M49 64.5h1M93 64.5h1M95 64.5h1M34 65.5h1M47 65.5h2M51 65.5h1M95 65.5h1M33 66.5h1M47 66.5h1M93 66.5h1M96 66.5h1M102 66.5h1M47 67.5h1M93 67.5h2M96 67.5h1M33 68.5h1M35 68.5h1M35 69.5h2M47 70.5h1M51 70.5h1M59 70.5h1M97 70.5h1M33 71.5h2M36 71.5h1M47 71.5h2M57 71.5h2M35 72.5h1M48 72.5h1M33 73.5h1M36 73.5h1M33 74.5h1M36 74.5h1M48 74.5h1M60 74.5h1M48 75.5h1M60 75.5h1M33 76.5h1M35 77.5h1M47 77.5h1M38 78.5h1M42 78.5h1M47 78.5h2M51 78.5h1M38 79.5h1M40 79.5h2M38 80.5h2M48 80.5h1M40 81.5h3M47 81.5h1M51 81.5h1M38 82.5h1M48 82.5h1M52 82.5h1M37 83.5h3M41 83.5h1M48 83.5h1M58 83.5h1M60 83.5h1M3 84.5h1M6 84.5h1M50 84.5h2M53 84.5h1M55 84.5h1M6 85.5h1M39 85.5h1M49 85.5h2M53 85.5h1M55 85.5h1M1 86.5h1M3 86.5h1M6 86.5h1M48 86.5h5M54 86.5h1M56 86.5h1M5 87.5h1M0 88.5h2M14 88.5h1M39 88.5h1M47 88.5h1M49 88.5h2M55 88.5h1M2 89.5h2M45 89.5h1M48 89.5h2M2 90.5h2M14 90.5h1M45 90.5h2M50 90.5h1M55 90.5h1M2 91.5h1M5 91.5h1M7 91.5h2M45 91.5h2M49 91.5h2M1 92.5h2M4 92.5h1M10 92.5h1M14 92.5h1M46 92.5h1M50 92.5h1M53 92.5h1M1 93.5h1M15 93.5h1M17 93.5h1M62 93.5h1M64 93.5h1M66 93.5h2M102 93.5h1M15 94.5h1M26 94.5h2M62 94.5h1M67 94.5h1M100 94.5h1M19 95.5h1M29 95.5h1M45 95.5h1M56 95.5h1M61 95.5h1M64 95.5h2M16 96.5h1M25 96.5h2M46 96.5h1M61 96.5h3M66 96.5h2M21 97.5h1M24 97.5h3M28 97.5h1M31 97.5h1M70 97.5h1M23 98.5h2M28 98.5h1M30 98.5h1M45 98.5h1M0 99.5h1M12 99.5h1M16 99.5h1M18 99.5h2M41 99.5h1M8 100.5h1M18 100.5h1M22 100.5h1M33 100.5h2M49 100.5h1M57 100.5h1M60 100.5h1M94 100.5h1M0 101.5h1M2 101.5h1M7 101.5h1M9 101.5h1M16 101.5h1M19 101.5h2M22 101.5h1M24 101.5h1M26 101.5h2M29 101.5h1M34 101.5h1M36 101.5h2M48 101.5h1M50 101.5h1M53 101.5h1M62 101.5h1M2 102.5h2M5 102.5h1M10 102.5h1M13 102.5h2M18 102.5h1M20 102.5h1M25 102.5h1M27 102.5h2M31 102.5h4M38 102.5h1M66 102.5h1M93 102.5h1"/>
<path stroke="#589dca" d="M63 0.5h1M65 0.5h2M68 0.5h1M70 0.5h1M78 0.5h1M67 1.5h1M82 1.5h1M65 2.5h2M78 2.5h1M66 3.5h2M69 3.5h1M76 3.5h1M65 4.5h1M82 4.5h1M99 4.5h1M65 5.5h1M67 6.5h1M82 6.5h1M63 7.5h1M100 7.5h1M64 8.5h1M66 8.5h1M75 8.5h1M78 8.5h1M63 9.5h1M70 10.5h1M65 11.5h3M70 11.5h1M81 11.5h1M87 11.5h1M86 12.5h1M92 12.5h1M61 13.5h2M84 13.5h1M88 13.5h1M91 13.5h1M85 14.5h1M87 14.5h1M64 15.5h1M81 15.5h1M84 15.5h1M90 15.5h1M89 16.5h2M62 17.5h1M89 17.5h1M89 18.5h2M65 19.5h1M91 19.5h1M93 20.5h1M63 21.5h2M70 21.5h1M84 21.5h2M93 22.5h1M91 23.5h1M81 24.5h1M64 25.5h1M63 26.5h1M84 26.5h1M89 26.5h1M95 27.5h1M64 28.5h2M78 28.5h1M82 28.5h1M89 29.5h1M91 29.5h1M90 30.5h1M93 30.5h1M81 31.5h1M67 36.5h1M70 37.5h1M62 38.5h1M70 38.5h1M75 38.5h1M61 41.5h2M62 42.5h1M63 45.5h2M72 45.5h1M75 45.5h2M66 46.5h1M76 46.5h2M67 50.5h1M71 50.5h1M74 50.5h1M77 51.5h1M66 53.5h2M69 53.5h1M72 53.5h1M74 53.5h1M79 53.5h1M64 54.5h1M68 54.5h1M71 54.5h1M77 54.5h1M79 54.5h1M65 55.5h1M71 55.5h1M76 55.5h2M79 55.5h2M83 55.5h1M66 56.5h1M73 56.5h2M13 61.5h1M41 61.5h1M13 62.5h1M17 62.5h1M38 62.5h1M41 62.5h2M98 62.5h1M0 63.5h1M7 63.5h1M9 63.5h1M21 63.5h1M26 63.5h1M45 63.5h1M8 64.5h1M15 64.5h1M21 64.5h1M25 64.5h1M28 64.5h1M45 64.5h1M54 64.5h1M98 64.5h1M0 65.5h1M2 65.5h1M4 65.5h2M11 65.5h1M19 65.5h1M28 65.5h1M55 65.5h1M97 65.5h2M0 66.5h1M2 66.5h2M8 66.5h1M11 66.5h1M46 66.5h1M53 66.5h1M56 66.5h1M1 67.5h1M3 67.5h1M6 67.5h1M11 67.5h1M36 67.5h1M50 67.5h1M53 67.5h1M0 68.5h1M54 68.5h1M3 69.5h1M53 69.5h1M97 69.5h1M0 70.5h1M10 70.5h2M21 70.5h1M37 70.5h2M50 71.5h1M54 71.5h2M97 71.5h1M45 72.5h1M53 72.5h1M56 73.5h1M97 73.5h1M50 74.5h1M53 74.5h1M56 74.5h1M98 74.5h1M8 75.5h1M38 75.5h1M45 75.5h1M3 76.5h1M45 76.5h2M55 76.5h1M46 77.5h1M51 77.5h1M54 77.5h2M98 77.5h1M0 78.5h1M2 78.5h1M8 78.5h1M28 78.5h1M53 79.5h3M55 80.5h1M11 81.5h1M15 81.5h1M24 81.5h1M31 81.5h1M1 82.5h1M4 82.5h1M6 82.5h1M28 82.5h1M55 83.5h1M13 84.5h1M15 84.5h1M21 84.5h1M26 84.5h1M14 85.5h1M21 85.5h1M12 86.5h1M11 87.5h1M14 87.5h1M13 88.5h1M16 89.5h3M26 89.5h1M29 89.5h1M15 90.5h2M18 90.5h1M30 90.5h1M13 91.5h1M19 91.5h1M23 91.5h1M29 91.5h1M12 92.5h1M20 93.5h1M22 93.5h1M30 93.5h1M27 95.5h1M65 97.5h1M69 97.5h1M71 97.5h1M73 97.5h1M62 98.5h1M64 98.5h2M74 98.5h1M77 98.5h1M4 99.5h1M7 100.5h1"/>
<path stroke="#75b1d4" d="M64 0.5h1M67 0.5h1M63 1.5h2M64 2.5h1M64 3.5h2M70 3.5h1M75 3.5h1M78 3.5h1M81 3.5h1M100 4.5h1M64 6.5h1M70 6.5h1M76 6.5h1M100 6.5h1M64 7.5h1M99 7.5h1M63 8.5h1M65 8.5h1M67 8.5h1M62 9.5h1M100 9.5h1M63 10.5h1M65 10.5h2M78 10.5h1M82 10.5h1M92 11.5h1M84 12.5h1M88 12.5h1M91 12.5h1M90 13.5h1M86 14.5h1M91 15.5h2M63 18.5h1M89 19.5h1M61 20.5h1M94 20.5h1M98 20.5h1M65 21.5h1M78 21.5h1M81 21.5h2M88 21.5h1M91 21.5h2M62 22.5h1M95 22.5h1M89 23.5h1M92 23.5h1M63 24.5h1M65 24.5h1M88 24.5h3M65 25.5h1M90 25.5h1M92 25.5h1M90 26.5h1M93 26.5h1M98 26.5h1M62 27.5h1M96 27.5h1M91 28.5h1M61 29.5h2M93 29.5h1M89 30.5h1M96 30.5h1M64 31.5h1M89 31.5h1M89 32.5h1M65 33.5h1M64 34.5h1M67 34.5h1M65 35.5h2M61 36.5h3M65 36.5h2M99 36.5h1M61 38.5h1M99 39.5h1M99 40.5h1M70 41.5h1M75 41.5h3M61 42.5h1M65 45.5h1M70 45.5h1M81 45.5h1M63 46.5h1M65 46.5h1M81 46.5h2M71 49.5h2M74 49.5h1M76 49.5h1M79 49.5h1M64 50.5h1M70 50.5h1M72 50.5h1M81 50.5h1M73 51.5h1M83 51.5h1M66 52.5h1M68 52.5h2M72 52.5h1M77 52.5h1M79 52.5h1M75 53.5h4M83 53.5h1M66 54.5h2M69 54.5h1M72 54.5h1M74 54.5h3M78 55.5h1M64 56.5h1M67 56.5h3M71 56.5h1M75 56.5h1M83 56.5h1M20 61.5h1M29 61.5h1M36 61.5h1M38 61.5h1M42 61.5h1M9 62.5h1M22 62.5h1M27 62.5h1M29 62.5h1M36 62.5h1M1 63.5h1M8 63.5h1M10 63.5h1M18 63.5h1M24 63.5h1M36 63.5h1M46 63.5h1M0 64.5h4M6 64.5h2M31 64.5h1M34 64.5h1M50 64.5h1M56 64.5h1M3 65.5h1M8 65.5h1M10 65.5h1M21 65.5h1M24 65.5h2M33 65.5h1M35 65.5h2M45 65.5h2M10 66.5h1M35 66.5h2M52 66.5h1M54 66.5h1M0 67.5h1M8 67.5h1M34 67.5h1M54 67.5h1M56 67.5h1M52 68.5h1M56 68.5h1M97 68.5h1M52 69.5h1M54 69.5h1M56 69.5h1M3 70.5h1M6 70.5h1M41 70.5h1M45 70.5h1M50 70.5h1M49 71.5h1M56 71.5h1M98 71.5h1M49 72.5h2M52 72.5h1M54 72.5h1M97 72.5h1M51 73.5h1M49 74.5h1M54 74.5h1M97 74.5h1M3 75.5h1M41 75.5h1M53 75.5h2M56 75.5h1M6 76.5h1M41 76.5h1M49 76.5h1M53 76.5h2M41 77.5h1M52 77.5h2M3 78.5h1M10 78.5h1M21 78.5h1M53 78.5h1M55 78.5h1M49 79.5h1M52 79.5h1M3 81.5h1M21 81.5h1M45 81.5h2M50 81.5h1M10 82.5h1M21 82.5h1M46 82.5h1M51 83.5h1M53 83.5h1M56 83.5h1M12 84.5h1M14 86.5h1M12 88.5h1M21 88.5h1M24 88.5h1M19 89.5h1M23 89.5h2M30 89.5h3M13 90.5h1M24 90.5h3M12 91.5h1M15 91.5h1M21 91.5h1M28 91.5h1M11 92.5h1M15 92.5h1M21 92.5h1M23 92.5h1M25 92.5h1M26 93.5h1M29 93.5h1M20 94.5h1M22 95.5h1M27 96.5h1M30 96.5h1M68 97.5h1M72 97.5h1M74 97.5h1M99 97.5h2M20 98.5h1M26 98.5h1M71 98.5h1M100 98.5h1M7 99.5h1M36 99.5h1M39 99.5h2M97 99.5h1M4 100.5h1M6 100.5h1M9 100.5h1M97 100.5h2"/>
<path stroke="#2b6cb3" d="M69 0.5h1M71 0.5h4M77 0.5h1M69 1.5h1M72 1.5h3M68 2.5h2M71 2.5h7M79 2.5h1M83 2.5h1M73 3.5h1M68 4.5h2M71 4.5h11M83 4.5h1M68 5.5h2M71 5.5h4M76 5.5h6M83 5.5h1M71 6.5h1M73 6.5h2M77 6.5h1M83 6.5h1M66 7.5h4M71 7.5h7M79 7.5h1M81 7.5h3M69 8.5h1M71 8.5h1M73 8.5h2M76 8.5h2M83 8.5h1M67 9.5h3M71 9.5h4M76 9.5h2M79 9.5h1M83 9.5h1M69 10.5h1M71 10.5h3M77 10.5h1M83 10.5h1M69 11.5h1M71 11.5h1M73 11.5h2M77 11.5h1M79 11.5h1M83 11.5h1M66 12.5h4M71 12.5h7M79 12.5h1M83 12.5h1M63 13.5h21M68 14.5h1M71 14.5h4M76 14.5h2M79 14.5h1M83 14.5h1M66 15.5h4M71 15.5h7M79 15.5h1M83 15.5h1M87 15.5h2M63 16.5h1M65 16.5h16M82 16.5h7M91 16.5h1M63 17.5h26M91 17.5h2M64 18.5h1M66 18.5h16M83 18.5h1M85 18.5h4M67 19.5h11M79 19.5h2M83 19.5h1M86 19.5h3M63 20.5h26M90 20.5h3M68 21.5h1M71 21.5h4M76 21.5h2M83 21.5h1M87 21.5h1M63 22.5h26M67 23.5h3M71 23.5h5M77 23.5h1M79 23.5h2M83 23.5h2M86 23.5h2M69 24.5h1M71 24.5h4M76 24.5h2M83 24.5h1M86 24.5h2M66 25.5h1M68 25.5h2M71 25.5h7M79 25.5h2M83 25.5h1M87 25.5h1M66 26.5h9M76 26.5h2M79 26.5h1M83 26.5h1M86 26.5h3M63 27.5h1M65 27.5h23M92 27.5h1M67 28.5h3M71 28.5h7M79 28.5h1M83 28.5h1M87 28.5h1M63 29.5h19M83 29.5h5M92 29.5h1M63 30.5h18M82 30.5h6M91 30.5h1M66 31.5h4M71 31.5h7M79 31.5h2M82 31.5h2M85 31.5h3M63 32.5h1M65 32.5h5M71 32.5h7M79 32.5h9M63 37.5h7M71 37.5h1M73 37.5h2M77 37.5h1M63 38.5h5M72 38.5h3M63 39.5h7M71 39.5h7M63 40.5h5M69 40.5h1M71 40.5h4M77 40.5h1M67 41.5h1M71 41.5h1M73 41.5h1M63 42.5h5M71 42.5h4M77 42.5h1M73 45.5h1M73 46.5h2M13 63.5h1M16 63.5h2M20 63.5h1M22 63.5h1M27 63.5h1M29 63.5h2M32 63.5h1M37 63.5h4M42 63.5h1M13 64.5h1M17 64.5h2M20 64.5h1M22 64.5h1M29 64.5h2M37 64.5h4M42 64.5h1M13 65.5h1M16 65.5h2M20 65.5h1M22 65.5h1M27 65.5h1M29 65.5h2M32 65.5h1M37 65.5h4M42 65.5h1M7 66.5h1M12 66.5h2M15 66.5h4M20 66.5h1M22 66.5h1M25 66.5h3M29 66.5h4M37 66.5h4M42 66.5h1M7 67.5h1M9 67.5h1M12 67.5h2M15 67.5h6M22 67.5h2M26 67.5h7M37 67.5h6M2 68.5h1M4 68.5h2M7 68.5h1M9 68.5h1M12 68.5h12M25 68.5h8M37 68.5h1M39 68.5h1M0 69.5h3M4 69.5h2M7 69.5h7M15 69.5h6M22 69.5h11M37 69.5h1M39 69.5h2M13 70.5h1M16 70.5h5M22 70.5h1M26 70.5h2M29 70.5h2M0 71.5h1M2 71.5h1M4 71.5h29M37 71.5h1M39 71.5h4M0 72.5h3M4 72.5h2M7 72.5h1M9 72.5h2M12 72.5h21M38 72.5h3M42 72.5h1M0 73.5h33M37 73.5h6M45 73.5h2M0 74.5h3M4 74.5h6M11 74.5h22M37 74.5h4M42 74.5h1M46 74.5h1M2 75.5h1M4 75.5h1M7 75.5h1M12 75.5h2M15 75.5h6M22 75.5h2M25 75.5h1M27 75.5h6M39 75.5h1M2 76.5h1M4 76.5h2M7 76.5h3M12 76.5h11M24 76.5h9M39 76.5h1M0 77.5h1M2 77.5h1M4 77.5h29M37 77.5h1M39 77.5h2M42 77.5h1M4 78.5h2M13 78.5h1M16 78.5h3M20 78.5h1M22 78.5h1M27 78.5h1M29 78.5h2M2 79.5h1M4 79.5h2M7 79.5h1M9 79.5h1M11 79.5h10M22 79.5h2M25 79.5h8M4 80.5h2M13 80.5h1M16 80.5h5M22 80.5h2M25 80.5h1M27 80.5h1M29 80.5h4M4 81.5h2M7 81.5h1M13 81.5h1M17 81.5h2M20 81.5h1M22 81.5h1M27 81.5h1M29 81.5h1M32 81.5h1M7 82.5h1M13 82.5h1M16 82.5h2M20 82.5h1M22 82.5h1M27 82.5h1M30 82.5h3M2 83.5h1M4 83.5h29M16 84.5h2M20 84.5h1M22 84.5h2M27 84.5h1M29 84.5h2M32 84.5h1M16 85.5h3M20 85.5h1M22 85.5h1M27 85.5h1M29 85.5h4M16 86.5h5M22 86.5h3M26 86.5h2M29 86.5h4M15 87.5h18M15 88.5h6M22 88.5h1M26 88.5h1M20 90.5h1M16 91.5h2M20 91.5h1M30 91.5h1M17 92.5h1M20 92.5h1M27 92.5h1M29 92.5h1"/>
<path stroke="#448bc1" d="M75 0.5h2M79 0.5h2M66 1.5h1M68 1.5h1M70 1.5h1M75 1.5h1M81 1.5h1M83 1.5h1M63 2.5h1M67 2.5h1M70 2.5h1M80 2.5h2M77 3.5h1M79 3.5h1M83 3.5h1M64 4.5h1M63 5.5h2M66 5.5h2M70 5.5h1M69 6.5h1M72 6.5h1M78 6.5h1M81 6.5h1M72 8.5h1M79 8.5h4M64 9.5h1M70 9.5h1M82 9.5h1M64 10.5h1M75 10.5h1M79 10.5h3M63 11.5h2M68 11.5h1M78 11.5h1M80 11.5h1M82 11.5h1M63 12.5h3M81 12.5h2M85 12.5h1M85 13.5h2M92 13.5h1M63 14.5h3M67 14.5h1M70 14.5h1M78 14.5h1M80 14.5h3M70 15.5h1M78 15.5h1M82 15.5h1M91 18.5h2M78 19.5h1M82 19.5h1M84 19.5h1M92 19.5h1M62 20.5h1M89 20.5h1M79 21.5h1M90 21.5h1M89 22.5h1M91 22.5h1M63 23.5h1M65 23.5h1M78 23.5h1M81 23.5h2M64 24.5h1M66 24.5h1M70 24.5h1M78 24.5h1M80 24.5h1M84 24.5h2M91 24.5h1M63 25.5h1M67 25.5h1M70 25.5h1M78 25.5h1M81 25.5h2M84 25.5h2M88 25.5h1M91 25.5h1M64 26.5h1M78 26.5h1M81 26.5h2M85 26.5h1M91 26.5h2M89 27.5h1M63 28.5h1M80 28.5h2M84 28.5h1M92 28.5h1M90 29.5h1M92 30.5h1M91 31.5h2M64 32.5h1M91 32.5h1M61 39.5h2M70 39.5h1M70 40.5h1M75 40.5h1M64 41.5h2M68 41.5h2M72 41.5h1M74 41.5h1M70 42.5h1M75 42.5h2M68 45.5h2M71 45.5h1M77 45.5h1M79 45.5h1M67 46.5h3M79 46.5h1M68 50.5h2M73 50.5h1M75 50.5h3M83 50.5h1M71 52.5h1M74 52.5h1M68 53.5h1M71 53.5h1M73 53.5h1M73 54.5h1M83 54.5h1M64 55.5h1M66 55.5h4M72 55.5h1M74 55.5h1M77 56.5h1M39 61.5h1M20 62.5h1M39 62.5h1M97 62.5h1M2 63.5h1M5 63.5h1M11 63.5h2M14 63.5h1M23 63.5h1M25 63.5h1M28 63.5h1M98 63.5h1M4 64.5h2M9 64.5h4M14 64.5h1M24 64.5h1M26 64.5h1M32 64.5h1M41 64.5h1M55 64.5h1M97 64.5h1M12 65.5h1M14 65.5h1M23 65.5h1M41 65.5h1M1 66.5h1M5 66.5h1M24 66.5h1M55 66.5h1M97 66.5h2M2 67.5h1M5 67.5h1M14 67.5h1M25 67.5h1M46 67.5h1M55 67.5h1M98 67.5h1M1 68.5h1M11 68.5h1M41 68.5h1M45 68.5h2M50 68.5h1M53 68.5h1M55 68.5h1M6 69.5h1M41 69.5h1M45 69.5h2M50 69.5h1M55 69.5h1M1 70.5h2M5 70.5h1M9 70.5h1M14 70.5h2M24 70.5h2M39 70.5h2M42 70.5h1M45 71.5h1M52 71.5h2M6 72.5h1M8 72.5h1M41 72.5h1M55 72.5h1M50 73.5h1M53 73.5h2M41 74.5h1M52 74.5h1M55 74.5h1M0 75.5h2M10 75.5h1M40 75.5h1M42 75.5h1M50 75.5h1M0 76.5h1M42 76.5h1M50 76.5h1M3 77.5h1M45 77.5h1M50 77.5h1M56 77.5h1M6 78.5h1M11 78.5h1M14 78.5h2M19 78.5h1M23 78.5h4M0 79.5h1M3 79.5h1M8 79.5h1M10 79.5h1M21 79.5h1M45 79.5h2M0 80.5h1M2 80.5h1M8 80.5h1M10 80.5h2M14 80.5h1M24 80.5h1M28 80.5h1M1 81.5h2M6 81.5h1M8 81.5h1M10 81.5h1M12 81.5h1M14 81.5h1M23 81.5h1M25 81.5h2M28 81.5h1M8 82.5h2M11 82.5h2M14 82.5h2M19 82.5h1M23 82.5h1M25 82.5h2M1 83.5h1M3 83.5h1M50 83.5h1M54 83.5h1M19 84.5h1M24 84.5h2M28 84.5h1M12 85.5h2M24 85.5h3M13 86.5h1M25 88.5h1M20 89.5h1M22 89.5h1M27 89.5h1M21 90.5h1M29 90.5h1M18 91.5h1M22 91.5h1M24 91.5h3M31 91.5h2M13 92.5h1M18 92.5h2M26 92.5h1M28 92.5h1M30 92.5h2M62 97.5h1M64 97.5h1M66 97.5h1M63 98.5h1M66 98.5h2M99 98.5h1M98 99.5h1"/>
<path stroke="#377cba" d="M81 0.5h3M71 1.5h1M76 1.5h2M79 1.5h1M82 2.5h1M68 3.5h1M71 3.5h2M74 3.5h1M63 4.5h1M66 4.5h2M70 4.5h1M75 5.5h1M82 5.5h1M66 6.5h1M68 6.5h1M75 6.5h1M79 6.5h2M65 7.5h1M70 7.5h1M78 7.5h1M80 7.5h1M68 8.5h1M70 8.5h1M66 9.5h1M75 9.5h1M78 9.5h1M80 9.5h2M67 10.5h2M74 10.5h1M76 10.5h1M72 11.5h1M75 11.5h2M70 12.5h1M78 12.5h1M80 12.5h1M87 12.5h1M87 13.5h1M66 14.5h1M69 14.5h1M75 14.5h1M63 15.5h1M80 15.5h1M85 15.5h2M64 16.5h1M81 16.5h1M92 16.5h1M90 17.5h1M65 18.5h1M82 18.5h1M84 18.5h1M63 19.5h2M66 19.5h1M81 19.5h1M85 19.5h1M66 21.5h2M69 21.5h1M75 21.5h1M80 21.5h1M86 21.5h1M90 22.5h1M92 22.5h1M64 23.5h1M66 23.5h1M70 23.5h1M76 23.5h1M85 23.5h1M88 23.5h1M67 24.5h2M75 24.5h1M79 24.5h1M82 24.5h1M86 25.5h1M65 26.5h1M75 26.5h1M80 26.5h1M64 27.5h1M88 27.5h1M90 27.5h2M66 28.5h1M70 28.5h1M85 28.5h2M88 28.5h1M82 29.5h1M88 29.5h1M81 30.5h1M88 30.5h1M63 31.5h1M65 31.5h1M70 31.5h1M78 31.5h1M84 31.5h1M88 31.5h1M70 32.5h1M78 32.5h1M88 32.5h1M90 32.5h1M92 32.5h1M72 37.5h1M75 37.5h2M68 38.5h2M71 38.5h1M76 38.5h2M62 40.5h1M68 40.5h1M76 40.5h1M63 41.5h1M66 41.5h1M68 42.5h2M66 45.5h2M74 45.5h1M83 45.5h1M71 46.5h2M83 46.5h1M73 52.5h1M63 55.5h1M73 55.5h1M40 62.5h1M4 63.5h1M15 63.5h1M19 63.5h1M31 63.5h1M41 63.5h1M55 63.5h1M97 63.5h1M16 64.5h1M19 64.5h1M23 64.5h1M27 64.5h1M7 65.5h1M18 65.5h1M26 65.5h1M31 65.5h1M4 66.5h1M6 66.5h1M9 66.5h1M14 66.5h1M19 66.5h1M21 66.5h1M23 66.5h1M28 66.5h1M41 66.5h1M45 66.5h1M4 67.5h1M10 67.5h1M21 67.5h1M24 67.5h1M45 67.5h1M97 67.5h1M3 68.5h1M6 68.5h1M8 68.5h1M10 68.5h1M24 68.5h1M38 68.5h1M40 68.5h1M42 68.5h1M14 69.5h1M21 69.5h1M38 69.5h1M42 69.5h1M4 70.5h1M7 70.5h2M12 70.5h1M23 70.5h1M28 70.5h1M31 70.5h2M1 71.5h1M3 71.5h1M38 71.5h1M46 71.5h1M3 72.5h1M11 72.5h1M37 72.5h1M46 72.5h1M52 73.5h1M55 73.5h1M98 73.5h1M3 74.5h1M10 74.5h1M45 74.5h1M5 75.5h2M9 75.5h1M11 75.5h1M14 75.5h1M21 75.5h1M24 75.5h1M26 75.5h1M37 75.5h1M1 76.5h1M10 76.5h2M23 76.5h1M37 76.5h2M40 76.5h1M1 77.5h1M38 77.5h1M7 78.5h1M9 78.5h1M12 78.5h1M31 78.5h2M1 79.5h1M6 79.5h1M24 79.5h1M6 80.5h2M9 80.5h1M12 80.5h1M15 80.5h1M21 80.5h1M26 80.5h1M0 81.5h1M9 81.5h1M16 81.5h1M19 81.5h1M30 81.5h1M0 82.5h1M2 82.5h1M5 82.5h1M18 82.5h1M24 82.5h1M29 82.5h1M0 83.5h1M45 83.5h2M18 84.5h1M31 84.5h1M15 85.5h1M19 85.5h1M23 85.5h1M28 85.5h1M15 86.5h1M21 86.5h1M25 86.5h1M28 86.5h1M12 87.5h2M23 88.5h1M27 88.5h6M17 90.5h1M22 90.5h1M27 90.5h1M32 90.5h1M27 91.5h1M16 92.5h1M22 92.5h1M32 92.5h1M63 97.5h1M67 97.5h1M73 98.5h1"/>
<path stroke="#e8f0f4" d="M84 0.5h1M91 0.5h2M95 0.5h2M98 0.5h1M95 1.5h3M100 1.5h1M102 1.5h1M93 2.5h3M99 2.5h1M93 3.5h1M95 3.5h1M84 4.5h2M91 4.5h1M101 4.5h1M84 5.5h1M101 5.5h1M87 6.5h2M90 6.5h2M84 7.5h1M86 7.5h1M88 7.5h2M84 8.5h2M88 8.5h1M90 8.5h1M92 8.5h1M102 8.5h1M85 9.5h2M88 9.5h1M84 10.5h1M91 10.5h1M93 11.5h1M95 11.5h1M93 12.5h2M96 12.5h1M94 13.5h1M94 14.5h2M95 15.5h1M44 16.5h1M94 16.5h1M100 17.5h1M96 18.5h1M44 19.5h1M94 19.5h1M98 19.5h1M35 20.5h1M33 21.5h2M40 21.5h1M43 21.5h2M47 21.5h1M99 21.5h1M102 21.5h1M36 22.5h1M99 22.5h1M34 23.5h1M99 23.5h1M101 23.5h2M35 24.5h2M48 24.5h1M102 24.5h1M34 25.5h1M98 25.5h2M34 26.5h1M44 26.5h1M99 26.5h2M43 27.5h1M100 28.5h1M34 29.5h2M99 29.5h2M35 30.5h1M100 30.5h1M34 31.5h2M43 31.5h1M35 32.5h2M99 32.5h1M21 33.5h1M44 33.5h1M69 33.5h1M79 33.5h1M90 33.5h1M92 33.5h1M21 34.5h1M23 34.5h1M25 34.5h2M29 34.5h1M31 34.5h1M68 34.5h1M70 34.5h1M79 34.5h1M81 34.5h1M89 34.5h2M20 35.5h1M24 35.5h1M29 35.5h4M44 35.5h2M51 35.5h1M79 35.5h3M22 36.5h1M24 36.5h1M32 36.5h1M70 36.5h1M75 36.5h1M79 36.5h2M82 36.5h1M44 37.5h1M78 37.5h1M82 37.5h1M85 37.5h1M84 38.5h1M78 39.5h2M87 39.5h1M91 39.5h1M102 39.5h1M21 40.5h1M44 40.5h1M47 40.5h1M83 40.5h3M90 40.5h1M92 40.5h1M43 41.5h1M84 41.5h1M86 41.5h1M88 41.5h1M92 41.5h1M44 42.5h1M85 42.5h1M91 42.5h1M101 42.5h1M21 43.5h1M27 43.5h1M31 43.5h1M41 43.5h1M48 43.5h2M58 43.5h2M79 43.5h1M101 43.5h1M16 44.5h1M19 44.5h1M21 44.5h1M26 44.5h1M33 44.5h1M35 44.5h1M37 44.5h1M40 44.5h1M42 44.5h1M83 44.5h1M85 44.5h1M101 44.5h2M35 45.5h1M97 45.5h1M100 45.5h2M94 46.5h1M97 46.5h1M101 46.5h2M21 47.5h1M40 47.5h1M61 47.5h1M90 47.5h3M100 47.5h3M24 48.5h1M43 48.5h1M61 48.5h1M64 48.5h1M70 48.5h1M85 48.5h1M93 48.5h4M43 49.5h1M62 49.5h1M87 49.5h1M94 49.5h2M97 49.5h1M101 49.5h1M89 50.5h1M96 50.5h5M102 50.5h1M35 51.5h1M57 51.5h1M61 51.5h1M87 51.5h1M91 51.5h1M93 51.5h1M95 51.5h1M102 51.5h1M88 52.5h1M92 52.5h1M95 52.5h1M97 52.5h1M99 52.5h1M102 52.5h1M88 53.5h1M93 53.5h3M97 53.5h1M89 54.5h1M92 54.5h1M94 54.5h1M97 54.5h1M99 54.5h1M101 54.5h2M86 55.5h1M89 55.5h1M96 55.5h1M98 55.5h4M57 56.5h1M84 56.5h2M90 56.5h1M96 56.5h2M100 56.5h2M51 57.5h1M56 57.5h1M62 57.5h1M64 57.5h3M70 57.5h1M72 57.5h1M76 57.5h3M84 57.5h1M86 57.5h3M95 57.5h2M98 57.5h1M43 58.5h1M61 58.5h1M63 58.5h1M65 58.5h1M68 58.5h2M72 58.5h1M76 58.5h1M80 58.5h3M85 58.5h1M87 58.5h1M93 58.5h3M102 58.5h1M43 59.5h1M62 59.5h2M65 59.5h1M68 59.5h2M75 59.5h1M79 59.5h7M93 59.5h2M101 59.5h1M61 60.5h2M64 60.5h2M69 60.5h4M76 60.5h1M81 60.5h2M84 60.5h1M90 60.5h1M92 60.5h1M101 60.5h1M47 61.5h2M51 61.5h1M58 61.5h1M60 61.5h1M94 61.5h1M49 62.5h1M57 62.5h1M59 62.5h2M58 63.5h2M94 63.5h1M101 63.5h1M48 64.5h1M57 64.5h1M60 64.5h1M94 64.5h1M96 64.5h1M101 64.5h1M57 65.5h4M96 65.5h1M102 65.5h1M57 66.5h1M102 67.5h1M34 68.5h1M58 68.5h2M102 68.5h1M33 69.5h1M58 69.5h3M34 70.5h1M36 70.5h1M48 70.5h1M57 70.5h1M60 70.5h1M60 71.5h1M57 72.5h2M60 72.5h1M101 72.5h2M102 73.5h1M101 74.5h2M36 75.5h1M59 75.5h1M57 76.5h2M60 76.5h1M102 76.5h1M57 77.5h1M102 77.5h1M37 78.5h1M39 78.5h1M57 78.5h1M33 79.5h4M39 79.5h1M43 79.5h1M59 79.5h1M35 80.5h2M58 80.5h2M101 80.5h1M34 81.5h2M58 81.5h3M36 82.5h2M58 82.5h3M101 82.5h1M40 83.5h1M44 83.5h1M59 83.5h1M101 83.5h1M0 84.5h1M4 84.5h2M7 84.5h2M10 84.5h1M38 84.5h1M40 84.5h2M56 84.5h2M59 84.5h2M4 85.5h1M8 85.5h2M37 85.5h1M40 85.5h1M42 85.5h1M44 85.5h1M48 85.5h1M56 85.5h1M58 85.5h2M101 85.5h2M7 86.5h1M9 86.5h1M41 86.5h1M55 86.5h1M57 86.5h1M6 87.5h1M39 87.5h1M49 87.5h1M51 87.5h1M57 87.5h2M101 87.5h1M6 88.5h4M41 88.5h1M52 88.5h2M57 88.5h1M7 89.5h1M34 89.5h1M50 89.5h1M54 89.5h2M102 89.5h1M6 90.5h1M8 90.5h1M33 90.5h2M40 90.5h1M47 90.5h1M56 90.5h1M60 90.5h1M101 90.5h1M0 91.5h1M4 91.5h1M6 91.5h1M10 91.5h1M39 91.5h1M42 91.5h1M47 91.5h1M51 91.5h1M99 91.5h1M0 92.5h1M8 92.5h1M33 92.5h1M40 92.5h2M47 92.5h1M52 92.5h1M54 92.5h1M60 92.5h1M2 93.5h2M11 93.5h2M48 93.5h1M51 93.5h1M53 93.5h1M58 93.5h2M2 94.5h1M12 94.5h3M16 94.5h1M19 94.5h1M46 94.5h1M48 94.5h2M53 94.5h2M58 94.5h2M61 94.5h1M63 94.5h2M101 94.5h2M0 95.5h4M11 95.5h1M14 95.5h2M48 95.5h2M51 95.5h3M57 95.5h2M101 95.5h1M0 96.5h2M12 96.5h1M18 96.5h1M48 96.5h1M50 96.5h1M55 96.5h3M64 96.5h2M1 97.5h1M45 97.5h2M49 97.5h2M52 97.5h3M56 97.5h1M102 97.5h1M0 98.5h1M19 98.5h1M25 98.5h1M50 98.5h1M55 98.5h1M57 98.5h1M101 98.5h1M2 99.5h1M21 99.5h3M25 99.5h2M29 99.5h1M32 99.5h1M50 99.5h1M52 99.5h1M54 99.5h2M91 99.5h1M1 100.5h1M17 100.5h1M26 100.5h1M28 100.5h3M45 100.5h1M47 100.5h1M50 100.5h1M55 100.5h2M4 101.5h2M23 101.5h1M42 101.5h6M49 101.5h1M54 101.5h3M59 101.5h2M63 101.5h2M72 101.5h1M74 101.5h1M80 101.5h1M82 101.5h2M85 101.5h1M87 101.5h1M90 101.5h1M94 101.5h2M98 101.5h1M1 102.5h1M8 102.5h1M21 102.5h1M23 102.5h2M39 102.5h1M44 102.5h1M46 102.5h2M50 102.5h3M54 102.5h1M58 102.5h1M65 102.5h1M67 102.5h2M72 102.5h3M76 102.5h2M85 102.5h1M89 102.5h1M94 102.5h1M97 102.5h1"/>
<path stroke="#abd2e5" d="M85 0.5h2M62 1.5h1M65 1.5h1M85 1.5h1M87 1.5h1M84 2.5h2M100 2.5h1M85 3.5h1M88 3.5h1M89 4.5h1M62 5.5h1M89 6.5h1M102 6.5h1M61 7.5h1M99 8.5h1M61 9.5h1M99 9.5h1M86 11.5h1M88 11.5h4M61 12.5h1M89 12.5h1M100 13.5h1M62 14.5h1M84 14.5h1M99 14.5h2M61 15.5h2M101 15.5h2M95 16.5h1M102 16.5h1M101 17.5h2M61 18.5h1M93 18.5h1M61 19.5h2M93 19.5h1M95 20.5h1M97 20.5h1M95 21.5h1M98 21.5h1M61 22.5h1M94 22.5h1M62 23.5h1M96 23.5h2M62 24.5h1M93 24.5h4M93 25.5h3M61 26.5h1M97 27.5h2M93 28.5h4M98 29.5h1M61 30.5h1M102 30.5h1M94 31.5h1M96 31.5h1M61 32.5h2M98 32.5h1M64 33.5h1M75 33.5h1M99 33.5h1M61 34.5h3M66 34.5h1M99 34.5h1M61 35.5h1M64 35.5h1M83 35.5h1M99 35.5h2M68 36.5h1M76 36.5h2M79 37.5h1M99 38.5h1M82 39.5h1M80 41.5h1M83 42.5h1M99 42.5h2M61 45.5h2M80 45.5h1M84 45.5h1M86 45.5h1M88 45.5h1M93 45.5h1M96 45.5h1M61 46.5h2M64 46.5h1M86 46.5h1M88 46.5h1M93 46.5h1M69 47.5h1M72 47.5h2M75 47.5h2M63 48.5h1M77 48.5h1M79 48.5h1M84 48.5h1M87 48.5h1M70 49.5h1M78 49.5h1M80 49.5h3M61 50.5h1M63 50.5h1M78 50.5h3M82 50.5h1M87 50.5h1M64 51.5h1M66 51.5h1M69 51.5h1M75 51.5h2M79 51.5h2M62 52.5h2M70 52.5h1M75 52.5h1M80 52.5h2M87 52.5h1M80 53.5h3M89 53.5h1M102 53.5h1M61 54.5h3M70 54.5h1M80 54.5h3M91 54.5h1M61 55.5h2M93 55.5h1M70 56.5h1M78 56.5h3M82 56.5h1M87 59.5h1M99 60.5h1M7 61.5h1M9 61.5h1M12 61.5h1M15 61.5h1M18 61.5h2M22 61.5h1M26 61.5h1M30 61.5h1M32 61.5h1M34 61.5h2M45 61.5h2M50 61.5h1M54 61.5h2M98 61.5h1M1 62.5h1M5 62.5h1M14 62.5h2M19 62.5h1M23 62.5h2M32 62.5h1M34 62.5h1M45 62.5h2M52 62.5h1M54 62.5h2M34 63.5h1M48 63.5h1M50 63.5h1M52 63.5h1M54 63.5h1M33 64.5h1M35 64.5h1M46 64.5h1M51 64.5h1M1 65.5h1M93 65.5h1M34 66.5h1M51 66.5h1M36 68.5h1M47 69.5h1M51 69.5h1M49 70.5h1M52 70.5h1M54 70.5h1M56 70.5h1M47 72.5h1M47 73.5h1M33 75.5h1M47 75.5h1M51 75.5h2M36 76.5h1M47 76.5h1M51 76.5h1M97 76.5h1M36 77.5h1M48 77.5h1M49 78.5h2M56 78.5h1M37 79.5h1M48 79.5h1M50 79.5h2M56 79.5h1M41 80.5h1M45 80.5h1M49 80.5h6M56 80.5h1M49 81.5h1M52 81.5h3M39 82.5h1M49 82.5h2M53 82.5h2M56 82.5h1M35 83.5h1M42 83.5h1M2 84.5h1M14 84.5h1M45 84.5h1M48 84.5h1M0 85.5h4M0 86.5h1M11 86.5h1M45 86.5h2M1 87.5h1M48 87.5h1M50 87.5h1M52 87.5h1M59 87.5h1M3 88.5h1M11 88.5h1M45 88.5h2M4 89.5h1M6 89.5h1M11 89.5h2M53 89.5h1M11 90.5h1M11 91.5h1M54 91.5h1M18 93.5h2M24 93.5h2M28 93.5h1M45 93.5h2M55 93.5h1M65 93.5h1M22 94.5h1M24 94.5h2M28 94.5h1M31 94.5h1M16 95.5h1M20 95.5h2M24 95.5h2M28 95.5h1M23 96.5h2M28 96.5h1M31 96.5h1M45 96.5h1M20 97.5h1M23 97.5h1M27 97.5h1M76 97.5h1M21 98.5h1M27 98.5h1M29 98.5h1M32 98.5h1M61 98.5h1M8 99.5h2M14 99.5h1M33 99.5h3M38 99.5h1M42 99.5h1M60 99.5h1M2 100.5h1M13 100.5h2M35 100.5h1M42 100.5h1M15 101.5h1M17 101.5h1M6 102.5h1M15 102.5h3M30 102.5h1M53 102.5h1"/>
<path stroke="#92c5de" d="M87 0.5h1M78 1.5h1M80 1.5h1M86 2.5h3M63 3.5h1M80 3.5h1M82 3.5h1M87 3.5h1M61 4.5h2M61 5.5h1M99 5.5h2M61 6.5h1M63 6.5h1M65 6.5h1M99 6.5h1M62 7.5h1M62 8.5h1M65 9.5h1M62 10.5h1M99 10.5h2M62 11.5h1M84 11.5h2M62 12.5h1M90 12.5h1M100 12.5h1M89 13.5h1M99 13.5h1M101 13.5h1M89 14.5h1M91 14.5h1M65 15.5h1M89 15.5h1M61 16.5h2M61 17.5h1M62 18.5h1M90 19.5h1M96 20.5h1M62 21.5h1M89 21.5h1M93 21.5h1M96 21.5h1M96 22.5h3M90 23.5h1M93 23.5h1M95 23.5h1M61 24.5h1M92 24.5h1M62 25.5h1M89 25.5h1M62 26.5h1M95 26.5h1M61 27.5h1M93 27.5h1M62 28.5h1M89 28.5h2M94 29.5h1M96 29.5h2M62 30.5h1M94 30.5h2M97 30.5h1M62 31.5h1M90 31.5h1M93 31.5h1M95 31.5h1M98 31.5h1M93 32.5h1M95 32.5h3M67 33.5h1M62 35.5h1M67 35.5h1M64 36.5h1M100 36.5h1M61 37.5h2M99 37.5h2M100 38.5h1M100 39.5h1M61 40.5h1M100 40.5h1M79 42.5h2M78 45.5h1M82 45.5h1M85 45.5h1M87 45.5h1M70 46.5h1M75 46.5h1M78 46.5h1M80 46.5h1M84 46.5h2M87 46.5h1M68 47.5h1M74 47.5h1M67 48.5h1M69 48.5h1M73 48.5h1M63 49.5h1M65 49.5h5M73 49.5h1M75 49.5h1M77 49.5h1M83 49.5h1M65 50.5h2M67 51.5h2M71 51.5h2M74 51.5h1M64 52.5h2M67 52.5h1M76 52.5h1M78 52.5h1M83 52.5h1M63 53.5h3M70 53.5h1M87 53.5h1M65 54.5h1M78 54.5h1M70 55.5h1M75 55.5h1M81 55.5h2M87 55.5h1M63 56.5h1M65 56.5h1M72 56.5h1M76 56.5h1M4 61.5h3M16 61.5h2M24 61.5h1M27 61.5h1M37 61.5h1M40 61.5h1M97 61.5h1M4 62.5h1M7 62.5h2M10 62.5h3M16 62.5h1M18 62.5h1M21 62.5h1M25 62.5h2M28 62.5h1M30 62.5h2M35 62.5h1M37 62.5h1M3 63.5h1M6 63.5h1M49 63.5h1M53 63.5h1M56 63.5h1M36 64.5h1M52 64.5h2M6 65.5h1M9 65.5h1M15 65.5h1M49 65.5h2M52 65.5h3M56 65.5h1M49 66.5h2M33 67.5h1M35 67.5h1M48 67.5h2M51 67.5h2M47 68.5h1M49 68.5h1M51 68.5h1M98 68.5h1M48 69.5h2M98 69.5h1M46 70.5h1M53 70.5h1M55 70.5h1M98 70.5h1M51 71.5h1M51 72.5h1M56 72.5h1M98 72.5h1M48 73.5h2M47 74.5h1M51 74.5h1M46 75.5h1M49 75.5h1M55 75.5h1M98 75.5h1M52 76.5h1M56 76.5h1M98 76.5h1M49 77.5h1M97 77.5h1M1 78.5h1M45 78.5h2M52 78.5h1M54 78.5h1M42 79.5h1M1 80.5h1M3 80.5h1M42 80.5h1M46 80.5h1M55 81.5h1M3 82.5h1M45 82.5h1M55 82.5h1M49 83.5h1M52 83.5h1M11 84.5h1M46 84.5h1M11 85.5h1M45 85.5h2M2 86.5h1M0 87.5h1M2 87.5h2M45 87.5h2M53 87.5h1M55 87.5h1M2 88.5h1M13 89.5h3M21 89.5h1M25 89.5h1M28 89.5h1M12 90.5h1M19 90.5h1M23 90.5h1M28 90.5h1M31 90.5h1M14 91.5h1M24 92.5h1M21 93.5h1M23 93.5h1M27 93.5h1M31 93.5h2M29 94.5h2M23 95.5h1M26 95.5h1M30 95.5h3M20 96.5h3M29 96.5h1M32 96.5h1M22 97.5h1M29 97.5h2M32 97.5h1M61 97.5h1M77 97.5h1M22 98.5h1M31 98.5h1M68 98.5h3M72 98.5h1M75 98.5h2M5 99.5h2M10 99.5h1M13 99.5h1M37 99.5h1M5 100.5h1M10 100.5h1M12 100.5h1M36 100.5h5M13 101.5h1"/>
<path stroke="#d9e9f1" d="M89 0.5h2M93 0.5h2M100 0.5h1M102 0.5h1M84 1.5h1M89 1.5h3M101 1.5h1M96 2.5h1M91 3.5h2M99 3.5h1M101 3.5h1M86 4.5h3M90 4.5h1M102 4.5h1M86 5.5h1M89 5.5h2M92 5.5h1M92 6.5h1M101 6.5h1M85 7.5h1M87 7.5h1M92 7.5h1M102 7.5h1M86 8.5h2M101 8.5h1M84 9.5h1M87 9.5h1M90 9.5h3M102 9.5h1M86 10.5h3M90 10.5h1M101 10.5h1M94 11.5h1M99 11.5h4M95 12.5h1M101 12.5h2M95 13.5h1M61 14.5h1M96 14.5h1M101 14.5h1M96 15.5h1M99 15.5h2M93 16.5h1M100 16.5h1M94 17.5h3M99 17.5h1M94 18.5h2M98 18.5h1M101 18.5h1M96 19.5h1M100 19.5h1M102 19.5h1M36 20.5h1M99 20.5h2M36 21.5h1M94 21.5h1M100 21.5h2M35 22.5h1M102 22.5h1M36 23.5h1M94 23.5h1M99 24.5h1M35 25.5h1M61 25.5h1M100 25.5h2M35 26.5h2M102 26.5h1M34 27.5h1M36 27.5h1M99 27.5h2M34 28.5h2M99 28.5h1M101 28.5h1M102 29.5h1M99 30.5h1M101 30.5h1M61 31.5h1M99 31.5h1M101 31.5h1M94 32.5h1M100 32.5h2M43 33.5h1M70 33.5h1M72 33.5h1M77 33.5h1M80 33.5h3M27 34.5h2M44 34.5h1M69 34.5h1M72 34.5h6M22 35.5h1M25 35.5h2M28 35.5h1M70 35.5h2M73 35.5h4M78 35.5h1M82 35.5h1M101 35.5h1M20 36.5h2M23 36.5h1M26 36.5h2M43 36.5h1M72 36.5h1M78 36.5h1M81 36.5h1M102 36.5h1M80 37.5h1M87 37.5h1M102 37.5h1M44 38.5h1M81 38.5h1M85 38.5h1M87 38.5h1M101 38.5h1M44 39.5h1M81 39.5h1M84 39.5h1M101 39.5h1M78 40.5h1M80 40.5h1M82 40.5h1M87 40.5h1M101 40.5h2M78 41.5h1M82 41.5h1M85 41.5h1M90 41.5h1M100 41.5h1M43 42.5h1M82 42.5h1M84 42.5h1M87 42.5h1M102 42.5h1M33 43.5h1M36 43.5h1M42 43.5h1M34 44.5h1M38 44.5h2M92 45.5h1M89 46.5h1M95 46.5h1M98 46.5h1M62 47.5h1M79 47.5h2M82 47.5h3M86 47.5h2M95 47.5h2M62 48.5h1M66 48.5h1M68 48.5h1M76 48.5h1M81 48.5h1M88 48.5h1M91 48.5h2M84 49.5h1M90 49.5h1M92 49.5h2M102 49.5h1M62 50.5h1M93 50.5h3M82 51.5h1M89 51.5h2M97 51.5h1M101 51.5h1M61 52.5h1M84 52.5h2M89 52.5h3M93 52.5h2M86 53.5h1M90 53.5h1M98 53.5h1M84 54.5h2M87 54.5h1M90 54.5h1M93 54.5h1M96 54.5h1M91 55.5h2M94 55.5h2M81 56.5h1M87 56.5h2M91 56.5h4M67 57.5h2M73 57.5h2M81 57.5h1M83 57.5h1M99 57.5h1M102 57.5h1M67 58.5h1M70 58.5h1M74 58.5h1M77 58.5h2M88 58.5h1M99 58.5h3M72 59.5h1M74 59.5h1M77 59.5h2M98 59.5h3M102 59.5h1M66 60.5h1M68 60.5h1M73 60.5h1M77 60.5h1M79 60.5h1M86 60.5h1M95 60.5h1M14 61.5h1M25 61.5h1M31 61.5h1M52 61.5h1M93 61.5h1M102 61.5h1M47 62.5h2M50 62.5h1M102 62.5h1M93 63.5h1M95 63.5h1M102 63.5h1M94 65.5h1M48 66.5h1M60 66.5h1M94 66.5h2M101 66.5h1M57 67.5h2M95 67.5h1M48 68.5h1M57 68.5h1M60 68.5h1M101 68.5h1M34 69.5h1M33 70.5h1M35 70.5h1M58 70.5h1M35 71.5h1M101 71.5h1M33 72.5h2M36 72.5h1M59 72.5h1M34 73.5h2M57 73.5h1M60 73.5h1M101 73.5h1M34 74.5h2M57 74.5h3M34 75.5h2M97 75.5h1M34 76.5h2M48 76.5h1M33 77.5h2M58 77.5h3M101 77.5h1M35 78.5h2M40 78.5h2M58 78.5h2M47 79.5h1M60 79.5h1M102 79.5h1M33 80.5h1M37 80.5h1M40 80.5h1M47 80.5h1M33 81.5h1M36 81.5h1M38 81.5h2M48 81.5h1M56 81.5h2M101 81.5h2M33 82.5h1M35 82.5h1M40 82.5h3M47 82.5h1M51 82.5h1M102 82.5h1M47 83.5h1M57 83.5h1M1 84.5h1M9 84.5h1M39 84.5h1M42 84.5h1M47 84.5h1M49 84.5h1M52 84.5h1M54 84.5h1M7 85.5h1M38 85.5h1M41 85.5h1M52 85.5h1M54 85.5h1M4 86.5h2M8 86.5h1M10 86.5h1M47 86.5h1M53 86.5h1M60 86.5h1M4 87.5h1M7 87.5h4M37 87.5h2M40 87.5h1M42 87.5h1M47 87.5h1M54 87.5h1M56 87.5h1M4 88.5h1M10 88.5h1M48 88.5h1M56 88.5h1M58 88.5h1M0 89.5h2M5 89.5h1M46 89.5h1M51 89.5h2M0 90.5h2M4 90.5h2M9 90.5h2M41 90.5h1M49 90.5h1M51 90.5h4M1 91.5h1M3 91.5h1M9 91.5h1M48 91.5h1M52 91.5h1M55 91.5h2M3 92.5h1M5 92.5h3M9 92.5h1M45 92.5h1M48 92.5h2M55 92.5h2M0 93.5h1M16 93.5h1M49 93.5h2M52 93.5h1M54 93.5h1M56 93.5h1M61 93.5h1M63 93.5h1M99 93.5h3M0 94.5h1M11 94.5h1M17 94.5h2M21 94.5h1M23 94.5h1M32 94.5h1M50 94.5h1M52 94.5h1M55 94.5h2M65 94.5h2M99 94.5h1M12 95.5h2M17 95.5h2M46 95.5h2M50 95.5h1M55 95.5h1M60 95.5h1M63 95.5h1M66 95.5h2M99 95.5h2M2 96.5h1M14 96.5h2M17 96.5h1M19 96.5h1M47 96.5h1M54 96.5h1M99 96.5h2M102 96.5h1M51 97.5h1M75 97.5h1M18 98.5h1M46 98.5h1M53 98.5h1M59 98.5h1M3 99.5h1M11 99.5h1M15 99.5h1M17 99.5h1M20 99.5h1M24 99.5h1M27 99.5h2M30 99.5h2M57 99.5h3M93 99.5h4M0 100.5h1M11 100.5h1M15 100.5h2M19 100.5h3M25 100.5h1M27 100.5h1M32 100.5h1M41 100.5h1M58 100.5h2M93 100.5h1M95 100.5h2M1 101.5h1M3 101.5h1M6 101.5h1M8 101.5h1M10 101.5h3M14 101.5h1M18 101.5h1M21 101.5h1M25 101.5h1M28 101.5h1M30 101.5h3M35 101.5h1M38 101.5h3M51 101.5h1M58 101.5h1M66 101.5h1M68 101.5h1M71 101.5h1M73 101.5h1M77 101.5h1M81 101.5h1M93 101.5h1M0 102.5h1M4 102.5h1M7 102.5h1M9 102.5h1M11 102.5h2M19 102.5h1M22 102.5h1M26 102.5h1M29 102.5h1M36 102.5h2M40 102.5h1M42 102.5h1M49 102.5h1M57 102.5h1M59 102.5h1M61 102.5h3M79 102.5h1M81 102.5h2M96 102.5h1"/>
<path stroke="#f7f7f7" d="M97 0.5h1M94 1.5h1M99 1.5h1M97 2.5h2M44 3.5h1M96 3.5h3M100 3.5h1M47 5.5h1M88 5.5h1M47 6.5h1M95 6.5h1M90 7.5h1M59 8.5h1M89 8.5h1M89 9.5h1M85 10.5h1M89 10.5h1M96 11.5h1M93 13.5h1M96 13.5h1M59 14.5h1M93 14.5h1M43 15.5h1M59 15.5h1M98 15.5h1M47 16.5h1M97 16.5h2M43 17.5h1M97 18.5h1M48 19.5h1M33 20.5h2M43 20.5h1M35 21.5h1M37 21.5h1M39 21.5h1M39 22.5h1M33 23.5h1M35 23.5h1M43 23.5h1M48 23.5h1M100 23.5h1M33 24.5h2M38 24.5h1M40 24.5h1M47 24.5h1M57 24.5h1M100 24.5h1M33 25.5h1M36 25.5h2M38 26.5h1M47 26.5h2M33 27.5h1M37 27.5h2M44 27.5h1M33 28.5h1M37 28.5h1M43 28.5h1M60 28.5h1M33 29.5h1M36 29.5h1M44 29.5h1M34 30.5h1M36 30.5h1M57 30.5h1M33 31.5h1M36 31.5h1M100 31.5h1M33 32.5h2M20 33.5h1M23 33.5h3M27 33.5h3M31 33.5h2M45 33.5h1M50 33.5h1M57 33.5h3M78 33.5h1M83 33.5h2M86 33.5h1M91 33.5h1M101 33.5h1M20 34.5h1M24 34.5h1M30 34.5h1M32 34.5h1M43 34.5h1M48 34.5h1M53 34.5h1M55 34.5h1M80 34.5h1M83 34.5h1M87 34.5h1M92 34.5h1M21 35.5h1M23 35.5h1M49 35.5h1M53 35.5h1M56 35.5h2M60 35.5h1M84 35.5h1M86 35.5h1M89 35.5h2M92 35.5h1M102 35.5h1M25 36.5h1M29 36.5h3M46 36.5h1M54 36.5h1M59 36.5h1M83 36.5h1M91 36.5h2M21 37.5h1M25 37.5h1M27 37.5h2M43 37.5h1M54 37.5h1M81 37.5h1M84 37.5h1M86 37.5h1M88 37.5h1M24 38.5h1M26 38.5h2M52 38.5h1M59 38.5h1M86 38.5h1M21 39.5h2M43 39.5h1M58 39.5h1M60 39.5h1M86 39.5h1M89 39.5h1M24 40.5h1M45 40.5h1M54 40.5h1M86 40.5h1M88 40.5h1M57 41.5h2M60 41.5h1M87 41.5h1M101 41.5h2M57 42.5h1M86 42.5h1M88 42.5h1M90 42.5h1M92 42.5h1M15 43.5h1M17 43.5h1M20 43.5h1M23 43.5h1M28 43.5h1M34 43.5h1M37 43.5h1M39 43.5h1M47 43.5h1M52 43.5h2M55 43.5h1M60 43.5h1M68 43.5h1M74 43.5h1M78 43.5h1M82 43.5h1M84 43.5h1M88 43.5h3M100 43.5h1M3 44.5h1M27 44.5h1M29 44.5h1M48 44.5h1M52 44.5h1M55 44.5h1M57 44.5h2M60 44.5h1M62 44.5h1M72 44.5h1M77 44.5h2M80 44.5h2M86 44.5h1M92 44.5h3M98 44.5h1M100 44.5h1M33 45.5h1M40 45.5h1M51 45.5h1M94 45.5h1M99 45.5h1M102 45.5h1M36 46.5h1M100 46.5h1M5 47.5h2M16 47.5h1M24 47.5h1M26 47.5h1M43 47.5h1M54 47.5h1M85 47.5h1M89 47.5h1M93 47.5h2M19 48.5h1M23 48.5h1M26 48.5h1M34 48.5h1M44 48.5h1M58 48.5h3M90 48.5h1M99 48.5h2M102 48.5h1M35 49.5h1M56 49.5h1M96 49.5h1M98 49.5h2M33 50.5h1M57 50.5h1M45 51.5h1M85 51.5h1M88 51.5h1M92 51.5h1M94 51.5h1M98 51.5h3M38 52.5h1M43 52.5h2M96 52.5h1M98 52.5h1M100 52.5h2M34 53.5h2M43 53.5h1M91 53.5h1M96 53.5h1M100 53.5h1M36 54.5h2M40 54.5h1M47 54.5h1M88 54.5h1M95 54.5h1M34 55.5h1M43 55.5h2M97 55.5h1M102 55.5h1M35 56.5h1M49 56.5h1M89 56.5h1M98 56.5h2M102 56.5h1M24 57.5h1M30 57.5h1M33 57.5h1M35 57.5h1M41 57.5h2M44 57.5h1M50 57.5h1M63 57.5h1M69 57.5h1M75 57.5h1M79 57.5h2M85 57.5h1M89 57.5h1M91 57.5h1M94 57.5h1M97 57.5h1M101 57.5h1M33 58.5h1M39 58.5h1M41 58.5h1M44 58.5h1M48 58.5h1M66 58.5h1M73 58.5h1M75 58.5h1M84 58.5h1M86 58.5h1M89 58.5h4M97 58.5h2M8 59.5h1M14 59.5h2M33 59.5h1M36 59.5h1M38 59.5h1M48 59.5h1M61 59.5h1M64 59.5h1M67 59.5h1M71 59.5h1M73 59.5h1M76 59.5h1M86 59.5h1M88 59.5h1M91 59.5h2M95 59.5h2M28 60.5h1M35 60.5h1M39 60.5h1M41 60.5h1M43 60.5h2M48 60.5h1M67 60.5h1M78 60.5h1M80 60.5h1M87 60.5h2M93 60.5h2M98 60.5h1M102 60.5h1M59 61.5h1M101 61.5h1M44 62.5h1M57 63.5h1M59 64.5h1M102 64.5h1M101 65.5h1M58 66.5h1M59 67.5h2M101 67.5h1M43 68.5h1M95 68.5h1M57 69.5h1M101 69.5h1M94 70.5h1M101 70.5h1M59 71.5h1M102 71.5h1M44 72.5h1M58 73.5h2M43 74.5h1M93 74.5h1M57 75.5h2M95 75.5h2M101 75.5h1M59 76.5h1M101 76.5h1M44 77.5h1M33 78.5h1M43 78.5h2M60 78.5h1M102 78.5h1M57 79.5h1M97 79.5h1M101 79.5h1M34 80.5h1M44 80.5h1M57 80.5h1M60 80.5h1M97 80.5h1M102 80.5h1M37 81.5h1M44 81.5h1M99 81.5h2M43 82.5h1M33 83.5h2M36 83.5h1M102 83.5h1M33 84.5h1M35 84.5h1M37 84.5h1M43 84.5h1M58 84.5h1M102 84.5h1M10 85.5h1M47 85.5h1M51 85.5h1M57 85.5h1M33 86.5h1M35 86.5h1M37 86.5h4M42 86.5h1M44 86.5h1M58 86.5h2M102 86.5h1M34 87.5h1M41 87.5h1M60 87.5h1M102 87.5h1M5 88.5h1M37 88.5h1M40 88.5h1M42 88.5h2M51 88.5h1M54 88.5h1M59 88.5h2M101 88.5h2M8 89.5h3M35 89.5h1M39 89.5h1M43 89.5h1M47 89.5h1M56 89.5h3M100 89.5h2M7 90.5h1M35 90.5h1M42 90.5h2M48 90.5h1M58 90.5h1M102 90.5h1M33 91.5h1M36 91.5h1M53 91.5h1M57 91.5h3M34 92.5h3M42 92.5h1M44 92.5h1M51 92.5h1M58 92.5h2M100 92.5h2M13 93.5h2M44 93.5h1M47 93.5h1M60 93.5h1M74 93.5h1M1 94.5h1M44 94.5h2M47 94.5h1M51 94.5h1M57 94.5h1M60 94.5h1M70 94.5h1M6 95.5h1M54 95.5h1M59 95.5h1M68 95.5h1M75 95.5h1M3 96.5h1M11 96.5h1M13 96.5h1M49 96.5h1M52 96.5h2M59 96.5h1M75 96.5h1M101 96.5h1M0 97.5h1M2 97.5h2M16 97.5h1M18 97.5h1M55 97.5h1M57 97.5h2M79 97.5h2M101 97.5h1M2 98.5h2M15 98.5h2M44 98.5h1M49 98.5h1M51 98.5h2M56 98.5h1M58 98.5h1M60 98.5h1M102 98.5h1M1 99.5h1M45 99.5h1M48 99.5h2M51 99.5h1M56 99.5h1M81 99.5h1M3 100.5h1M23 100.5h2M31 100.5h1M43 100.5h2M46 100.5h1M48 100.5h1M51 100.5h3M81 100.5h1M89 100.5h1M92 100.5h1M33 101.5h1M41 101.5h1M52 101.5h1M57 101.5h1M61 101.5h1M65 101.5h1M67 101.5h1M69 101.5h2M75 101.5h2M79 101.5h1M88 101.5h2M92 101.5h1M96 101.5h2M35 102.5h1M41 102.5h1M45 102.5h1M48 102.5h1M55 102.5h2M60 102.5h1M64 102.5h1M71 102.5h1M78 102.5h1M80 102.5h1M83 102.5h2M86 102.5h3M90 102.5h1M98 102.5h1"/>
</g>
<text x="575.8" y="2060.5" font-size="28.8">ATP5G2</text>
<text x="575.8" y="2112.3" font-size="28.8">ATP5G1</text>
<text x="575.8" y="2161.8" font-size="28.8">ATP5H</text>
<text x="575.8" y="2212.9" font-size="28.8">ATP5A1</text>
<text x="575.8" y="2259.5" font-size="28.8" fill="#1eb41e">EpCAM</text>
<text x="575.8" y="2315.1" font-size="28.8" fill="#1eb41e">SPINT2</text>
<text x="575.8" y="2366.2" font-size="28.8" fill="#1eb41e">S100A14</text>
<text x="575.8" y="2417.2" font-size="28.8" fill="#1eb41e">RAB25</text>
<text x="575.8" y="2468.1" font-size="28.8" fill="#1eb41e">ZBED2</text>
<text x="575.8" y="2519.5" font-size="28.8">EIF4G2</text>
<text x="575.8" y="2570.0" font-size="28.8">EIF3A</text>
<text x="575.8" y="2620.5" font-size="28.8">EIF3E</text>
<text x="575.8" y="2671.0" font-size="28.8" fill="#e614e6">VIM</text>
<line x1="560.0" y1="2050.6" x2="570.0" y2="2050.6" stroke="#555" stroke-width="1.2"/>
<line x1="560.0" y1="2073.4" x2="570.5" y2="2102.4" stroke="#555" stroke-width="1.2"/>
<line x1="570.0" y1="2152.9" x2="560.6" y2="2207.0" stroke="#555" stroke-width="1.2"/>
<line x1="570.0" y1="2203.3" x2="560.6" y2="2218.6" stroke="#555" stroke-width="1.2"/>
<line x1="570.0" y1="2254.8" x2="560.0" y2="2302.4" stroke="#555" stroke-width="1.2"/>
<line x1="560.6" y1="2308.1" x2="570.0" y2="2305.2" stroke="#555" stroke-width="1.2"/>
<line x1="560.0" y1="2320.1" x2="570.5" y2="2355.7" stroke="#555" stroke-width="1.2"/>
<line x1="560.0" y1="2324.3" x2="570.5" y2="2406.2" stroke="#555" stroke-width="1.2"/>
<line x1="560.0" y1="2409.0" x2="570.5" y2="2456.7" stroke="#555" stroke-width="1.2"/>
<line x1="560.6" y1="2328.0" x2="570.5" y2="2509.0" stroke="#555" stroke-width="1.2"/>
<line x1="560.0" y1="2499.1" x2="570.5" y2="2559.5" stroke="#555" stroke-width="1.2"/>
<line x1="560.6" y1="2610.0" x2="570.0" y2="2610.0" stroke="#555" stroke-width="1.2"/>
<line x1="560.6" y1="2660.5" x2="570.0" y2="2660.5" stroke="#555" stroke-width="1.2"/>
<text x="758.5" y="1978.6" font-size="28.8" text-anchor="middle">correlation</text>
<defs><linearGradient id="rb" x1="0" y1="0" x2="0" y2="1"><stop offset="0.000" stop-color="#c4262e"/><stop offset="0.125" stop-color="#d9604d"/><stop offset="0.250" stop-color="#f4a582"/><stop offset="0.375" stop-color="#fddbc7"/><stop offset="0.500" stop-color="#f7f7f7"/><stop offset="0.625" stop-color="#d1e5f0"/><stop offset="0.750" stop-color="#92c5de"/><stop offset="0.875" stop-color="#4a93c5"/><stop offset="1.000" stop-color="#2b6cb3"/></linearGradient></defs>
<rect x="753.0" y="1991.0" width="12.2" height="178.4" fill="url(#rb)"/>
<text x="769.5" y="2017.6" font-size="28.8">0.4</text>
<text x="769.5" y="2053.6" font-size="28.8">0.2</text>
<text x="769.5" y="2089.4" font-size="28.8">0</text>
<text x="769.5" y="2125.2" font-size="28.8">-0.2</text>
<text x="769.5" y="2161.0" font-size="28.8">-0.4</text>
<text x="877.0" y="1940.0" font-size="27" font-weight="bold">f</text>
<text x="1039.0" y="1984.3" font-size="28.8" text-anchor="middle">VIM</text>
<text x="1317.0" y="1984.3" font-size="28.8" text-anchor="middle">ZEB1</text>
<text x="1594.3" y="1984.3" font-size="28.8" text-anchor="middle">EpCAM</text>
<line x1="948.6" y1="2039.0" x2="1131.4" y2="2039.0" stroke="#444" stroke-width="1.4"/>
<line x1="948.6" y1="2039.0" x2="948.6" y2="2029.0" stroke="#444" stroke-width="1.4"/>
<line x1="979.0" y1="2039.0" x2="979.0" y2="2029.0" stroke="#444" stroke-width="1.4"/>
<line x1="1009.5" y1="2039.0" x2="1009.5" y2="2029.0" stroke="#444" stroke-width="1.4"/>
<line x1="1040.0" y1="2039.0" x2="1040.0" y2="2029.0" stroke="#444" stroke-width="1.4"/>
<line x1="1070.4" y1="2039.0" x2="1070.4" y2="2029.0" stroke="#444" stroke-width="1.4"/>
<line x1="1100.9" y1="2039.0" x2="1100.9" y2="2029.0" stroke="#444" stroke-width="1.4"/>
<line x1="1131.4" y1="2039.0" x2="1131.4" y2="2029.0" stroke="#444" stroke-width="1.4"/>
<text x="948.6" y="2021.8" font-size="28.5" text-anchor="middle">0</text>
<text x="1009.5" y="2021.8" font-size="28.5" text-anchor="middle">10</text>
<text x="1070.4" y="2021.8" font-size="28.5" text-anchor="middle">20</text>
<text x="1131.4" y="2021.8" font-size="28.5" text-anchor="middle">30</text>
<rect x="948.6" y="2042.1" width="204.3" height="12.9" fill="#fa0a0a" stroke="#6a0000" stroke-width="1.2"/>
<line x1="1143.9" y1="2048.5" x2="1161.8" y2="2048.5" stroke="#000" stroke-width="1.5"/>
<line x1="1143.9" y1="2045.5" x2="1143.9" y2="2051.5" stroke="#000" stroke-width="1.5"/>
<line x1="1161.8" y1="2045.5" x2="1161.8" y2="2051.5" stroke="#000" stroke-width="1.5"/>
<rect x="948.6" y="2058.2" width="87.1" height="12.9" fill="#fa0a0a" stroke="#6a0000" stroke-width="1.2"/>
<line x1="1029.6" y1="2064.6" x2="1041.4" y2="2064.6" stroke="#000" stroke-width="1.5"/>
<line x1="1029.6" y1="2061.6" x2="1029.6" y2="2067.6" stroke="#000" stroke-width="1.5"/>
<line x1="1041.4" y1="2061.6" x2="1041.4" y2="2067.6" stroke="#000" stroke-width="1.5"/>
<rect x="948.6" y="2074.2" width="84.6" height="12.9" fill="#fa0a0a" stroke="#6a0000" stroke-width="1.2"/>
<line x1="1027.0" y1="2080.7" x2="1038.6" y2="2080.7" stroke="#000" stroke-width="1.5"/>
<line x1="1027.0" y1="2077.7" x2="1027.0" y2="2083.7" stroke="#000" stroke-width="1.5"/>
<line x1="1038.6" y1="2077.7" x2="1038.6" y2="2083.7" stroke="#000" stroke-width="1.5"/>
<rect x="948.6" y="2090.3" width="56.0" height="12.9" fill="#fa0a0a" stroke="#6a0000" stroke-width="1.2"/>
<line x1="1000.0" y1="2096.8" x2="1009.3" y2="2096.8" stroke="#000" stroke-width="1.5"/>
<line x1="1000.0" y1="2093.8" x2="1000.0" y2="2099.8" stroke="#000" stroke-width="1.5"/>
<line x1="1009.3" y1="2093.8" x2="1009.3" y2="2099.8" stroke="#000" stroke-width="1.5"/>
<rect x="948.6" y="2106.4" width="33.9" height="12.9" fill="#fa0a0a" stroke="#6a0000" stroke-width="1.2"/>
<line x1="979.0" y1="2112.8" x2="986.0" y2="2112.8" stroke="#000" stroke-width="1.5"/>
<line x1="979.0" y1="2109.8" x2="979.0" y2="2115.8" stroke="#000" stroke-width="1.5"/>
<line x1="986.0" y1="2109.8" x2="986.0" y2="2115.8" stroke="#000" stroke-width="1.5"/>
<line x1="1202.9" y1="2039.0" x2="1415.4" y2="2039.0" stroke="#444" stroke-width="1.4"/>
<line x1="1202.9" y1="2039.0" x2="1202.9" y2="2029.0" stroke="#444" stroke-width="1.4"/>
<line x1="1256.0" y1="2039.0" x2="1256.0" y2="2029.0" stroke="#444" stroke-width="1.4"/>
<line x1="1309.1" y1="2039.0" x2="1309.1" y2="2029.0" stroke="#444" stroke-width="1.4"/>
<line x1="1362.3" y1="2039.0" x2="1362.3" y2="2029.0" stroke="#444" stroke-width="1.4"/>
<line x1="1415.4" y1="2039.0" x2="1415.4" y2="2029.0" stroke="#444" stroke-width="1.4"/>
<text x="1202.9" y="2021.8" font-size="28.5" text-anchor="middle">0</text>
<text x="1256.0" y="2021.8" font-size="28.5" text-anchor="middle">1</text>
<text x="1309.1" y="2021.8" font-size="28.5" text-anchor="middle">2</text>
<text x="1362.3" y="2021.8" font-size="28.5" text-anchor="middle">3</text>
<text x="1415.4" y="2021.8" font-size="28.5" text-anchor="middle">4</text>
<rect x="1202.9" y="2042.1" width="188.1" height="12.9" fill="#fa0a0a" stroke="#6a0000" stroke-width="1.2"/>
<line x1="1365.4" y1="2048.5" x2="1415.4" y2="2048.5" stroke="#000" stroke-width="1.5"/>
<line x1="1365.4" y1="2045.5" x2="1365.4" y2="2051.5" stroke="#000" stroke-width="1.5"/>
<line x1="1415.4" y1="2045.5" x2="1415.4" y2="2051.5" stroke="#000" stroke-width="1.5"/>
<rect x="1202.9" y="2058.2" width="129.1" height="12.9" fill="#fa0a0a" stroke="#6a0000" stroke-width="1.2"/>
<line x1="1310.7" y1="2064.6" x2="1352.9" y2="2064.6" stroke="#000" stroke-width="1.5"/>
<line x1="1310.7" y1="2061.6" x2="1310.7" y2="2067.6" stroke="#000" stroke-width="1.5"/>
<line x1="1352.9" y1="2061.6" x2="1352.9" y2="2067.6" stroke="#000" stroke-width="1.5"/>
<rect x="1202.9" y="2074.2" width="91.1" height="12.9" fill="#fa0a0a" stroke="#6a0000" stroke-width="1.2"/>
<line x1="1276.8" y1="2080.7" x2="1311.8" y2="2080.7" stroke="#000" stroke-width="1.5"/>
<line x1="1276.8" y1="2077.7" x2="1276.8" y2="2083.7" stroke="#000" stroke-width="1.5"/>
<line x1="1311.8" y1="2077.7" x2="1311.8" y2="2083.7" stroke="#000" stroke-width="1.5"/>
<rect x="1202.9" y="2090.3" width="70.1" height="12.9" fill="#fa0a0a" stroke="#6a0000" stroke-width="1.2"/>
<line x1="1258.9" y1="2096.8" x2="1288.6" y2="2096.8" stroke="#000" stroke-width="1.5"/>
<line x1="1258.9" y1="2093.8" x2="1258.9" y2="2099.8" stroke="#000" stroke-width="1.5"/>
<line x1="1288.6" y1="2093.8" x2="1288.6" y2="2099.8" stroke="#000" stroke-width="1.5"/>
<rect x="1202.9" y="2106.4" width="29.6" height="12.9" fill="#fa0a0a" stroke="#6a0000" stroke-width="1.2"/>
<line x1="1222.5" y1="2112.8" x2="1243.2" y2="2112.8" stroke="#000" stroke-width="1.5"/>
<line x1="1222.5" y1="2109.8" x2="1222.5" y2="2115.8" stroke="#000" stroke-width="1.5"/>
<line x1="1243.2" y1="2109.8" x2="1243.2" y2="2115.8" stroke="#000" stroke-width="1.5"/>
<line x1="1493.1" y1="2039.0" x2="1684.9" y2="2039.0" stroke="#444" stroke-width="1.4"/>
<line x1="1493.1" y1="2039.0" x2="1493.1" y2="2029.0" stroke="#444" stroke-width="1.4"/>
<line x1="1541.1" y1="2039.0" x2="1541.1" y2="2029.0" stroke="#444" stroke-width="1.4"/>
<line x1="1589.0" y1="2039.0" x2="1589.0" y2="2029.0" stroke="#444" stroke-width="1.4"/>
<line x1="1637.0" y1="2039.0" x2="1637.0" y2="2029.0" stroke="#444" stroke-width="1.4"/>
<line x1="1684.9" y1="2039.0" x2="1684.9" y2="2029.0" stroke="#444" stroke-width="1.4"/>
<text x="1493.1" y="2021.8" font-size="28.5" text-anchor="middle">0</text>
<text x="1541.1" y="2021.8" font-size="28.5" text-anchor="middle">20</text>
<text x="1589.0" y="2021.8" font-size="28.5" text-anchor="middle">40</text>
<text x="1637.0" y="2021.8" font-size="28.5" text-anchor="middle">60</text>
<text x="1684.9" y="2021.8" font-size="28.5" text-anchor="middle">80</text>
<rect x="1493.1" y="2042.1" width="39.3" height="12.9" fill="#0505f0" stroke="#00005a" stroke-width="1.2"/>
<line x1="1530.3" y1="2048.5" x2="1535.0" y2="2048.5" stroke="#000" stroke-width="1.5"/>
<line x1="1530.3" y1="2045.5" x2="1530.3" y2="2051.5" stroke="#000" stroke-width="1.5"/>
<line x1="1535.0" y1="2045.5" x2="1535.0" y2="2051.5" stroke="#000" stroke-width="1.5"/>
<rect x="1493.1" y="2058.2" width="81.8" height="12.9" fill="#0505f0" stroke="#00005a" stroke-width="1.2"/>
<line x1="1572.4" y1="2064.6" x2="1578.9" y2="2064.6" stroke="#000" stroke-width="1.5"/>
<line x1="1572.4" y1="2061.6" x2="1572.4" y2="2067.6" stroke="#000" stroke-width="1.5"/>
<line x1="1578.9" y1="2061.6" x2="1578.9" y2="2067.6" stroke="#000" stroke-width="1.5"/>
<rect x="1493.1" y="2074.2" width="121.5" height="12.9" fill="#0505f0" stroke="#00005a" stroke-width="1.2"/>
<line x1="1610.6" y1="2080.7" x2="1618.9" y2="2080.7" stroke="#000" stroke-width="1.5"/>
<line x1="1610.6" y1="2077.7" x2="1610.6" y2="2083.7" stroke="#000" stroke-width="1.5"/>
<line x1="1618.9" y1="2077.7" x2="1618.9" y2="2083.7" stroke="#000" stroke-width="1.5"/>
<rect x="1493.1" y="2090.3" width="164.0" height="12.9" fill="#0505f0" stroke="#00005a" stroke-width="1.2"/>
<line x1="1652.8" y1="2096.8" x2="1661.7" y2="2096.8" stroke="#000" stroke-width="1.5"/>
<line x1="1652.8" y1="2093.8" x2="1652.8" y2="2099.8" stroke="#000" stroke-width="1.5"/>
<line x1="1661.7" y1="2093.8" x2="1661.7" y2="2099.8" stroke="#000" stroke-width="1.5"/>
<rect x="1493.1" y="2106.4" width="207.2" height="12.9" fill="#0505f0" stroke="#00005a" stroke-width="1.2"/>
<line x1="1694.6" y1="2112.8" x2="1706.4" y2="2112.8" stroke="#000" stroke-width="1.5"/>
<line x1="1694.6" y1="2109.8" x2="1694.6" y2="2115.8" stroke="#000" stroke-width="1.5"/>
<line x1="1706.4" y1="2109.8" x2="1706.4" y2="2115.8" stroke="#000" stroke-width="1.5"/>
<text x="943.5" y="2055.7" font-size="28.8" text-anchor="end">Ep1</text>
<text x="943.5" y="2122.1" font-size="28.8" text-anchor="end">Ep5</text>
<line x1="948.6" y1="2179.0" x2="1129.6" y2="2179.0" stroke="#444" stroke-width="1.4"/>
<line x1="948.6" y1="2179.0" x2="948.6" y2="2169.0" stroke="#444" stroke-width="1.4"/>
<line x1="993.9" y1="2179.0" x2="993.9" y2="2169.0" stroke="#444" stroke-width="1.4"/>
<line x1="1039.1" y1="2179.0" x2="1039.1" y2="2169.0" stroke="#444" stroke-width="1.4"/>
<line x1="1084.4" y1="2179.0" x2="1084.4" y2="2169.0" stroke="#444" stroke-width="1.4"/>
<line x1="1129.6" y1="2179.0" x2="1129.6" y2="2169.0" stroke="#444" stroke-width="1.4"/>
<text x="948.6" y="2161.8" font-size="28.5" text-anchor="middle">0</text>
<text x="993.9" y="2161.8" font-size="28.5" text-anchor="middle">5</text>
<text x="1039.1" y="2161.8" font-size="28.5" text-anchor="middle">10</text>
<text x="1084.4" y="2161.8" font-size="28.5" text-anchor="middle">15</text>
<text x="1129.6" y="2161.8" font-size="28.5" text-anchor="middle">20</text>
<rect x="948.6" y="2181.8" width="207.8" height="12.9" fill="#fa0a0a" stroke="#6a0000" stroke-width="1.2"/>
<line x1="1152.0" y1="2188.2" x2="1161.8" y2="2188.2" stroke="#000" stroke-width="1.5"/>
<line x1="1152.0" y1="2185.2" x2="1152.0" y2="2191.2" stroke="#000" stroke-width="1.5"/>
<line x1="1161.8" y1="2185.2" x2="1161.8" y2="2191.2" stroke="#000" stroke-width="1.5"/>
<rect x="948.6" y="2197.9" width="119.3" height="12.9" fill="#fa0a0a" stroke="#6a0000" stroke-width="1.2"/>
<line x1="1064.3" y1="2204.3" x2="1071.4" y2="2204.3" stroke="#000" stroke-width="1.5"/>
<line x1="1064.3" y1="2201.3" x2="1064.3" y2="2207.3" stroke="#000" stroke-width="1.5"/>
<line x1="1071.4" y1="2201.3" x2="1071.4" y2="2207.3" stroke="#000" stroke-width="1.5"/>
<rect x="948.6" y="2213.9" width="87.4" height="12.9" fill="#fa0a0a" stroke="#6a0000" stroke-width="1.2"/>
<line x1="1034.0" y1="2220.4" x2="1039.3" y2="2220.4" stroke="#000" stroke-width="1.5"/>
<line x1="1034.0" y1="2217.4" x2="1034.0" y2="2223.4" stroke="#000" stroke-width="1.5"/>
<line x1="1039.3" y1="2217.4" x2="1039.3" y2="2223.4" stroke="#000" stroke-width="1.5"/>
<rect x="948.6" y="2230.0" width="88.9" height="12.9" fill="#fa0a0a" stroke="#6a0000" stroke-width="1.2"/>
<line x1="1035.0" y1="2236.5" x2="1041.0" y2="2236.5" stroke="#000" stroke-width="1.5"/>
<line x1="1035.0" y1="2233.5" x2="1035.0" y2="2239.5" stroke="#000" stroke-width="1.5"/>
<line x1="1041.0" y1="2233.5" x2="1041.0" y2="2239.5" stroke="#000" stroke-width="1.5"/>
<rect x="948.6" y="2246.1" width="78.2" height="12.9" fill="#fa0a0a" stroke="#6a0000" stroke-width="1.2"/>
<line x1="1022.5" y1="2252.5" x2="1029.6" y2="2252.5" stroke="#000" stroke-width="1.5"/>
<line x1="1022.5" y1="2249.5" x2="1022.5" y2="2255.5" stroke="#000" stroke-width="1.5"/>
<line x1="1029.6" y1="2249.5" x2="1029.6" y2="2255.5" stroke="#000" stroke-width="1.5"/>
<line x1="1202.9" y1="2179.0" x2="1383.2" y2="2179.0" stroke="#444" stroke-width="1.4"/>
<line x1="1202.9" y1="2179.0" x2="1202.9" y2="2169.0" stroke="#444" stroke-width="1.4"/>
<line x1="1263.0" y1="2179.0" x2="1263.0" y2="2169.0" stroke="#444" stroke-width="1.4"/>
<line x1="1323.1" y1="2179.0" x2="1323.1" y2="2169.0" stroke="#444" stroke-width="1.4"/>
<line x1="1383.2" y1="2179.0" x2="1383.2" y2="2169.0" stroke="#444" stroke-width="1.4"/>
<text x="1202.9" y="2161.8" font-size="28.5" text-anchor="middle">0</text>
<text x="1263.0" y="2161.8" font-size="28.5" text-anchor="middle">0.5</text>
<text x="1323.1" y="2161.8" font-size="28.5" text-anchor="middle">1</text>
<text x="1383.2" y="2161.8" font-size="28.5" text-anchor="middle">1.5</text>
<rect x="1202.9" y="2181.8" width="195.3" height="12.9" fill="#fa0a0a" stroke="#6a0000" stroke-width="1.2"/>
<line x1="1380.7" y1="2188.2" x2="1415.4" y2="2188.2" stroke="#000" stroke-width="1.5"/>
<line x1="1380.7" y1="2185.2" x2="1380.7" y2="2191.2" stroke="#000" stroke-width="1.5"/>
<line x1="1415.4" y1="2185.2" x2="1415.4" y2="2191.2" stroke="#000" stroke-width="1.5"/>
<rect x="1202.9" y="2197.9" width="127.8" height="12.9" fill="#fa0a0a" stroke="#6a0000" stroke-width="1.2"/>
<line x1="1317.9" y1="2204.3" x2="1343.2" y2="2204.3" stroke="#000" stroke-width="1.5"/>
<line x1="1317.9" y1="2201.3" x2="1317.9" y2="2207.3" stroke="#000" stroke-width="1.5"/>
<line x1="1343.2" y1="2201.3" x2="1343.2" y2="2207.3" stroke="#000" stroke-width="1.5"/>
<rect x="1202.9" y="2213.9" width="82.1" height="12.9" fill="#fa0a0a" stroke="#6a0000" stroke-width="1.2"/>
<line x1="1275.0" y1="2220.4" x2="1295.7" y2="2220.4" stroke="#000" stroke-width="1.5"/>
<line x1="1275.0" y1="2217.4" x2="1275.0" y2="2223.4" stroke="#000" stroke-width="1.5"/>
<line x1="1295.7" y1="2217.4" x2="1295.7" y2="2223.4" stroke="#000" stroke-width="1.5"/>
<rect x="1202.9" y="2230.0" width="78.5" height="12.9" fill="#fa0a0a" stroke="#6a0000" stroke-width="1.2"/>
<line x1="1270.7" y1="2236.5" x2="1291.4" y2="2236.5" stroke="#000" stroke-width="1.5"/>
<line x1="1270.7" y1="2233.5" x2="1270.7" y2="2239.5" stroke="#000" stroke-width="1.5"/>
<line x1="1291.4" y1="2233.5" x2="1291.4" y2="2239.5" stroke="#000" stroke-width="1.5"/>
<rect x="1202.9" y="2246.1" width="57.8" height="12.9" fill="#fa0a0a" stroke="#6a0000" stroke-width="1.2"/>
<line x1="1251.8" y1="2252.5" x2="1269.6" y2="2252.5" stroke="#000" stroke-width="1.5"/>
<line x1="1251.8" y1="2249.5" x2="1251.8" y2="2255.5" stroke="#000" stroke-width="1.5"/>
<line x1="1269.6" y1="2249.5" x2="1269.6" y2="2255.5" stroke="#000" stroke-width="1.5"/>
<line x1="1493.1" y1="2179.0" x2="1700.3" y2="2179.0" stroke="#444" stroke-width="1.4"/>
<line x1="1493.1" y1="2179.0" x2="1493.1" y2="2169.0" stroke="#444" stroke-width="1.4"/>
<line x1="1527.6" y1="2179.0" x2="1527.6" y2="2169.0" stroke="#444" stroke-width="1.4"/>
<line x1="1562.2" y1="2179.0" x2="1562.2" y2="2169.0" stroke="#444" stroke-width="1.4"/>
<line x1="1596.7" y1="2179.0" x2="1596.7" y2="2169.0" stroke="#444" stroke-width="1.4"/>
<line x1="1631.2" y1="2179.0" x2="1631.2" y2="2169.0" stroke="#444" stroke-width="1.4"/>
<line x1="1665.8" y1="2179.0" x2="1665.8" y2="2169.0" stroke="#444" stroke-width="1.4"/>
<line x1="1700.3" y1="2179.0" x2="1700.3" y2="2169.0" stroke="#444" stroke-width="1.4"/>
<text x="1493.1" y="2161.8" font-size="28.5" text-anchor="middle">0</text>
<text x="1562.2" y="2161.8" font-size="28.5" text-anchor="middle">10</text>
<text x="1631.2" y="2161.8" font-size="28.5" text-anchor="middle">20</text>
<text x="1700.3" y="2161.8" font-size="28.5" text-anchor="middle">30</text>
<rect x="1493.1" y="2181.8" width="65.8" height="12.9" fill="#0505f0" stroke="#00005a" stroke-width="1.2"/>
<line x1="1557.0" y1="2188.2" x2="1561.7" y2="2188.2" stroke="#000" stroke-width="1.5"/>
<line x1="1557.0" y1="2185.2" x2="1557.0" y2="2191.2" stroke="#000" stroke-width="1.5"/>
<line x1="1561.7" y1="2185.2" x2="1561.7" y2="2191.2" stroke="#000" stroke-width="1.5"/>
<rect x="1493.1" y="2197.9" width="109.7" height="12.9" fill="#0505f0" stroke="#00005a" stroke-width="1.2"/>
<line x1="1600.3" y1="2204.3" x2="1605.3" y2="2204.3" stroke="#000" stroke-width="1.5"/>
<line x1="1600.3" y1="2201.3" x2="1600.3" y2="2207.3" stroke="#000" stroke-width="1.5"/>
<line x1="1605.3" y1="2201.3" x2="1605.3" y2="2207.3" stroke="#000" stroke-width="1.5"/>
<rect x="1493.1" y="2213.9" width="144.3" height="12.9" fill="#0505f0" stroke="#00005a" stroke-width="1.2"/>
<line x1="1633.9" y1="2220.4" x2="1640.3" y2="2220.4" stroke="#000" stroke-width="1.5"/>
<line x1="1633.9" y1="2217.4" x2="1633.9" y2="2223.4" stroke="#000" stroke-width="1.5"/>
<line x1="1640.3" y1="2217.4" x2="1640.3" y2="2223.4" stroke="#000" stroke-width="1.5"/>
<rect x="1493.1" y="2230.0" width="165.8" height="12.9" fill="#0505f0" stroke="#00005a" stroke-width="1.2"/>
<line x1="1656.4" y1="2236.5" x2="1662.4" y2="2236.5" stroke="#000" stroke-width="1.5"/>
<line x1="1656.4" y1="2233.5" x2="1656.4" y2="2239.5" stroke="#000" stroke-width="1.5"/>
<line x1="1662.4" y1="2233.5" x2="1662.4" y2="2239.5" stroke="#000" stroke-width="1.5"/>
<rect x="1493.1" y="2246.1" width="209.7" height="12.9" fill="#0505f0" stroke="#00005a" stroke-width="1.2"/>
<line x1="1698.5" y1="2252.5" x2="1707.0" y2="2252.5" stroke="#000" stroke-width="1.5"/>
<line x1="1698.5" y1="2249.5" x2="1698.5" y2="2255.5" stroke="#000" stroke-width="1.5"/>
<line x1="1707.0" y1="2249.5" x2="1707.0" y2="2255.5" stroke="#000" stroke-width="1.5"/>
<text x="943.5" y="2199.1" font-size="28.8" text-anchor="end">Ep1</text>
<text x="943.5" y="2265.2" font-size="28.8" text-anchor="end">Ep5</text>
<rect x="938.2" y="2069.7" width="2.8" height="2.8" fill="#000"/>
<rect x="938.2" y="2080.2" width="2.8" height="2.8" fill="#000"/>
<rect x="938.2" y="2090.7" width="2.8" height="2.8" fill="#000"/>
<rect x="938.2" y="2213.4" width="2.8" height="2.8" fill="#000"/>
<rect x="938.2" y="2223.8" width="2.8" height="2.8" fill="#000"/>
<rect x="938.2" y="2234.3" width="2.8" height="2.8" fill="#000"/>
<text x="1853.0" y="2071.8" font-size="27.5" text-anchor="middle" font-weight="bold" font-style="italic">HCT116 WT</text>
<text x="1853.0" y="2100.4" font-size="27.5" text-anchor="middle" font-weight="bold" font-style="italic">scRNA (MARS-seq)</text>
<text x="1853.0" y="2211.0" font-size="27.5" text-anchor="middle" font-weight="bold" font-style="italic">HCT116 WT</text>
<text x="1853.0" y="2239.0" font-size="27.5" text-anchor="middle" font-weight="bold" font-style="italic">scRNA (10x)</text>
<text x="876.0" y="2332.5" font-size="27" font-weight="bold">g</text>
<text x="1056.0" y="2328.6" font-size="28.8" text-anchor="middle">EMT</text>
<text x="1341.0" y="2328.6" font-size="28.8" text-anchor="middle">Epithelial</text>
<text x="1620.0" y="2322.5" font-size="28.8" text-anchor="middle">Cholesterol bios.</text>
<line x1="952.1" y1="2374.6" x2="1188.6" y2="2374.6" stroke="#000" stroke-width="1.5"/>
<line x1="952.1" y1="2374.6" x2="952.1" y2="2686.0" stroke="#000" stroke-width="1.5"/>
<line x1="961.1" y1="2374.6" x2="961.1" y2="2363.2" stroke="#000" stroke-width="1.5"/>
<text x="961.1" y="2356.0" font-size="28.8" text-anchor="middle">0</text>
<line x1="1019.5" y1="2374.6" x2="1019.5" y2="2363.2" stroke="#000" stroke-width="1.5"/>
<text x="1019.5" y="2356.0" font-size="28.8" text-anchor="middle">1</text>
<line x1="1077.8" y1="2374.6" x2="1077.8" y2="2363.2" stroke="#000" stroke-width="1.5"/>
<text x="1077.8" y="2356.0" font-size="28.8" text-anchor="middle">2</text>
<line x1="1136.1" y1="2374.6" x2="1136.1" y2="2363.2" stroke="#000" stroke-width="1.5"/>
<text x="1136.1" y="2356.0" font-size="28.8" text-anchor="middle">3</text>
<line x1="939.0" y1="2397.1" x2="952.1" y2="2397.1" stroke="#000" stroke-width="1.5"/>
<text x="938.5" y="2407.1" font-size="28.8" text-anchor="end">10</text>
<line x1="939.0" y1="2419.2" x2="952.1" y2="2419.2" stroke="#000" stroke-width="1.5"/>
<text x="938.5" y="2429.2" font-size="28.8" text-anchor="end">11</text>
<line x1="939.0" y1="2441.4" x2="952.1" y2="2441.4" stroke="#000" stroke-width="1.5"/>
<text x="938.5" y="2451.4" font-size="28.8" text-anchor="end">12</text>
<line x1="939.0" y1="2463.5" x2="952.1" y2="2463.5" stroke="#000" stroke-width="1.5"/>
<text x="938.5" y="2473.5" font-size="28.8" text-anchor="end">13</text>
<line x1="939.0" y1="2485.7" x2="952.1" y2="2485.7" stroke="#000" stroke-width="1.5"/>
<text x="938.5" y="2495.7" font-size="28.8" text-anchor="end">8</text>
<line x1="939.0" y1="2507.8" x2="952.1" y2="2507.8" stroke="#000" stroke-width="1.5"/>
<text x="938.5" y="2517.8" font-size="28.8" text-anchor="end">4</text>
<line x1="939.0" y1="2529.9" x2="952.1" y2="2529.9" stroke="#000" stroke-width="1.5"/>
<text x="938.5" y="2539.9" font-size="28.8" text-anchor="end">6</text>
<line x1="939.0" y1="2552.1" x2="952.1" y2="2552.1" stroke="#000" stroke-width="1.5"/>
<text x="938.5" y="2562.1" font-size="28.8" text-anchor="end">5</text>
<line x1="939.0" y1="2574.2" x2="952.1" y2="2574.2" stroke="#000" stroke-width="1.5"/>
<text x="938.5" y="2584.2" font-size="28.8" text-anchor="end">2</text>
<line x1="939.0" y1="2596.4" x2="952.1" y2="2596.4" stroke="#000" stroke-width="1.5"/>
<text x="938.5" y="2606.4" font-size="28.8" text-anchor="end">3</text>
<line x1="939.0" y1="2618.5" x2="952.1" y2="2618.5" stroke="#000" stroke-width="1.5"/>
<text x="938.5" y="2628.5" font-size="28.8" text-anchor="end">1</text>
<line x1="939.0" y1="2640.6" x2="952.1" y2="2640.6" stroke="#000" stroke-width="1.5"/>
<text x="938.5" y="2650.6" font-size="28.8" text-anchor="end">7</text>
<line x1="939.0" y1="2662.8" x2="952.1" y2="2662.8" stroke="#000" stroke-width="1.5"/>
<text x="938.5" y="2672.8" font-size="28.8" text-anchor="end">9</text>
<text transform="translate(895.0,2518.6) rotate(-90)" font-size="28.8" text-anchor="middle">metacell</text>
<line x1="1035.0" y1="2397.1" x2="1135.7" y2="2397.1" stroke="#000" stroke-width="1.6" stroke-dasharray="5.2 3.6"/>
<line x1="1135.7" y1="2392.8" x2="1135.7" y2="2401.4" stroke="#000" stroke-width="1.6"/>
<rect x="959.3" y="2388.5" width="75.7" height="17.1" fill="#ee5c42" stroke="#111" stroke-width="1.6"/>
<line x1="961.1" y1="2388.5" x2="961.1" y2="2405.7" stroke="#000" stroke-width="3.6"/>
<line x1="1028.6" y1="2419.2" x2="1127.9" y2="2419.2" stroke="#000" stroke-width="1.6" stroke-dasharray="5.2 3.6"/>
<line x1="1127.9" y1="2414.9" x2="1127.9" y2="2423.5" stroke="#000" stroke-width="1.6"/>
<rect x="959.3" y="2410.7" width="69.3" height="17.1" fill="#ee5c42" stroke="#111" stroke-width="1.6"/>
<line x1="961.1" y1="2410.7" x2="961.1" y2="2427.8" stroke="#000" stroke-width="3.6"/>
<line x1="1042.1" y1="2441.4" x2="1163.6" y2="2441.4" stroke="#000" stroke-width="1.6" stroke-dasharray="5.2 3.6"/>
<line x1="1163.6" y1="2437.1" x2="1163.6" y2="2445.7" stroke="#000" stroke-width="1.6"/>
<rect x="961.1" y="2432.8" width="81.1" height="17.1" fill="#ee5c42" stroke="#111" stroke-width="1.6"/>
<line x1="993.9" y1="2432.8" x2="993.9" y2="2449.9" stroke="#000" stroke-width="3.6"/>
<line x1="1030.0" y1="2463.5" x2="1132.5" y2="2463.5" stroke="#000" stroke-width="1.6" stroke-dasharray="5.2 3.6"/>
<line x1="1132.5" y1="2459.2" x2="1132.5" y2="2467.8" stroke="#000" stroke-width="1.6"/>
<rect x="959.3" y="2455.0" width="70.7" height="17.1" fill="#ee5c42" stroke="#111" stroke-width="1.6"/>
<line x1="961.1" y1="2455.0" x2="961.1" y2="2472.1" stroke="#000" stroke-width="3.6"/>
<line x1="1020.7" y1="2485.7" x2="1099.3" y2="2485.7" stroke="#000" stroke-width="1.6" stroke-dasharray="5.2 3.6"/>
<line x1="1099.3" y1="2481.4" x2="1099.3" y2="2490.0" stroke="#000" stroke-width="1.6"/>
<rect x="961.1" y="2477.1" width="59.6" height="17.1" fill="#ee5c42" stroke="#111" stroke-width="1.6"/>
<line x1="991.4" y1="2477.1" x2="991.4" y2="2494.2" stroke="#000" stroke-width="3.6"/>
<line x1="1024.3" y1="2507.8" x2="1106.4" y2="2507.8" stroke="#000" stroke-width="1.6" stroke-dasharray="5.2 3.6"/>
<line x1="1106.4" y1="2503.5" x2="1106.4" y2="2512.1" stroke="#000" stroke-width="1.6"/>
<rect x="961.1" y="2499.2" width="63.2" height="17.1" fill="#ee5c42" stroke="#111" stroke-width="1.6"/>
<line x1="983.9" y1="2499.2" x2="983.9" y2="2516.3" stroke="#000" stroke-width="3.6"/>
<line x1="1023.6" y1="2529.9" x2="1114.6" y2="2529.9" stroke="#000" stroke-width="1.6" stroke-dasharray="5.2 3.6"/>
<line x1="1114.6" y1="2525.6" x2="1114.6" y2="2534.2" stroke="#000" stroke-width="1.6"/>
<rect x="961.1" y="2521.4" width="62.5" height="17.1" fill="#ee5c42" stroke="#111" stroke-width="1.6"/>
<line x1="986.8" y1="2521.4" x2="986.8" y2="2538.5" stroke="#000" stroke-width="3.6"/>
<line x1="1007.5" y1="2552.1" x2="1073.6" y2="2552.1" stroke="#000" stroke-width="1.6" stroke-dasharray="5.2 3.6"/>
<line x1="1073.6" y1="2547.8" x2="1073.6" y2="2556.4" stroke="#000" stroke-width="1.6"/>
<rect x="961.1" y="2543.5" width="46.4" height="17.1" fill="#ee5c42" stroke="#111" stroke-width="1.6"/>
<line x1="980.7" y1="2543.5" x2="980.7" y2="2560.6" stroke="#000" stroke-width="3.6"/>
<line x1="1041.4" y1="2574.2" x2="1155.0" y2="2574.2" stroke="#000" stroke-width="1.6" stroke-dasharray="5.2 3.6"/>
<line x1="1155.0" y1="2569.9" x2="1155.0" y2="2578.5" stroke="#000" stroke-width="1.6"/>
<rect x="961.1" y="2565.7" width="80.4" height="17.1" fill="#ee5c42" stroke="#111" stroke-width="1.6"/>
<line x1="997.5" y1="2565.7" x2="997.5" y2="2582.8" stroke="#000" stroke-width="3.6"/>
<line x1="1042.1" y1="2596.4" x2="1155.0" y2="2596.4" stroke="#000" stroke-width="1.6" stroke-dasharray="5.2 3.6"/>
<line x1="1155.0" y1="2592.1" x2="1155.0" y2="2600.7" stroke="#000" stroke-width="1.6"/>
<rect x="961.1" y="2587.8" width="81.1" height="17.1" fill="#ee5c42" stroke="#111" stroke-width="1.6"/>
<line x1="997.5" y1="2587.8" x2="997.5" y2="2604.9" stroke="#000" stroke-width="3.6"/>
<line x1="1042.1" y1="2618.5" x2="1148.2" y2="2618.5" stroke="#000" stroke-width="1.6" stroke-dasharray="5.2 3.6"/>
<line x1="1148.2" y1="2614.2" x2="1148.2" y2="2622.8" stroke="#000" stroke-width="1.6"/>
<rect x="961.1" y="2609.9" width="81.1" height="17.1" fill="#ee5c42" stroke="#111" stroke-width="1.6"/>
<line x1="998.6" y1="2609.9" x2="998.6" y2="2627.1" stroke="#000" stroke-width="3.6"/>
<line x1="1050.0" y1="2640.6" x2="1179.6" y2="2640.6" stroke="#000" stroke-width="1.6" stroke-dasharray="5.2 3.6"/>
<line x1="1179.6" y1="2636.3" x2="1179.6" y2="2644.9" stroke="#000" stroke-width="1.6"/>
<rect x="961.1" y="2632.1" width="88.9" height="17.1" fill="#ee5c42" stroke="#111" stroke-width="1.6"/>
<line x1="985.0" y1="2632.1" x2="985.0" y2="2649.2" stroke="#000" stroke-width="3.6"/>
<line x1="1022.5" y1="2662.8" x2="1115.7" y2="2662.8" stroke="#000" stroke-width="1.6" stroke-dasharray="5.2 3.6"/>
<line x1="1115.7" y1="2658.5" x2="1115.7" y2="2667.1" stroke="#000" stroke-width="1.6"/>
<rect x="959.3" y="2654.2" width="63.2" height="17.1" fill="#ee5c42" stroke="#111" stroke-width="1.6"/>
<line x1="961.1" y1="2654.2" x2="961.1" y2="2671.3" stroke="#000" stroke-width="3.6"/>
<line x1="1217.0" y1="2374.6" x2="1465.3" y2="2374.6" stroke="#000" stroke-width="1.5"/>
<line x1="1228.6" y1="2374.6" x2="1228.6" y2="2686.0" stroke="#000" stroke-width="1.5"/>
<text x="1236.8" y="2356.0" font-size="28.8" text-anchor="middle">0</text>
<text x="1304.4" y="2356.0" font-size="28.8" text-anchor="middle">10</text>
<text x="1371.9" y="2356.0" font-size="28.8" text-anchor="middle">20</text>
<text x="1439.4" y="2356.0" font-size="28.8" text-anchor="middle">30</text>
<line x1="1236.8" y1="2374.6" x2="1236.8" y2="2363.2" stroke="#000" stroke-width="1.5"/>
<line x1="1270.6" y1="2374.6" x2="1270.6" y2="2363.2" stroke="#000" stroke-width="1.5"/>
<line x1="1304.4" y1="2374.6" x2="1304.4" y2="2363.2" stroke="#000" stroke-width="1.5"/>
<line x1="1338.2" y1="2374.6" x2="1338.2" y2="2363.2" stroke="#000" stroke-width="1.5"/>
<line x1="1371.9" y1="2374.6" x2="1371.9" y2="2363.2" stroke="#000" stroke-width="1.5"/>
<line x1="1405.7" y1="2374.6" x2="1405.7" y2="2363.2" stroke="#000" stroke-width="1.5"/>
<line x1="1439.4" y1="2374.6" x2="1439.4" y2="2363.2" stroke="#000" stroke-width="1.5"/>
<line x1="1217.0" y1="2419.2" x2="1228.6" y2="2419.2" stroke="#000" stroke-width="1.5"/>
<line x1="1217.0" y1="2463.5" x2="1228.6" y2="2463.5" stroke="#000" stroke-width="1.5"/>
<line x1="1217.0" y1="2507.8" x2="1228.6" y2="2507.8" stroke="#000" stroke-width="1.5"/>
<line x1="1217.0" y1="2552.1" x2="1228.6" y2="2552.1" stroke="#000" stroke-width="1.5"/>
<line x1="1217.0" y1="2596.4" x2="1228.6" y2="2596.4" stroke="#000" stroke-width="1.5"/>
<line x1="1217.0" y1="2640.6" x2="1228.6" y2="2640.6" stroke="#000" stroke-width="1.5"/>
<line x1="1217.0" y1="2684.6" x2="1228.6" y2="2684.6" stroke="#000" stroke-width="1.5"/>
<line x1="1245.0" y1="2397.1" x2="1305.4" y2="2397.1" stroke="#000" stroke-width="1.6" stroke-dasharray="5.2 3.6"/>
<line x1="1245.0" y1="2392.8" x2="1245.0" y2="2401.4" stroke="#000" stroke-width="1.6"/>
<line x1="1361.1" y1="2397.1" x2="1443.2" y2="2397.1" stroke="#000" stroke-width="1.6" stroke-dasharray="5.2 3.6"/>
<line x1="1443.2" y1="2392.8" x2="1443.2" y2="2401.4" stroke="#000" stroke-width="1.6"/>
<rect x="1305.4" y="2388.5" width="55.7" height="17.1" fill="#f0e0d0" stroke="#111" stroke-width="1.6"/>
<line x1="1334.3" y1="2388.5" x2="1334.3" y2="2405.7" stroke="#000" stroke-width="3.6"/>
<line x1="1236.8" y1="2419.2" x2="1307.1" y2="2419.2" stroke="#000" stroke-width="1.6" stroke-dasharray="5.2 3.6"/>
<line x1="1236.8" y1="2414.9" x2="1236.8" y2="2423.5" stroke="#000" stroke-width="1.6"/>
<line x1="1364.6" y1="2419.2" x2="1451.8" y2="2419.2" stroke="#000" stroke-width="1.6" stroke-dasharray="5.2 3.6"/>
<line x1="1451.8" y1="2414.9" x2="1451.8" y2="2423.5" stroke="#000" stroke-width="1.6"/>
<rect x="1307.1" y="2410.7" width="57.5" height="17.1" fill="#f0e0d0" stroke="#111" stroke-width="1.6"/>
<line x1="1336.1" y1="2410.7" x2="1336.1" y2="2427.8" stroke="#000" stroke-width="3.6"/>
<line x1="1251.8" y1="2441.4" x2="1305.4" y2="2441.4" stroke="#000" stroke-width="1.6" stroke-dasharray="5.2 3.6"/>
<line x1="1251.8" y1="2437.1" x2="1251.8" y2="2445.7" stroke="#000" stroke-width="1.6"/>
<line x1="1365.7" y1="2441.4" x2="1456.4" y2="2441.4" stroke="#000" stroke-width="1.6" stroke-dasharray="5.2 3.6"/>
<line x1="1456.4" y1="2437.1" x2="1456.4" y2="2445.7" stroke="#000" stroke-width="1.6"/>
<rect x="1305.4" y="2432.8" width="60.4" height="17.1" fill="#f0e0d0" stroke="#111" stroke-width="1.6"/>
<line x1="1332.1" y1="2432.8" x2="1332.1" y2="2449.9" stroke="#000" stroke-width="3.6"/>
<line x1="1260.0" y1="2463.5" x2="1323.2" y2="2463.5" stroke="#000" stroke-width="1.6" stroke-dasharray="5.2 3.6"/>
<line x1="1260.0" y1="2459.2" x2="1260.0" y2="2467.8" stroke="#000" stroke-width="1.6"/>
<line x1="1368.9" y1="2463.5" x2="1437.9" y2="2463.5" stroke="#000" stroke-width="1.6" stroke-dasharray="5.2 3.6"/>
<line x1="1437.9" y1="2459.2" x2="1437.9" y2="2467.8" stroke="#000" stroke-width="1.6"/>
<rect x="1323.2" y="2455.0" width="45.7" height="17.1" fill="#f0e0d0" stroke="#111" stroke-width="1.6"/>
<line x1="1343.9" y1="2455.0" x2="1343.9" y2="2472.1" stroke="#000" stroke-width="3.6"/>
<line x1="1256.4" y1="2485.7" x2="1308.2" y2="2485.7" stroke="#000" stroke-width="1.6" stroke-dasharray="5.2 3.6"/>
<line x1="1256.4" y1="2481.4" x2="1256.4" y2="2490.0" stroke="#000" stroke-width="1.6"/>
<line x1="1353.9" y1="2485.7" x2="1414.6" y2="2485.7" stroke="#000" stroke-width="1.6" stroke-dasharray="5.2 3.6"/>
<line x1="1414.6" y1="2481.4" x2="1414.6" y2="2490.0" stroke="#000" stroke-width="1.6"/>
<rect x="1308.2" y="2477.1" width="45.7" height="17.1" fill="#f0e0d0" stroke="#111" stroke-width="1.6"/>
<line x1="1335.7" y1="2477.1" x2="1335.7" y2="2494.2" stroke="#000" stroke-width="3.6"/>
<line x1="1251.8" y1="2507.8" x2="1316.4" y2="2507.8" stroke="#000" stroke-width="1.6" stroke-dasharray="5.2 3.6"/>
<line x1="1251.8" y1="2503.5" x2="1251.8" y2="2512.1" stroke="#000" stroke-width="1.6"/>
<line x1="1362.5" y1="2507.8" x2="1430.7" y2="2507.8" stroke="#000" stroke-width="1.6" stroke-dasharray="5.2 3.6"/>
<line x1="1430.7" y1="2503.5" x2="1430.7" y2="2512.1" stroke="#000" stroke-width="1.6"/>
<rect x="1316.4" y="2499.2" width="46.1" height="17.1" fill="#f0e0d0" stroke="#111" stroke-width="1.6"/>
<line x1="1339.3" y1="2499.2" x2="1339.3" y2="2516.3" stroke="#000" stroke-width="3.6"/>
<line x1="1236.8" y1="2529.9" x2="1306.4" y2="2529.9" stroke="#000" stroke-width="1.6" stroke-dasharray="5.2 3.6"/>
<line x1="1236.8" y1="2525.6" x2="1236.8" y2="2534.2" stroke="#000" stroke-width="1.6"/>
<line x1="1355.7" y1="2529.9" x2="1424.3" y2="2529.9" stroke="#000" stroke-width="1.6" stroke-dasharray="5.2 3.6"/>
<line x1="1424.3" y1="2525.6" x2="1424.3" y2="2534.2" stroke="#000" stroke-width="1.6"/>
<rect x="1306.4" y="2521.4" width="49.3" height="17.1" fill="#f0e0d0" stroke="#111" stroke-width="1.6"/>
<line x1="1329.6" y1="2521.4" x2="1329.6" y2="2538.5" stroke="#000" stroke-width="3.6"/>
<line x1="1245.7" y1="2552.1" x2="1311.1" y2="2552.1" stroke="#000" stroke-width="1.6" stroke-dasharray="5.2 3.6"/>
<line x1="1245.7" y1="2547.8" x2="1245.7" y2="2556.4" stroke="#000" stroke-width="1.6"/>
<line x1="1360.0" y1="2552.1" x2="1428.6" y2="2552.1" stroke="#000" stroke-width="1.6" stroke-dasharray="5.2 3.6"/>
<line x1="1428.6" y1="2547.8" x2="1428.6" y2="2556.4" stroke="#000" stroke-width="1.6"/>
<rect x="1311.1" y="2543.5" width="48.9" height="17.1" fill="#f0e0d0" stroke="#111" stroke-width="1.6"/>
<line x1="1338.6" y1="2543.5" x2="1338.6" y2="2560.6" stroke="#000" stroke-width="3.6"/>
<line x1="1252.1" y1="2574.2" x2="1310.0" y2="2574.2" stroke="#000" stroke-width="1.6" stroke-dasharray="5.2 3.6"/>
<line x1="1252.1" y1="2569.9" x2="1252.1" y2="2578.5" stroke="#000" stroke-width="1.6"/>
<line x1="1362.1" y1="2574.2" x2="1438.6" y2="2574.2" stroke="#000" stroke-width="1.6" stroke-dasharray="5.2 3.6"/>
<line x1="1438.6" y1="2569.9" x2="1438.6" y2="2578.5" stroke="#000" stroke-width="1.6"/>
<rect x="1310.0" y="2565.7" width="52.1" height="17.1" fill="#f0e0d0" stroke="#111" stroke-width="1.6"/>
<line x1="1339.3" y1="2565.7" x2="1339.3" y2="2582.8" stroke="#000" stroke-width="3.6"/>
<line x1="1265.4" y1="2596.4" x2="1318.6" y2="2596.4" stroke="#000" stroke-width="1.6" stroke-dasharray="5.2 3.6"/>
<line x1="1265.4" y1="2592.1" x2="1265.4" y2="2600.7" stroke="#000" stroke-width="1.6"/>
<line x1="1378.6" y1="2596.4" x2="1446.1" y2="2596.4" stroke="#000" stroke-width="1.6" stroke-dasharray="5.2 3.6"/>
<line x1="1446.1" y1="2592.1" x2="1446.1" y2="2600.7" stroke="#000" stroke-width="1.6"/>
<rect x="1318.6" y="2587.8" width="60.0" height="17.1" fill="#f0e0d0" stroke="#111" stroke-width="1.6"/>
<line x1="1345.7" y1="2587.8" x2="1345.7" y2="2604.9" stroke="#000" stroke-width="3.6"/>
<line x1="1253.9" y1="2618.5" x2="1312.1" y2="2618.5" stroke="#000" stroke-width="1.6" stroke-dasharray="5.2 3.6"/>
<line x1="1253.9" y1="2614.2" x2="1253.9" y2="2622.8" stroke="#000" stroke-width="1.6"/>
<line x1="1363.9" y1="2618.5" x2="1432.5" y2="2618.5" stroke="#000" stroke-width="1.6" stroke-dasharray="5.2 3.6"/>
<line x1="1432.5" y1="2614.2" x2="1432.5" y2="2622.8" stroke="#000" stroke-width="1.6"/>
<rect x="1312.1" y="2609.9" width="51.8" height="17.1" fill="#f0e0d0" stroke="#111" stroke-width="1.6"/>
<line x1="1338.6" y1="2609.9" x2="1338.6" y2="2627.1" stroke="#000" stroke-width="3.6"/>
<line x1="1255.7" y1="2640.6" x2="1312.1" y2="2640.6" stroke="#000" stroke-width="1.6" stroke-dasharray="5.2 3.6"/>
<line x1="1255.7" y1="2636.3" x2="1255.7" y2="2644.9" stroke="#000" stroke-width="1.6"/>
<line x1="1362.9" y1="2640.6" x2="1440.0" y2="2640.6" stroke="#000" stroke-width="1.6" stroke-dasharray="5.2 3.6"/>
<line x1="1440.0" y1="2636.3" x2="1440.0" y2="2644.9" stroke="#000" stroke-width="1.6"/>
<rect x="1312.1" y="2632.1" width="50.7" height="17.1" fill="#f0e0d0" stroke="#111" stroke-width="1.6"/>
<line x1="1335.7" y1="2632.1" x2="1335.7" y2="2649.2" stroke="#000" stroke-width="3.6"/>
<line x1="1252.1" y1="2662.8" x2="1313.6" y2="2662.8" stroke="#000" stroke-width="1.6" stroke-dasharray="5.2 3.6"/>
<line x1="1252.1" y1="2658.5" x2="1252.1" y2="2667.1" stroke="#000" stroke-width="1.6"/>
<line x1="1374.3" y1="2662.8" x2="1455.7" y2="2662.8" stroke="#000" stroke-width="1.6" stroke-dasharray="5.2 3.6"/>
<line x1="1455.7" y1="2658.5" x2="1455.7" y2="2667.1" stroke="#000" stroke-width="1.6"/>
<rect x="1313.6" y="2654.2" width="60.7" height="17.1" fill="#f0e0d0" stroke="#111" stroke-width="1.6"/>
<line x1="1342.9" y1="2654.2" x2="1342.9" y2="2671.3" stroke="#000" stroke-width="3.6"/>
<line x1="1496.4" y1="2374.6" x2="1744.6" y2="2374.6" stroke="#000" stroke-width="1.5"/>
<line x1="1508.1" y1="2374.6" x2="1508.1" y2="2686.0" stroke="#000" stroke-width="1.5"/>
<line x1="1516.4" y1="2374.6" x2="1516.4" y2="2363.2" stroke="#000" stroke-width="1.5"/>
<text x="1516.4" y="2356.0" font-size="28.8" text-anchor="middle">0</text>
<line x1="1574.1" y1="2374.6" x2="1574.1" y2="2363.2" stroke="#000" stroke-width="1.5"/>
<text x="1574.1" y="2356.0" font-size="28.8" text-anchor="middle">20</text>
<line x1="1631.9" y1="2374.6" x2="1631.9" y2="2363.2" stroke="#000" stroke-width="1.5"/>
<text x="1631.9" y="2356.0" font-size="28.8" text-anchor="middle">40</text>
<line x1="1689.6" y1="2374.6" x2="1689.6" y2="2363.2" stroke="#000" stroke-width="1.5"/>
<text x="1689.6" y="2356.0" font-size="28.8" text-anchor="middle">60</text>
<line x1="1496.4" y1="2419.2" x2="1508.1" y2="2419.2" stroke="#000" stroke-width="1.5"/>
<line x1="1496.4" y1="2463.5" x2="1508.1" y2="2463.5" stroke="#000" stroke-width="1.5"/>
<line x1="1496.4" y1="2507.8" x2="1508.1" y2="2507.8" stroke="#000" stroke-width="1.5"/>
<line x1="1496.4" y1="2552.1" x2="1508.1" y2="2552.1" stroke="#000" stroke-width="1.5"/>
<line x1="1496.4" y1="2596.4" x2="1508.1" y2="2596.4" stroke="#000" stroke-width="1.5"/>
<line x1="1496.4" y1="2640.6" x2="1508.1" y2="2640.6" stroke="#000" stroke-width="1.5"/>
<line x1="1496.4" y1="2684.6" x2="1508.1" y2="2684.6" stroke="#000" stroke-width="1.5"/>
<line x1="1516.4" y1="2397.1" x2="1569.6" y2="2397.1" stroke="#000" stroke-width="1.6" stroke-dasharray="5.2 3.6"/>
<line x1="1516.4" y1="2392.8" x2="1516.4" y2="2401.4" stroke="#000" stroke-width="1.6"/>
<line x1="1619.6" y1="2397.1" x2="1693.1" y2="2397.1" stroke="#000" stroke-width="1.6" stroke-dasharray="5.2 3.6"/>
<line x1="1693.1" y1="2392.8" x2="1693.1" y2="2401.4" stroke="#000" stroke-width="1.6"/>
<rect x="1569.6" y="2388.5" width="50.0" height="17.1" fill="#8a2be2" stroke="#111" stroke-width="1.6"/>
<line x1="1593.1" y1="2388.5" x2="1593.1" y2="2405.7" stroke="#000" stroke-width="3.6"/>
<line x1="1530.3" y1="2419.2" x2="1571.7" y2="2419.2" stroke="#000" stroke-width="1.6" stroke-dasharray="5.2 3.6"/>
<line x1="1530.3" y1="2414.9" x2="1530.3" y2="2423.5" stroke="#000" stroke-width="1.6"/>
<line x1="1627.4" y1="2419.2" x2="1706.7" y2="2419.2" stroke="#000" stroke-width="1.6" stroke-dasharray="5.2 3.6"/>
<line x1="1706.7" y1="2414.9" x2="1706.7" y2="2423.5" stroke="#000" stroke-width="1.6"/>
<rect x="1571.7" y="2410.7" width="55.7" height="17.1" fill="#8a2be2" stroke="#111" stroke-width="1.6"/>
<line x1="1597.4" y1="2410.7" x2="1597.4" y2="2427.8" stroke="#000" stroke-width="3.6"/>
<line x1="1544.6" y1="2441.4" x2="1582.4" y2="2441.4" stroke="#000" stroke-width="1.6" stroke-dasharray="5.2 3.6"/>
<line x1="1544.6" y1="2437.1" x2="1544.6" y2="2445.7" stroke="#000" stroke-width="1.6"/>
<line x1="1631.4" y1="2441.4" x2="1697.4" y2="2441.4" stroke="#000" stroke-width="1.6" stroke-dasharray="5.2 3.6"/>
<line x1="1697.4" y1="2437.1" x2="1697.4" y2="2445.7" stroke="#000" stroke-width="1.6"/>
<rect x="1582.4" y="2432.8" width="48.9" height="17.1" fill="#8a2be2" stroke="#111" stroke-width="1.6"/>
<line x1="1605.3" y1="2432.8" x2="1605.3" y2="2449.9" stroke="#000" stroke-width="3.6"/>
<line x1="1536.0" y1="2463.5" x2="1589.6" y2="2463.5" stroke="#000" stroke-width="1.6" stroke-dasharray="5.2 3.6"/>
<line x1="1536.0" y1="2459.2" x2="1536.0" y2="2467.8" stroke="#000" stroke-width="1.6"/>
<line x1="1649.2" y1="2463.5" x2="1728.9" y2="2463.5" stroke="#000" stroke-width="1.6" stroke-dasharray="5.2 3.6"/>
<line x1="1728.9" y1="2459.2" x2="1728.9" y2="2467.8" stroke="#000" stroke-width="1.6"/>
<rect x="1589.6" y="2455.0" width="59.6" height="17.1" fill="#8a2be2" stroke="#111" stroke-width="1.6"/>
<line x1="1616.0" y1="2455.0" x2="1616.0" y2="2472.1" stroke="#000" stroke-width="3.6"/>
<line x1="1530.3" y1="2485.7" x2="1586.0" y2="2485.7" stroke="#000" stroke-width="1.6" stroke-dasharray="5.2 3.6"/>
<line x1="1530.3" y1="2481.4" x2="1530.3" y2="2490.0" stroke="#000" stroke-width="1.6"/>
<line x1="1637.8" y1="2485.7" x2="1702.1" y2="2485.7" stroke="#000" stroke-width="1.6" stroke-dasharray="5.2 3.6"/>
<line x1="1702.1" y1="2481.4" x2="1702.1" y2="2490.0" stroke="#000" stroke-width="1.6"/>
<rect x="1586.0" y="2477.1" width="51.8" height="17.1" fill="#8a2be2" stroke="#111" stroke-width="1.6"/>
<line x1="1610.6" y1="2477.1" x2="1610.6" y2="2494.2" stroke="#000" stroke-width="3.6"/>
<line x1="1548.1" y1="2507.8" x2="1589.6" y2="2507.8" stroke="#000" stroke-width="1.6" stroke-dasharray="5.2 3.6"/>
<line x1="1548.1" y1="2503.5" x2="1548.1" y2="2512.1" stroke="#000" stroke-width="1.6"/>
<line x1="1641.4" y1="2507.8" x2="1710.6" y2="2507.8" stroke="#000" stroke-width="1.6" stroke-dasharray="5.2 3.6"/>
<line x1="1710.6" y1="2503.5" x2="1710.6" y2="2512.1" stroke="#000" stroke-width="1.6"/>
<rect x="1589.6" y="2499.2" width="51.8" height="17.1" fill="#8a2be2" stroke="#111" stroke-width="1.6"/>
<line x1="1611.7" y1="2499.2" x2="1611.7" y2="2516.3" stroke="#000" stroke-width="3.6"/>
<line x1="1542.1" y1="2529.9" x2="1590.3" y2="2529.9" stroke="#000" stroke-width="1.6" stroke-dasharray="5.2 3.6"/>
<line x1="1542.1" y1="2525.6" x2="1542.1" y2="2534.2" stroke="#000" stroke-width="1.6"/>
<line x1="1642.1" y1="2529.9" x2="1714.2" y2="2529.9" stroke="#000" stroke-width="1.6" stroke-dasharray="5.2 3.6"/>
<line x1="1714.2" y1="2525.6" x2="1714.2" y2="2534.2" stroke="#000" stroke-width="1.6"/>
<rect x="1590.3" y="2521.4" width="51.8" height="17.1" fill="#8a2be2" stroke="#111" stroke-width="1.6"/>
<line x1="1612.4" y1="2521.4" x2="1612.4" y2="2538.5" stroke="#000" stroke-width="3.6"/>
<line x1="1545.6" y1="2552.1" x2="1584.6" y2="2552.1" stroke="#000" stroke-width="1.6" stroke-dasharray="5.2 3.6"/>
<line x1="1545.6" y1="2547.8" x2="1545.6" y2="2556.4" stroke="#000" stroke-width="1.6"/>
<line x1="1633.1" y1="2552.1" x2="1702.1" y2="2552.1" stroke="#000" stroke-width="1.6" stroke-dasharray="5.2 3.6"/>
<line x1="1702.1" y1="2547.8" x2="1702.1" y2="2556.4" stroke="#000" stroke-width="1.6"/>
<rect x="1584.6" y="2543.5" width="48.6" height="17.1" fill="#8a2be2" stroke="#111" stroke-width="1.6"/>
<line x1="1606.4" y1="2543.5" x2="1606.4" y2="2560.6" stroke="#000" stroke-width="3.6"/>
<line x1="1523.5" y1="2574.2" x2="1581.0" y2="2574.2" stroke="#000" stroke-width="1.6" stroke-dasharray="5.2 3.6"/>
<line x1="1523.5" y1="2569.9" x2="1523.5" y2="2578.5" stroke="#000" stroke-width="1.6"/>
<line x1="1642.1" y1="2574.2" x2="1718.9" y2="2574.2" stroke="#000" stroke-width="1.6" stroke-dasharray="5.2 3.6"/>
<line x1="1718.9" y1="2569.9" x2="1718.9" y2="2578.5" stroke="#000" stroke-width="1.6"/>
<rect x="1581.0" y="2565.7" width="61.1" height="17.1" fill="#8a2be2" stroke="#111" stroke-width="1.6"/>
<line x1="1609.9" y1="2565.7" x2="1609.9" y2="2582.8" stroke="#000" stroke-width="3.6"/>
<line x1="1536.7" y1="2596.4" x2="1588.9" y2="2596.4" stroke="#000" stroke-width="1.6" stroke-dasharray="5.2 3.6"/>
<line x1="1536.7" y1="2592.1" x2="1536.7" y2="2600.7" stroke="#000" stroke-width="1.6"/>
<line x1="1641.7" y1="2596.4" x2="1720.6" y2="2596.4" stroke="#000" stroke-width="1.6" stroke-dasharray="5.2 3.6"/>
<line x1="1720.6" y1="2592.1" x2="1720.6" y2="2600.7" stroke="#000" stroke-width="1.6"/>
<rect x="1588.9" y="2587.8" width="52.9" height="17.1" fill="#8a2be2" stroke="#111" stroke-width="1.6"/>
<line x1="1611.7" y1="2587.8" x2="1611.7" y2="2604.9" stroke="#000" stroke-width="3.6"/>
<line x1="1536.0" y1="2618.5" x2="1575.6" y2="2618.5" stroke="#000" stroke-width="1.6" stroke-dasharray="5.2 3.6"/>
<line x1="1536.0" y1="2614.2" x2="1536.0" y2="2622.8" stroke="#000" stroke-width="1.6"/>
<line x1="1623.5" y1="2618.5" x2="1692.4" y2="2618.5" stroke="#000" stroke-width="1.6" stroke-dasharray="5.2 3.6"/>
<line x1="1692.4" y1="2614.2" x2="1692.4" y2="2622.8" stroke="#000" stroke-width="1.6"/>
<rect x="1575.6" y="2609.9" width="47.9" height="17.1" fill="#8a2be2" stroke="#111" stroke-width="1.6"/>
<line x1="1598.9" y1="2609.9" x2="1598.9" y2="2627.1" stroke="#000" stroke-width="3.6"/>
<line x1="1537.8" y1="2640.6" x2="1581.4" y2="2640.6" stroke="#000" stroke-width="1.6" stroke-dasharray="5.2 3.6"/>
<line x1="1537.8" y1="2636.3" x2="1537.8" y2="2644.9" stroke="#000" stroke-width="1.6"/>
<line x1="1637.4" y1="2640.6" x2="1720.6" y2="2640.6" stroke="#000" stroke-width="1.6" stroke-dasharray="5.2 3.6"/>
<line x1="1720.6" y1="2636.3" x2="1720.6" y2="2644.9" stroke="#000" stroke-width="1.6"/>
<rect x="1581.4" y="2632.1" width="56.1" height="17.1" fill="#8a2be2" stroke="#111" stroke-width="1.6"/>
<line x1="1604.6" y1="2632.1" x2="1604.6" y2="2649.2" stroke="#000" stroke-width="3.6"/>
<line x1="1526.0" y1="2662.8" x2="1581.4" y2="2662.8" stroke="#000" stroke-width="1.6" stroke-dasharray="5.2 3.6"/>
<line x1="1526.0" y1="2658.5" x2="1526.0" y2="2667.1" stroke="#000" stroke-width="1.6"/>
<line x1="1644.6" y1="2662.8" x2="1736.0" y2="2662.8" stroke="#000" stroke-width="1.6" stroke-dasharray="5.2 3.6"/>
<line x1="1736.0" y1="2658.5" x2="1736.0" y2="2667.1" stroke="#000" stroke-width="1.6"/>
<rect x="1581.4" y="2654.2" width="63.2" height="17.1" fill="#8a2be2" stroke="#111" stroke-width="1.6"/>
<line x1="1608.1" y1="2654.2" x2="1608.1" y2="2671.3" stroke="#000" stroke-width="3.6"/>
</svg></body></html>
